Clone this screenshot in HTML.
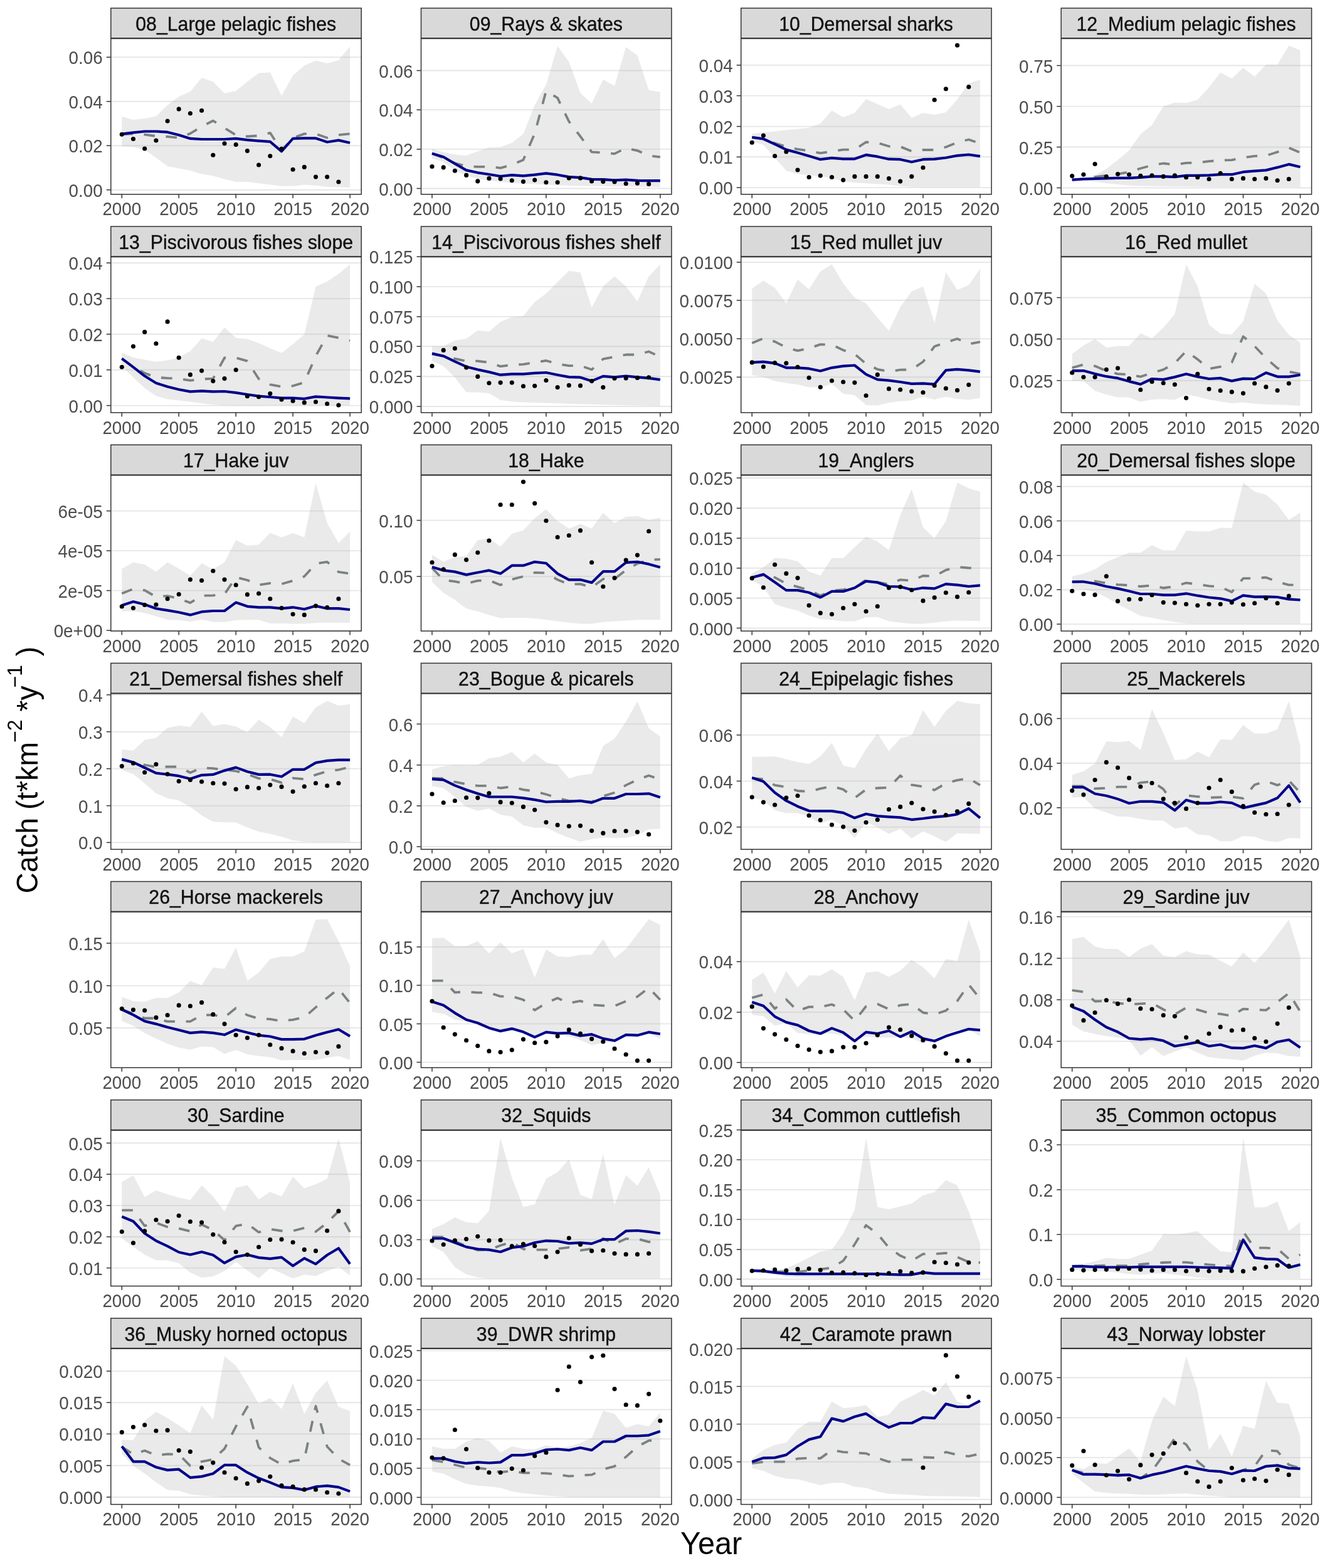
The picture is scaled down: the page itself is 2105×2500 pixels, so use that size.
<!DOCTYPE html><html><head><meta charset="utf-8"><style>html,body{margin:0;padding:0;background:#fff;overflow:hidden;}svg{display:block;font-family:"Liberation Sans",Arial,sans-serif;}</style></head><body><svg width="2105" height="2500" viewBox="0 0 2105 2500">
<rect width="100%" height="100%" fill="#ffffff"/>
<rect x="176.1" y="60.8" width="400.2" height="249.0" fill="#fff"/>
<clipPath id="c0"><rect x="176.1" y="60.8" width="400.2" height="249.0"/></clipPath>
<g clip-path="url(#c0)">
<line x1="176.1" x2="576.3" y1="91.2" y2="91.2" stroke="#e6e6e6" stroke-width="1.9"/>
<line x1="176.1" x2="576.3" y1="161.7" y2="161.7" stroke="#e6e6e6" stroke-width="1.9"/>
<line x1="176.1" x2="576.3" y1="232.2" y2="232.2" stroke="#e6e6e6" stroke-width="1.9"/>
<line x1="176.1" x2="576.3" y1="302.7" y2="302.7" stroke="#e6e6e6" stroke-width="1.9"/>
<path d="M194.3,185.7 L212.5,190.9 L230.7,189.1 L248.9,185.3 L267.1,167.6 L285.2,154.0 L303.4,146.0 L321.6,124.0 L339.8,130.2 L358.0,148.8 L376.2,144.9 L394.4,130.2 L412.6,116.6 L430.8,115.4 L449.0,152.8 L467.1,120.4 L485.3,104.5 L503.5,96.8 L521.7,101.1 L539.9,96.1 L558.1,74.2 L558.1,299.1 L539.9,298.6 L521.7,298.0 L503.5,295.7 L485.3,294.6 L467.1,296.8 L449.0,296.8 L430.8,294.6 L412.6,292.3 L394.4,290.0 L376.2,290.0 L358.0,285.5 L339.8,280.5 L321.6,277.6 L303.4,271.9 L285.2,268.5 L267.1,265.1 L248.9,251.5 L230.7,239.0 L212.5,234.5 L194.3,233.3Z" fill="#b3b3b3" fill-opacity="0.27"/>
<path d="M194.3,214.1 L212.5,213.4 L230.7,214.7 L248.9,217.0 L267.1,217.9 L285.2,219.7 L303.4,212.9 L321.6,201.6 L339.8,192.5 L358.0,203.9 L376.2,215.2 L394.4,217.5 L412.6,216.3 L430.8,211.8 L449.0,240.1 L467.1,219.7 L485.3,213.4 L503.5,213.4 L521.7,219.7 L539.9,215.2 L558.1,213.4" fill="none" stroke="#7a8281" stroke-width="3.8" stroke-dasharray="17.6 17.6" stroke-linejoin="round"/>
<path d="M194.3,213.6 L212.5,211.3 L230.7,209.5 L248.9,209.5 L267.1,210.7 L285.2,215.2 L303.4,220.9 L321.6,222.0 L339.8,222.0 L358.0,222.0 L376.2,220.9 L394.4,223.1 L412.6,224.7 L430.8,225.9 L449.0,241.3 L467.1,220.9 L485.3,220.4 L503.5,220.4 L521.7,226.5 L539.9,223.6 L558.1,227.7" fill="none" stroke="#00008b" stroke-width="4.2" stroke-linejoin="round"/>
<circle cx="194.3" cy="214.3" r="3.55" fill="#000"/>
<circle cx="212.5" cy="221.5" r="3.55" fill="#000"/>
<circle cx="230.7" cy="237.0" r="3.55" fill="#000"/>
<circle cx="248.9" cy="224.0" r="3.55" fill="#000"/>
<circle cx="267.1" cy="193.0" r="3.55" fill="#000"/>
<circle cx="285.2" cy="173.9" r="3.55" fill="#000"/>
<circle cx="303.4" cy="180.7" r="3.55" fill="#000"/>
<circle cx="321.6" cy="176.2" r="3.55" fill="#000"/>
<circle cx="339.8" cy="247.2" r="3.55" fill="#000"/>
<circle cx="358.0" cy="228.8" r="3.55" fill="#000"/>
<circle cx="376.2" cy="230.6" r="3.55" fill="#000"/>
<circle cx="394.4" cy="240.6" r="3.55" fill="#000"/>
<circle cx="412.6" cy="263.0" r="3.55" fill="#000"/>
<circle cx="430.8" cy="248.8" r="3.55" fill="#000"/>
<circle cx="449.0" cy="237.4" r="3.55" fill="#000"/>
<circle cx="467.1" cy="270.3" r="3.55" fill="#000"/>
<circle cx="485.3" cy="266.4" r="3.55" fill="#000"/>
<circle cx="503.5" cy="282.1" r="3.55" fill="#000"/>
<circle cx="521.7" cy="282.1" r="3.55" fill="#000"/>
<circle cx="539.9" cy="290.0" r="3.55" fill="#000"/>
</g>
<rect x="176.8" y="61.5" width="399.4" height="248.3" fill="none" stroke="#333333" stroke-width="1.5"/>
<rect x="176.8" y="13.0" width="399.4" height="47.8" fill="#d9d9d9" stroke="#333333" stroke-width="1.5"/>
<text transform="translate(376.2,37.6) scale(1,1.06)" y="10.55" font-size="30.3" text-anchor="middle" fill="#111" stroke="#111" stroke-width="0.4">08_Large pelagic fishes</text>
<line x1="194.3" x2="194.3" y1="309.8" y2="316.1" stroke="#333333" stroke-width="1.5"/>
<text transform="translate(194.3,333.0) scale(1,1.08)" y="9.7" font-size="27.8" text-anchor="middle" fill="#4d4d4d">2000</text>
<line x1="285.2" x2="285.2" y1="309.8" y2="316.1" stroke="#333333" stroke-width="1.5"/>
<text transform="translate(285.2,333.0) scale(1,1.08)" y="9.7" font-size="27.8" text-anchor="middle" fill="#4d4d4d">2005</text>
<line x1="376.2" x2="376.2" y1="309.8" y2="316.1" stroke="#333333" stroke-width="1.5"/>
<text transform="translate(376.2,333.0) scale(1,1.08)" y="9.7" font-size="27.8" text-anchor="middle" fill="#4d4d4d">2010</text>
<line x1="467.1" x2="467.1" y1="309.8" y2="316.1" stroke="#333333" stroke-width="1.5"/>
<text transform="translate(467.1,333.0) scale(1,1.08)" y="9.7" font-size="27.8" text-anchor="middle" fill="#4d4d4d">2015</text>
<line x1="558.1" x2="558.1" y1="309.8" y2="316.1" stroke="#333333" stroke-width="1.5"/>
<text transform="translate(558.1,333.0) scale(1,1.08)" y="9.7" font-size="27.8" text-anchor="middle" fill="#4d4d4d">2020</text>
<line x1="169.8" x2="176.1" y1="91.2" y2="91.2" stroke="#333333" stroke-width="1.5"/>
<text transform="translate(163.7,91.9) scale(1,1.08)" y="9.7" font-size="27.8" text-anchor="end" fill="#4d4d4d">0.06</text>
<line x1="169.8" x2="176.1" y1="161.7" y2="161.7" stroke="#333333" stroke-width="1.5"/>
<text transform="translate(163.7,162.4) scale(1,1.08)" y="9.7" font-size="27.8" text-anchor="end" fill="#4d4d4d">0.04</text>
<line x1="169.8" x2="176.1" y1="232.2" y2="232.2" stroke="#333333" stroke-width="1.5"/>
<text transform="translate(163.7,232.9) scale(1,1.08)" y="9.7" font-size="27.8" text-anchor="end" fill="#4d4d4d">0.02</text>
<line x1="169.8" x2="176.1" y1="302.7" y2="302.7" stroke="#333333" stroke-width="1.5"/>
<text transform="translate(163.7,303.4) scale(1,1.08)" y="9.7" font-size="27.8" text-anchor="end" fill="#4d4d4d">0.00</text>
<rect x="670.8" y="60.8" width="400.2" height="249.0" fill="#fff"/>
<clipPath id="c1"><rect x="670.8" y="60.8" width="400.2" height="249.0"/></clipPath>
<g clip-path="url(#c1)">
<line x1="670.8" x2="1071.0" y1="112.5" y2="112.5" stroke="#e6e6e6" stroke-width="1.9"/>
<line x1="670.8" x2="1071.0" y1="175.1" y2="175.1" stroke="#e6e6e6" stroke-width="1.9"/>
<line x1="670.8" x2="1071.0" y1="237.9" y2="237.9" stroke="#e6e6e6" stroke-width="1.9"/>
<line x1="670.8" x2="1071.0" y1="300.5" y2="300.5" stroke="#e6e6e6" stroke-width="1.9"/>
<path d="M689.0,237.4 L707.2,242.4 L725.4,246.5 L743.6,248.1 L761.8,241.3 L779.9,235.1 L798.1,234.5 L816.3,227.7 L834.5,213.4 L852.7,167.6 L870.9,134.7 L889.1,73.5 L907.3,98.4 L925.5,148.3 L943.6,165.3 L961.8,126.8 L980.0,137.0 L998.2,75.1 L1016.4,88.2 L1034.6,143.8 L1052.8,146.7 L1052.8,298.6 L1034.6,298.0 L1016.4,298.0 L998.2,297.3 L980.0,297.3 L961.8,296.8 L943.6,296.8 L925.5,296.4 L907.3,295.7 L889.1,295.7 L870.9,294.6 L852.7,293.4 L834.5,292.7 L816.3,291.8 L798.1,290.0 L779.9,287.8 L761.8,285.5 L743.6,279.8 L725.4,271.9 L707.2,258.3 L689.0,252.6Z" fill="#b3b3b3" fill-opacity="0.27"/>
<path d="M689.0,244.7 L707.2,251.5 L725.4,260.1 L743.6,265.1 L761.8,265.8 L779.9,265.8 L798.1,267.8 L816.3,262.8 L834.5,254.9 L852.7,212.9 L870.9,144.9 L889.1,156.2 L907.3,193.7 L925.5,217.5 L943.6,242.4 L961.8,243.5 L980.0,245.1 L998.2,236.1 L1016.4,240.1 L1034.6,248.1 L1052.8,250.3" fill="none" stroke="#7a8281" stroke-width="3.8" stroke-dasharray="17.6 17.6" stroke-linejoin="round"/>
<path d="M689.0,244.7 L707.2,250.3 L725.4,261.0 L743.6,271.4 L761.8,275.3 L779.9,278.0 L798.1,281.0 L816.3,279.1 L834.5,280.3 L852.7,278.7 L870.9,276.4 L889.1,278.7 L907.3,282.1 L925.5,283.2 L943.6,285.9 L961.8,286.2 L980.0,287.3 L998.2,286.6 L1016.4,287.8 L1034.6,288.2 L1052.8,288.2" fill="none" stroke="#00008b" stroke-width="4.2" stroke-linejoin="round"/>
<circle cx="689.0" cy="265.5" r="3.55" fill="#000"/>
<circle cx="707.2" cy="266.9" r="3.55" fill="#000"/>
<circle cx="725.4" cy="272.3" r="3.55" fill="#000"/>
<circle cx="743.6" cy="279.4" r="3.55" fill="#000"/>
<circle cx="761.8" cy="288.9" r="3.55" fill="#000"/>
<circle cx="779.9" cy="284.4" r="3.55" fill="#000"/>
<circle cx="798.1" cy="285.0" r="3.55" fill="#000"/>
<circle cx="816.3" cy="287.8" r="3.55" fill="#000"/>
<circle cx="834.5" cy="289.6" r="3.55" fill="#000"/>
<circle cx="852.7" cy="287.1" r="3.55" fill="#000"/>
<circle cx="870.9" cy="290.7" r="3.55" fill="#000"/>
<circle cx="889.1" cy="290.7" r="3.55" fill="#000"/>
<circle cx="907.3" cy="283.9" r="3.55" fill="#000"/>
<circle cx="925.5" cy="283.9" r="3.55" fill="#000"/>
<circle cx="943.6" cy="288.9" r="3.55" fill="#000"/>
<circle cx="961.8" cy="289.6" r="3.55" fill="#000"/>
<circle cx="980.0" cy="290.0" r="3.55" fill="#000"/>
<circle cx="998.2" cy="292.7" r="3.55" fill="#000"/>
<circle cx="1016.4" cy="292.3" r="3.55" fill="#000"/>
<circle cx="1034.6" cy="293.4" r="3.55" fill="#000"/>
</g>
<rect x="671.5" y="61.5" width="399.4" height="248.3" fill="none" stroke="#333333" stroke-width="1.5"/>
<rect x="671.5" y="13.0" width="399.4" height="47.8" fill="#d9d9d9" stroke="#333333" stroke-width="1.5"/>
<text transform="translate(870.9,37.6) scale(1,1.06)" y="10.55" font-size="30.3" text-anchor="middle" fill="#111" stroke="#111" stroke-width="0.4">09_Rays &amp; skates</text>
<line x1="689.0" x2="689.0" y1="309.8" y2="316.1" stroke="#333333" stroke-width="1.5"/>
<text transform="translate(689.0,333.0) scale(1,1.08)" y="9.7" font-size="27.8" text-anchor="middle" fill="#4d4d4d">2000</text>
<line x1="779.9" x2="779.9" y1="309.8" y2="316.1" stroke="#333333" stroke-width="1.5"/>
<text transform="translate(779.9,333.0) scale(1,1.08)" y="9.7" font-size="27.8" text-anchor="middle" fill="#4d4d4d">2005</text>
<line x1="870.9" x2="870.9" y1="309.8" y2="316.1" stroke="#333333" stroke-width="1.5"/>
<text transform="translate(870.9,333.0) scale(1,1.08)" y="9.7" font-size="27.8" text-anchor="middle" fill="#4d4d4d">2010</text>
<line x1="961.8" x2="961.8" y1="309.8" y2="316.1" stroke="#333333" stroke-width="1.5"/>
<text transform="translate(961.8,333.0) scale(1,1.08)" y="9.7" font-size="27.8" text-anchor="middle" fill="#4d4d4d">2015</text>
<line x1="1052.8" x2="1052.8" y1="309.8" y2="316.1" stroke="#333333" stroke-width="1.5"/>
<text transform="translate(1052.8,333.0) scale(1,1.08)" y="9.7" font-size="27.8" text-anchor="middle" fill="#4d4d4d">2020</text>
<line x1="664.5" x2="670.8" y1="112.5" y2="112.5" stroke="#333333" stroke-width="1.5"/>
<text transform="translate(658.4,113.2) scale(1,1.08)" y="9.7" font-size="27.8" text-anchor="end" fill="#4d4d4d">0.06</text>
<line x1="664.5" x2="670.8" y1="175.1" y2="175.1" stroke="#333333" stroke-width="1.5"/>
<text transform="translate(658.4,175.8) scale(1,1.08)" y="9.7" font-size="27.8" text-anchor="end" fill="#4d4d4d">0.04</text>
<line x1="664.5" x2="670.8" y1="237.9" y2="237.9" stroke="#333333" stroke-width="1.5"/>
<text transform="translate(658.4,238.6) scale(1,1.08)" y="9.7" font-size="27.8" text-anchor="end" fill="#4d4d4d">0.02</text>
<line x1="664.5" x2="670.8" y1="300.5" y2="300.5" stroke="#333333" stroke-width="1.5"/>
<text transform="translate(658.4,301.2) scale(1,1.08)" y="9.7" font-size="27.8" text-anchor="end" fill="#4d4d4d">0.00</text>
<rect x="1181.0" y="60.8" width="400.2" height="249.0" fill="#fff"/>
<clipPath id="c2"><rect x="1181.0" y="60.8" width="400.2" height="249.0"/></clipPath>
<g clip-path="url(#c2)">
<line x1="1181.0" x2="1581.2" y1="103.9" y2="103.9" stroke="#e6e6e6" stroke-width="1.9"/>
<line x1="1181.0" x2="1581.2" y1="152.6" y2="152.6" stroke="#e6e6e6" stroke-width="1.9"/>
<line x1="1181.0" x2="1581.2" y1="201.6" y2="201.6" stroke="#e6e6e6" stroke-width="1.9"/>
<line x1="1181.0" x2="1581.2" y1="250.3" y2="250.3" stroke="#e6e6e6" stroke-width="1.9"/>
<line x1="1181.0" x2="1581.2" y1="299.1" y2="299.1" stroke="#e6e6e6" stroke-width="1.9"/>
<path d="M1199.2,213.4 L1217.4,211.1 L1235.6,209.5 L1253.8,207.3 L1272.0,205.7 L1290.1,203.4 L1308.3,197.1 L1326.5,176.2 L1344.7,186.9 L1362.9,180.0 L1381.1,158.1 L1399.3,166.0 L1417.5,173.9 L1435.7,166.4 L1453.8,188.0 L1472.0,180.0 L1490.2,183.0 L1508.4,178.9 L1526.6,158.5 L1544.8,132.4 L1563.0,127.2 L1563.0,298.6 L1544.8,298.6 L1526.6,298.6 L1508.4,298.6 L1490.2,298.6 L1472.0,298.6 L1453.8,298.0 L1435.7,296.8 L1417.5,294.6 L1399.3,293.4 L1381.1,292.3 L1362.9,291.2 L1344.7,288.9 L1326.5,284.4 L1308.3,281.0 L1290.1,279.8 L1272.0,277.6 L1253.8,271.9 L1235.6,251.5 L1217.4,231.1 L1199.2,225.4Z" fill="#b3b3b3" fill-opacity="0.27"/>
<path d="M1199.2,218.6 L1217.4,220.9 L1235.6,228.3 L1253.8,233.8 L1272.0,237.9 L1290.1,240.6 L1308.3,244.2 L1326.5,241.3 L1344.7,238.6 L1362.9,238.6 L1381.1,226.5 L1399.3,227.7 L1417.5,233.3 L1435.7,233.8 L1453.8,241.3 L1472.0,239.0 L1490.2,239.0 L1508.4,234.5 L1526.6,227.0 L1544.8,222.5 L1563.0,228.8" fill="none" stroke="#7a8281" stroke-width="3.8" stroke-dasharray="17.6 17.6" stroke-linejoin="round"/>
<path d="M1199.2,219.0 L1217.4,221.5 L1235.6,229.9 L1253.8,238.6 L1272.0,243.5 L1290.1,248.8 L1308.3,254.2 L1326.5,251.9 L1344.7,253.3 L1362.9,253.3 L1381.1,246.9 L1399.3,249.7 L1417.5,253.7 L1435.7,254.2 L1453.8,258.3 L1472.0,254.2 L1490.2,253.7 L1508.4,251.5 L1526.6,248.1 L1544.8,246.5 L1563.0,249.2" fill="none" stroke="#00008b" stroke-width="4.2" stroke-linejoin="round"/>
<circle cx="1199.2" cy="227.2" r="3.55" fill="#000"/>
<circle cx="1217.4" cy="216.1" r="3.55" fill="#000"/>
<circle cx="1235.6" cy="248.8" r="3.55" fill="#000"/>
<circle cx="1253.8" cy="242.0" r="3.55" fill="#000"/>
<circle cx="1272.0" cy="271.0" r="3.55" fill="#000"/>
<circle cx="1290.1" cy="282.5" r="3.55" fill="#000"/>
<circle cx="1308.3" cy="280.0" r="3.55" fill="#000"/>
<circle cx="1326.5" cy="282.5" r="3.55" fill="#000"/>
<circle cx="1344.7" cy="287.1" r="3.55" fill="#000"/>
<circle cx="1362.9" cy="281.4" r="3.55" fill="#000"/>
<circle cx="1381.1" cy="281.4" r="3.55" fill="#000"/>
<circle cx="1399.3" cy="281.4" r="3.55" fill="#000"/>
<circle cx="1417.5" cy="284.6" r="3.55" fill="#000"/>
<circle cx="1435.7" cy="289.1" r="3.55" fill="#000"/>
<circle cx="1453.8" cy="281.4" r="3.55" fill="#000"/>
<circle cx="1472.0" cy="267.3" r="3.55" fill="#000"/>
<circle cx="1490.2" cy="159.2" r="3.55" fill="#000"/>
<circle cx="1508.4" cy="141.7" r="3.55" fill="#000"/>
<circle cx="1526.6" cy="72.3" r="3.55" fill="#000"/>
<circle cx="1544.8" cy="138.6" r="3.55" fill="#000"/>
</g>
<rect x="1181.7" y="61.5" width="399.4" height="248.3" fill="none" stroke="#333333" stroke-width="1.5"/>
<rect x="1181.7" y="13.0" width="399.4" height="47.8" fill="#d9d9d9" stroke="#333333" stroke-width="1.5"/>
<text transform="translate(1381.1,37.6) scale(1,1.06)" y="10.55" font-size="30.3" text-anchor="middle" fill="#111" stroke="#111" stroke-width="0.4">10_Demersal sharks</text>
<line x1="1199.2" x2="1199.2" y1="309.8" y2="316.1" stroke="#333333" stroke-width="1.5"/>
<text transform="translate(1199.2,333.0) scale(1,1.08)" y="9.7" font-size="27.8" text-anchor="middle" fill="#4d4d4d">2000</text>
<line x1="1290.1" x2="1290.1" y1="309.8" y2="316.1" stroke="#333333" stroke-width="1.5"/>
<text transform="translate(1290.1,333.0) scale(1,1.08)" y="9.7" font-size="27.8" text-anchor="middle" fill="#4d4d4d">2005</text>
<line x1="1381.1" x2="1381.1" y1="309.8" y2="316.1" stroke="#333333" stroke-width="1.5"/>
<text transform="translate(1381.1,333.0) scale(1,1.08)" y="9.7" font-size="27.8" text-anchor="middle" fill="#4d4d4d">2010</text>
<line x1="1472.0" x2="1472.0" y1="309.8" y2="316.1" stroke="#333333" stroke-width="1.5"/>
<text transform="translate(1472.0,333.0) scale(1,1.08)" y="9.7" font-size="27.8" text-anchor="middle" fill="#4d4d4d">2015</text>
<line x1="1563.0" x2="1563.0" y1="309.8" y2="316.1" stroke="#333333" stroke-width="1.5"/>
<text transform="translate(1563.0,333.0) scale(1,1.08)" y="9.7" font-size="27.8" text-anchor="middle" fill="#4d4d4d">2020</text>
<line x1="1174.7" x2="1181.0" y1="103.9" y2="103.9" stroke="#333333" stroke-width="1.5"/>
<text transform="translate(1168.6,104.6) scale(1,1.08)" y="9.7" font-size="27.8" text-anchor="end" fill="#4d4d4d">0.04</text>
<line x1="1174.7" x2="1181.0" y1="152.6" y2="152.6" stroke="#333333" stroke-width="1.5"/>
<text transform="translate(1168.6,153.3) scale(1,1.08)" y="9.7" font-size="27.8" text-anchor="end" fill="#4d4d4d">0.03</text>
<line x1="1174.7" x2="1181.0" y1="201.6" y2="201.6" stroke="#333333" stroke-width="1.5"/>
<text transform="translate(1168.6,202.3) scale(1,1.08)" y="9.7" font-size="27.8" text-anchor="end" fill="#4d4d4d">0.02</text>
<line x1="1174.7" x2="1181.0" y1="250.3" y2="250.3" stroke="#333333" stroke-width="1.5"/>
<text transform="translate(1168.6,251.0) scale(1,1.08)" y="9.7" font-size="27.8" text-anchor="end" fill="#4d4d4d">0.01</text>
<line x1="1174.7" x2="1181.0" y1="299.1" y2="299.1" stroke="#333333" stroke-width="1.5"/>
<text transform="translate(1168.6,299.8) scale(1,1.08)" y="9.7" font-size="27.8" text-anchor="end" fill="#4d4d4d">0.00</text>
<rect x="1691.5" y="60.8" width="400.2" height="249.0" fill="#fff"/>
<clipPath id="c3"><rect x="1691.5" y="60.8" width="400.2" height="249.0"/></clipPath>
<g clip-path="url(#c3)">
<line x1="1691.5" x2="2091.7" y1="104.5" y2="104.5" stroke="#e6e6e6" stroke-width="1.9"/>
<line x1="1691.5" x2="2091.7" y1="169.6" y2="169.6" stroke="#e6e6e6" stroke-width="1.9"/>
<line x1="1691.5" x2="2091.7" y1="234.5" y2="234.5" stroke="#e6e6e6" stroke-width="1.9"/>
<line x1="1691.5" x2="2091.7" y1="299.5" y2="299.5" stroke="#e6e6e6" stroke-width="1.9"/>
<path d="M1709.7,285.5 L1727.9,282.8 L1746.1,279.8 L1764.3,269.2 L1782.5,254.9 L1800.6,240.1 L1818.8,214.1 L1837.0,199.3 L1855.2,169.8 L1873.4,163.5 L1891.6,164.2 L1909.8,159.0 L1928.0,139.2 L1946.2,115.4 L1964.3,125.2 L1982.5,107.9 L2000.7,122.2 L2018.9,103.0 L2037.1,103.0 L2055.3,72.8 L2073.5,80.3 L2073.5,298.6 L2055.3,298.6 L2037.1,298.6 L2018.9,298.4 L2000.7,298.4 L1982.5,298.2 L1964.3,298.2 L1946.2,298.2 L1928.0,298.0 L1909.8,297.7 L1891.6,297.5 L1873.4,297.5 L1855.2,297.3 L1837.0,296.8 L1818.8,296.4 L1800.6,295.7 L1782.5,294.1 L1764.3,292.3 L1746.1,289.6 L1727.9,288.2 L1709.7,288.9Z" fill="#b3b3b3" fill-opacity="0.27"/>
<path d="M1709.7,286.6 L1727.9,285.0 L1746.1,282.1 L1764.3,279.8 L1782.5,277.6 L1800.6,274.2 L1818.8,268.5 L1837.0,263.5 L1855.2,260.5 L1873.4,262.4 L1891.6,259.9 L1909.8,259.4 L1928.0,257.1 L1946.2,255.6 L1964.3,255.1 L1982.5,251.5 L2000.7,248.8 L2018.9,248.1 L2037.1,242.4 L2055.3,235.6 L2073.5,243.5" fill="none" stroke="#7a8281" stroke-width="3.8" stroke-dasharray="17.6 17.6" stroke-linejoin="round"/>
<path d="M1709.7,286.6 L1727.9,285.5 L1746.1,284.8 L1764.3,284.4 L1782.5,283.9 L1800.6,283.9 L1818.8,282.8 L1837.0,281.4 L1855.2,281.4 L1873.4,282.1 L1891.6,279.8 L1909.8,279.8 L1928.0,279.4 L1946.2,278.2 L1964.3,278.2 L1982.5,274.2 L2000.7,272.6 L2018.9,271.4 L2037.1,266.9 L2055.3,261.9 L2073.5,266.2" fill="none" stroke="#00008b" stroke-width="4.2" stroke-linejoin="round"/>
<circle cx="1709.7" cy="280.5" r="3.55" fill="#000"/>
<circle cx="1727.9" cy="278.2" r="3.55" fill="#000"/>
<circle cx="1746.1" cy="261.5" r="3.55" fill="#000"/>
<circle cx="1764.3" cy="281.6" r="3.55" fill="#000"/>
<circle cx="1782.5" cy="277.6" r="3.55" fill="#000"/>
<circle cx="1800.6" cy="278.2" r="3.55" fill="#000"/>
<circle cx="1818.8" cy="280.3" r="3.55" fill="#000"/>
<circle cx="1837.0" cy="279.8" r="3.55" fill="#000"/>
<circle cx="1855.2" cy="281.4" r="3.55" fill="#000"/>
<circle cx="1873.4" cy="279.8" r="3.55" fill="#000"/>
<circle cx="1891.6" cy="282.8" r="3.55" fill="#000"/>
<circle cx="1909.8" cy="282.8" r="3.55" fill="#000"/>
<circle cx="1928.0" cy="285.5" r="3.55" fill="#000"/>
<circle cx="1946.2" cy="276.4" r="3.55" fill="#000"/>
<circle cx="1964.3" cy="285.5" r="3.55" fill="#000"/>
<circle cx="1982.5" cy="284.4" r="3.55" fill="#000"/>
<circle cx="2000.7" cy="285.5" r="3.55" fill="#000"/>
<circle cx="2018.9" cy="284.4" r="3.55" fill="#000"/>
<circle cx="2037.1" cy="287.8" r="3.55" fill="#000"/>
<circle cx="2055.3" cy="285.5" r="3.55" fill="#000"/>
</g>
<rect x="1692.2" y="61.5" width="399.4" height="248.3" fill="none" stroke="#333333" stroke-width="1.5"/>
<rect x="1692.2" y="13.0" width="399.4" height="47.8" fill="#d9d9d9" stroke="#333333" stroke-width="1.5"/>
<text transform="translate(1891.6,37.6) scale(1,1.06)" y="10.55" font-size="30.3" text-anchor="middle" fill="#111" stroke="#111" stroke-width="0.4">12_Medium pelagic fishes</text>
<line x1="1709.7" x2="1709.7" y1="309.8" y2="316.1" stroke="#333333" stroke-width="1.5"/>
<text transform="translate(1709.7,333.0) scale(1,1.08)" y="9.7" font-size="27.8" text-anchor="middle" fill="#4d4d4d">2000</text>
<line x1="1800.6" x2="1800.6" y1="309.8" y2="316.1" stroke="#333333" stroke-width="1.5"/>
<text transform="translate(1800.6,333.0) scale(1,1.08)" y="9.7" font-size="27.8" text-anchor="middle" fill="#4d4d4d">2005</text>
<line x1="1891.6" x2="1891.6" y1="309.8" y2="316.1" stroke="#333333" stroke-width="1.5"/>
<text transform="translate(1891.6,333.0) scale(1,1.08)" y="9.7" font-size="27.8" text-anchor="middle" fill="#4d4d4d">2010</text>
<line x1="1982.5" x2="1982.5" y1="309.8" y2="316.1" stroke="#333333" stroke-width="1.5"/>
<text transform="translate(1982.5,333.0) scale(1,1.08)" y="9.7" font-size="27.8" text-anchor="middle" fill="#4d4d4d">2015</text>
<line x1="2073.5" x2="2073.5" y1="309.8" y2="316.1" stroke="#333333" stroke-width="1.5"/>
<text transform="translate(2073.5,333.0) scale(1,1.08)" y="9.7" font-size="27.8" text-anchor="middle" fill="#4d4d4d">2020</text>
<line x1="1685.2" x2="1691.5" y1="104.5" y2="104.5" stroke="#333333" stroke-width="1.5"/>
<text transform="translate(1679.1,105.2) scale(1,1.08)" y="9.7" font-size="27.8" text-anchor="end" fill="#4d4d4d">0.75</text>
<line x1="1685.2" x2="1691.5" y1="169.6" y2="169.6" stroke="#333333" stroke-width="1.5"/>
<text transform="translate(1679.1,170.3) scale(1,1.08)" y="9.7" font-size="27.8" text-anchor="end" fill="#4d4d4d">0.50</text>
<line x1="1685.2" x2="1691.5" y1="234.5" y2="234.5" stroke="#333333" stroke-width="1.5"/>
<text transform="translate(1679.1,235.2) scale(1,1.08)" y="9.7" font-size="27.8" text-anchor="end" fill="#4d4d4d">0.25</text>
<line x1="1685.2" x2="1691.5" y1="299.5" y2="299.5" stroke="#333333" stroke-width="1.5"/>
<text transform="translate(1679.1,300.2) scale(1,1.08)" y="9.7" font-size="27.8" text-anchor="end" fill="#4d4d4d">0.00</text>
<rect x="176.1" y="408.9" width="400.2" height="249.0" fill="#fff"/>
<clipPath id="c4"><rect x="176.1" y="408.9" width="400.2" height="249.0"/></clipPath>
<g clip-path="url(#c4)">
<line x1="176.1" x2="576.3" y1="419.2" y2="419.2" stroke="#e6e6e6" stroke-width="1.9"/>
<line x1="176.1" x2="576.3" y1="476.1" y2="476.1" stroke="#e6e6e6" stroke-width="1.9"/>
<line x1="176.1" x2="576.3" y1="532.8" y2="532.8" stroke="#e6e6e6" stroke-width="1.9"/>
<line x1="176.1" x2="576.3" y1="589.7" y2="589.7" stroke="#e6e6e6" stroke-width="1.9"/>
<line x1="176.1" x2="576.3" y1="646.6" y2="646.6" stroke="#e6e6e6" stroke-width="1.9"/>
<path d="M194.3,562.1 L212.5,570.0 L230.7,573.4 L248.9,576.8 L267.1,574.5 L285.2,570.0 L303.4,559.8 L321.6,539.4 L339.8,545.1 L358.0,521.9 L376.2,538.7 L394.4,540.5 L412.6,546.9 L430.8,555.3 L449.0,562.7 L467.1,548.5 L485.3,533.3 L503.5,457.1 L521.7,448.7 L539.9,436.7 L558.1,421.5 L558.1,646.4 L539.9,646.4 L521.7,646.4 L503.5,646.4 L485.3,646.4 L467.1,646.4 L449.0,646.4 L430.8,646.4 L412.6,646.4 L394.4,646.4 L376.2,646.4 L358.0,646.2 L339.8,645.3 L321.6,643.0 L303.4,640.7 L285.2,638.5 L267.1,636.4 L248.9,631.2 L230.7,618.8 L212.5,601.7 L194.3,583.6Z" fill="#b3b3b3" fill-opacity="0.27"/>
<path d="M194.3,572.3 L212.5,584.7 L230.7,594.9 L248.9,601.7 L267.1,602.9 L285.2,603.6 L303.4,606.7 L321.6,604.5 L339.8,603.6 L358.0,570.5 L376.2,570.5 L394.4,575.7 L412.6,604.0 L430.8,613.1 L449.0,616.5 L467.1,615.3 L485.3,609.7 L503.5,567.7 L521.7,534.9 L539.9,538.7 L558.1,543.2" fill="none" stroke="#7a8281" stroke-width="3.8" stroke-dasharray="17.6 17.6" stroke-linejoin="round"/>
<path d="M194.3,571.6 L212.5,585.4 L230.7,599.5 L248.9,610.8 L267.1,616.5 L285.2,621.0 L303.4,624.4 L321.6,623.3 L339.8,624.4 L358.0,624.0 L376.2,626.2 L394.4,629.0 L412.6,631.7 L430.8,633.0 L449.0,634.6 L467.1,634.6 L485.3,635.8 L503.5,632.4 L521.7,633.5 L539.9,634.6 L558.1,635.3" fill="none" stroke="#00008b" stroke-width="4.2" stroke-linejoin="round"/>
<circle cx="194.3" cy="585.2" r="3.55" fill="#000"/>
<circle cx="212.5" cy="552.3" r="3.55" fill="#000"/>
<circle cx="230.7" cy="529.4" r="3.55" fill="#000"/>
<circle cx="248.9" cy="547.8" r="3.55" fill="#000"/>
<circle cx="267.1" cy="512.9" r="3.55" fill="#000"/>
<circle cx="285.2" cy="570.2" r="3.55" fill="#000"/>
<circle cx="303.4" cy="597.4" r="3.55" fill="#000"/>
<circle cx="321.6" cy="591.1" r="3.55" fill="#000"/>
<circle cx="339.8" cy="607.6" r="3.55" fill="#000"/>
<circle cx="358.0" cy="603.6" r="3.55" fill="#000"/>
<circle cx="376.2" cy="589.7" r="3.55" fill="#000"/>
<circle cx="394.4" cy="631.7" r="3.55" fill="#000"/>
<circle cx="412.6" cy="632.8" r="3.55" fill="#000"/>
<circle cx="430.8" cy="627.6" r="3.55" fill="#000"/>
<circle cx="449.0" cy="636.9" r="3.55" fill="#000"/>
<circle cx="467.1" cy="639.2" r="3.55" fill="#000"/>
<circle cx="485.3" cy="641.9" r="3.55" fill="#000"/>
<circle cx="503.5" cy="640.7" r="3.55" fill="#000"/>
<circle cx="521.7" cy="643.7" r="3.55" fill="#000"/>
<circle cx="539.9" cy="646.0" r="3.55" fill="#000"/>
</g>
<rect x="176.8" y="409.6" width="399.4" height="248.3" fill="none" stroke="#333333" stroke-width="1.5"/>
<rect x="176.8" y="361.1" width="399.4" height="47.8" fill="#d9d9d9" stroke="#333333" stroke-width="1.5"/>
<text transform="translate(376.2,385.7) scale(1,1.06)" y="10.55" font-size="30.3" text-anchor="middle" fill="#111" stroke="#111" stroke-width="0.4">13_Piscivorous fishes slope</text>
<line x1="194.3" x2="194.3" y1="657.9" y2="664.2" stroke="#333333" stroke-width="1.5"/>
<text transform="translate(194.3,681.1) scale(1,1.08)" y="9.7" font-size="27.8" text-anchor="middle" fill="#4d4d4d">2000</text>
<line x1="285.2" x2="285.2" y1="657.9" y2="664.2" stroke="#333333" stroke-width="1.5"/>
<text transform="translate(285.2,681.1) scale(1,1.08)" y="9.7" font-size="27.8" text-anchor="middle" fill="#4d4d4d">2005</text>
<line x1="376.2" x2="376.2" y1="657.9" y2="664.2" stroke="#333333" stroke-width="1.5"/>
<text transform="translate(376.2,681.1) scale(1,1.08)" y="9.7" font-size="27.8" text-anchor="middle" fill="#4d4d4d">2010</text>
<line x1="467.1" x2="467.1" y1="657.9" y2="664.2" stroke="#333333" stroke-width="1.5"/>
<text transform="translate(467.1,681.1) scale(1,1.08)" y="9.7" font-size="27.8" text-anchor="middle" fill="#4d4d4d">2015</text>
<line x1="558.1" x2="558.1" y1="657.9" y2="664.2" stroke="#333333" stroke-width="1.5"/>
<text transform="translate(558.1,681.1) scale(1,1.08)" y="9.7" font-size="27.8" text-anchor="middle" fill="#4d4d4d">2020</text>
<line x1="169.8" x2="176.1" y1="419.2" y2="419.2" stroke="#333333" stroke-width="1.5"/>
<text transform="translate(163.7,419.9) scale(1,1.08)" y="9.7" font-size="27.8" text-anchor="end" fill="#4d4d4d">0.04</text>
<line x1="169.8" x2="176.1" y1="476.1" y2="476.1" stroke="#333333" stroke-width="1.5"/>
<text transform="translate(163.7,476.8) scale(1,1.08)" y="9.7" font-size="27.8" text-anchor="end" fill="#4d4d4d">0.03</text>
<line x1="169.8" x2="176.1" y1="532.8" y2="532.8" stroke="#333333" stroke-width="1.5"/>
<text transform="translate(163.7,533.5) scale(1,1.08)" y="9.7" font-size="27.8" text-anchor="end" fill="#4d4d4d">0.02</text>
<line x1="169.8" x2="176.1" y1="589.7" y2="589.7" stroke="#333333" stroke-width="1.5"/>
<text transform="translate(163.7,590.4) scale(1,1.08)" y="9.7" font-size="27.8" text-anchor="end" fill="#4d4d4d">0.01</text>
<line x1="169.8" x2="176.1" y1="646.6" y2="646.6" stroke="#333333" stroke-width="1.5"/>
<text transform="translate(163.7,647.3) scale(1,1.08)" y="9.7" font-size="27.8" text-anchor="end" fill="#4d4d4d">0.00</text>
<rect x="670.8" y="408.9" width="400.2" height="249.0" fill="#fff"/>
<clipPath id="c5"><rect x="670.8" y="408.9" width="400.2" height="249.0"/></clipPath>
<g clip-path="url(#c5)">
<line x1="670.8" x2="1071.0" y1="409.3" y2="409.3" stroke="#e6e6e6" stroke-width="1.9"/>
<line x1="670.8" x2="1071.0" y1="457.1" y2="457.1" stroke="#e6e6e6" stroke-width="1.9"/>
<line x1="670.8" x2="1071.0" y1="504.9" y2="504.9" stroke="#e6e6e6" stroke-width="1.9"/>
<line x1="670.8" x2="1071.0" y1="552.3" y2="552.3" stroke="#e6e6e6" stroke-width="1.9"/>
<line x1="670.8" x2="1071.0" y1="600.2" y2="600.2" stroke="#e6e6e6" stroke-width="1.9"/>
<line x1="670.8" x2="1071.0" y1="648.0" y2="648.0" stroke="#e6e6e6" stroke-width="1.9"/>
<path d="M689.0,552.3 L707.2,552.3 L725.4,542.8 L743.6,540.1 L761.8,526.9 L779.9,528.7 L798.1,513.3 L816.3,505.4 L834.5,503.8 L852.7,481.6 L870.9,468.0 L889.1,449.8 L907.3,431.7 L925.5,434.4 L943.6,490.2 L961.8,456.6 L980.0,440.7 L998.2,456.6 L1016.4,480.4 L1034.6,440.7 L1052.8,421.5 L1052.8,647.1 L1034.6,647.1 L1016.4,646.6 L998.2,646.2 L980.0,645.7 L961.8,645.3 L943.6,644.8 L925.5,644.4 L907.3,643.7 L889.1,643.0 L870.9,642.6 L852.7,642.1 L834.5,641.4 L816.3,640.3 L798.1,638.0 L779.9,627.1 L761.8,625.6 L743.6,625.6 L725.4,601.7 L707.2,584.1 L689.0,575.7Z" fill="#b3b3b3" fill-opacity="0.27"/>
<path d="M689.0,564.3 L707.2,567.7 L725.4,571.8 L743.6,575.7 L761.8,575.7 L779.9,577.9 L798.1,584.1 L816.3,581.8 L834.5,580.9 L852.7,577.9 L870.9,575.0 L889.1,580.2 L907.3,583.1 L925.5,583.1 L943.6,589.3 L961.8,572.3 L980.0,568.9 L998.2,565.5 L1016.4,565.5 L1034.6,560.5 L1052.8,568.9" fill="none" stroke="#7a8281" stroke-width="3.8" stroke-dasharray="17.6 17.6" stroke-linejoin="round"/>
<path d="M689.0,563.6 L707.2,567.7 L725.4,576.3 L743.6,584.7 L761.8,589.3 L779.9,593.1 L798.1,597.7 L816.3,596.3 L834.5,596.3 L852.7,594.9 L870.9,594.0 L889.1,597.7 L907.3,601.1 L925.5,601.7 L943.6,607.4 L961.8,599.9 L980.0,601.3 L998.2,599.5 L1016.4,601.3 L1034.6,602.9 L1052.8,605.4" fill="none" stroke="#00008b" stroke-width="4.2" stroke-linejoin="round"/>
<circle cx="689.0" cy="583.6" r="3.55" fill="#000"/>
<circle cx="707.2" cy="558.4" r="3.55" fill="#000"/>
<circle cx="725.4" cy="555.5" r="3.55" fill="#000"/>
<circle cx="743.6" cy="585.9" r="3.55" fill="#000"/>
<circle cx="761.8" cy="600.4" r="3.55" fill="#000"/>
<circle cx="779.9" cy="610.8" r="3.55" fill="#000"/>
<circle cx="798.1" cy="610.1" r="3.55" fill="#000"/>
<circle cx="816.3" cy="610.1" r="3.55" fill="#000"/>
<circle cx="834.5" cy="615.8" r="3.55" fill="#000"/>
<circle cx="852.7" cy="615.3" r="3.55" fill="#000"/>
<circle cx="870.9" cy="606.5" r="3.55" fill="#000"/>
<circle cx="889.1" cy="617.6" r="3.55" fill="#000"/>
<circle cx="907.3" cy="614.4" r="3.55" fill="#000"/>
<circle cx="925.5" cy="614.9" r="3.55" fill="#000"/>
<circle cx="943.6" cy="607.6" r="3.55" fill="#000"/>
<circle cx="961.8" cy="617.6" r="3.55" fill="#000"/>
<circle cx="980.0" cy="603.3" r="3.55" fill="#000"/>
<circle cx="998.2" cy="603.1" r="3.55" fill="#000"/>
<circle cx="1016.4" cy="602.4" r="3.55" fill="#000"/>
<circle cx="1034.6" cy="601.7" r="3.55" fill="#000"/>
</g>
<rect x="671.5" y="409.6" width="399.4" height="248.3" fill="none" stroke="#333333" stroke-width="1.5"/>
<rect x="671.5" y="361.1" width="399.4" height="47.8" fill="#d9d9d9" stroke="#333333" stroke-width="1.5"/>
<text transform="translate(870.9,385.7) scale(1,1.06)" y="10.55" font-size="30.3" text-anchor="middle" fill="#111" stroke="#111" stroke-width="0.4">14_Piscivorous fishes shelf</text>
<line x1="689.0" x2="689.0" y1="657.9" y2="664.2" stroke="#333333" stroke-width="1.5"/>
<text transform="translate(689.0,681.1) scale(1,1.08)" y="9.7" font-size="27.8" text-anchor="middle" fill="#4d4d4d">2000</text>
<line x1="779.9" x2="779.9" y1="657.9" y2="664.2" stroke="#333333" stroke-width="1.5"/>
<text transform="translate(779.9,681.1) scale(1,1.08)" y="9.7" font-size="27.8" text-anchor="middle" fill="#4d4d4d">2005</text>
<line x1="870.9" x2="870.9" y1="657.9" y2="664.2" stroke="#333333" stroke-width="1.5"/>
<text transform="translate(870.9,681.1) scale(1,1.08)" y="9.7" font-size="27.8" text-anchor="middle" fill="#4d4d4d">2010</text>
<line x1="961.8" x2="961.8" y1="657.9" y2="664.2" stroke="#333333" stroke-width="1.5"/>
<text transform="translate(961.8,681.1) scale(1,1.08)" y="9.7" font-size="27.8" text-anchor="middle" fill="#4d4d4d">2015</text>
<line x1="1052.8" x2="1052.8" y1="657.9" y2="664.2" stroke="#333333" stroke-width="1.5"/>
<text transform="translate(1052.8,681.1) scale(1,1.08)" y="9.7" font-size="27.8" text-anchor="middle" fill="#4d4d4d">2020</text>
<line x1="664.5" x2="670.8" y1="409.3" y2="409.3" stroke="#333333" stroke-width="1.5"/>
<text transform="translate(658.4,410.0) scale(1,1.08)" y="9.7" font-size="27.8" text-anchor="end" fill="#4d4d4d">0.125</text>
<line x1="664.5" x2="670.8" y1="457.1" y2="457.1" stroke="#333333" stroke-width="1.5"/>
<text transform="translate(658.4,457.8) scale(1,1.08)" y="9.7" font-size="27.8" text-anchor="end" fill="#4d4d4d">0.100</text>
<line x1="664.5" x2="670.8" y1="504.9" y2="504.9" stroke="#333333" stroke-width="1.5"/>
<text transform="translate(658.4,505.6) scale(1,1.08)" y="9.7" font-size="27.8" text-anchor="end" fill="#4d4d4d">0.075</text>
<line x1="664.5" x2="670.8" y1="552.3" y2="552.3" stroke="#333333" stroke-width="1.5"/>
<text transform="translate(658.4,553.0) scale(1,1.08)" y="9.7" font-size="27.8" text-anchor="end" fill="#4d4d4d">0.050</text>
<line x1="664.5" x2="670.8" y1="600.2" y2="600.2" stroke="#333333" stroke-width="1.5"/>
<text transform="translate(658.4,600.9) scale(1,1.08)" y="9.7" font-size="27.8" text-anchor="end" fill="#4d4d4d">0.025</text>
<line x1="664.5" x2="670.8" y1="648.0" y2="648.0" stroke="#333333" stroke-width="1.5"/>
<text transform="translate(658.4,648.7) scale(1,1.08)" y="9.7" font-size="27.8" text-anchor="end" fill="#4d4d4d">0.000</text>
<rect x="1181.0" y="408.9" width="400.2" height="249.0" fill="#fff"/>
<clipPath id="c6"><rect x="1181.0" y="408.9" width="400.2" height="249.0"/></clipPath>
<g clip-path="url(#c6)">
<line x1="1181.0" x2="1581.2" y1="418.1" y2="418.1" stroke="#e6e6e6" stroke-width="1.9"/>
<line x1="1181.0" x2="1581.2" y1="478.8" y2="478.8" stroke="#e6e6e6" stroke-width="1.9"/>
<line x1="1181.0" x2="1581.2" y1="540.1" y2="540.1" stroke="#e6e6e6" stroke-width="1.9"/>
<line x1="1181.0" x2="1581.2" y1="601.3" y2="601.3" stroke="#e6e6e6" stroke-width="1.9"/>
<path d="M1199.2,460.0 L1217.4,447.5 L1235.6,458.9 L1253.8,483.4 L1272.0,445.7 L1290.1,461.2 L1308.3,432.8 L1326.5,421.5 L1344.7,452.1 L1362.9,474.8 L1381.1,483.8 L1399.3,506.5 L1417.5,527.4 L1435.7,489.5 L1453.8,464.6 L1472.0,457.1 L1490.2,515.1 L1508.4,433.9 L1526.6,462.3 L1544.8,454.4 L1563.0,428.3 L1563.0,634.6 L1544.8,637.6 L1526.6,636.2 L1508.4,632.4 L1490.2,636.9 L1472.0,632.4 L1453.8,638.5 L1435.7,639.8 L1417.5,642.1 L1399.3,646.6 L1381.1,646.0 L1362.9,630.1 L1344.7,627.8 L1326.5,611.9 L1308.3,617.6 L1290.1,617.6 L1272.0,613.1 L1253.8,610.8 L1235.6,607.4 L1217.4,601.3 L1199.2,598.3Z" fill="#b3b3b3" fill-opacity="0.27"/>
<path d="M1199.2,546.9 L1217.4,539.4 L1235.6,544.6 L1253.8,554.1 L1272.0,559.1 L1290.1,555.3 L1308.3,549.1 L1326.5,549.6 L1344.7,558.2 L1362.9,564.3 L1381.1,580.2 L1399.3,588.8 L1417.5,592.2 L1435.7,589.7 L1453.8,589.3 L1472.0,576.8 L1490.2,552.3 L1508.4,546.2 L1526.6,540.1 L1544.8,548.5 L1563.0,545.1" fill="none" stroke="#7a8281" stroke-width="3.8" stroke-dasharray="17.6 17.6" stroke-linejoin="round"/>
<path d="M1199.2,577.9 L1217.4,576.8 L1235.6,579.1 L1253.8,586.3 L1272.0,586.3 L1290.1,587.7 L1308.3,591.5 L1326.5,586.3 L1344.7,583.6 L1362.9,582.5 L1381.1,596.8 L1399.3,605.1 L1417.5,606.7 L1435.7,609.0 L1453.8,611.9 L1472.0,611.3 L1490.2,612.6 L1508.4,590.4 L1526.6,588.8 L1544.8,590.4 L1563.0,592.7" fill="none" stroke="#00008b" stroke-width="4.2" stroke-linejoin="round"/>
<circle cx="1199.2" cy="577.9" r="3.55" fill="#000"/>
<circle cx="1217.4" cy="584.7" r="3.55" fill="#000"/>
<circle cx="1235.6" cy="578.6" r="3.55" fill="#000"/>
<circle cx="1253.8" cy="579.1" r="3.55" fill="#000"/>
<circle cx="1272.0" cy="585.2" r="3.55" fill="#000"/>
<circle cx="1290.1" cy="602.2" r="3.55" fill="#000"/>
<circle cx="1308.3" cy="617.2" r="3.55" fill="#000"/>
<circle cx="1326.5" cy="607.0" r="3.55" fill="#000"/>
<circle cx="1344.7" cy="609.0" r="3.55" fill="#000"/>
<circle cx="1362.9" cy="610.1" r="3.55" fill="#000"/>
<circle cx="1381.1" cy="630.8" r="3.55" fill="#000"/>
<circle cx="1399.3" cy="597.4" r="3.55" fill="#000"/>
<circle cx="1417.5" cy="619.9" r="3.55" fill="#000"/>
<circle cx="1435.7" cy="621.2" r="3.55" fill="#000"/>
<circle cx="1453.8" cy="624.0" r="3.55" fill="#000"/>
<circle cx="1472.0" cy="625.8" r="3.55" fill="#000"/>
<circle cx="1490.2" cy="614.7" r="3.55" fill="#000"/>
<circle cx="1508.4" cy="619.2" r="3.55" fill="#000"/>
<circle cx="1526.6" cy="622.2" r="3.55" fill="#000"/>
<circle cx="1544.8" cy="613.5" r="3.55" fill="#000"/>
</g>
<rect x="1181.7" y="409.6" width="399.4" height="248.3" fill="none" stroke="#333333" stroke-width="1.5"/>
<rect x="1181.7" y="361.1" width="399.4" height="47.8" fill="#d9d9d9" stroke="#333333" stroke-width="1.5"/>
<text transform="translate(1381.1,385.7) scale(1,1.06)" y="10.55" font-size="30.3" text-anchor="middle" fill="#111" stroke="#111" stroke-width="0.4">15_Red mullet juv</text>
<line x1="1199.2" x2="1199.2" y1="657.9" y2="664.2" stroke="#333333" stroke-width="1.5"/>
<text transform="translate(1199.2,681.1) scale(1,1.08)" y="9.7" font-size="27.8" text-anchor="middle" fill="#4d4d4d">2000</text>
<line x1="1290.1" x2="1290.1" y1="657.9" y2="664.2" stroke="#333333" stroke-width="1.5"/>
<text transform="translate(1290.1,681.1) scale(1,1.08)" y="9.7" font-size="27.8" text-anchor="middle" fill="#4d4d4d">2005</text>
<line x1="1381.1" x2="1381.1" y1="657.9" y2="664.2" stroke="#333333" stroke-width="1.5"/>
<text transform="translate(1381.1,681.1) scale(1,1.08)" y="9.7" font-size="27.8" text-anchor="middle" fill="#4d4d4d">2010</text>
<line x1="1472.0" x2="1472.0" y1="657.9" y2="664.2" stroke="#333333" stroke-width="1.5"/>
<text transform="translate(1472.0,681.1) scale(1,1.08)" y="9.7" font-size="27.8" text-anchor="middle" fill="#4d4d4d">2015</text>
<line x1="1563.0" x2="1563.0" y1="657.9" y2="664.2" stroke="#333333" stroke-width="1.5"/>
<text transform="translate(1563.0,681.1) scale(1,1.08)" y="9.7" font-size="27.8" text-anchor="middle" fill="#4d4d4d">2020</text>
<line x1="1174.7" x2="1181.0" y1="418.1" y2="418.1" stroke="#333333" stroke-width="1.5"/>
<text transform="translate(1168.6,418.8) scale(1,1.08)" y="9.7" font-size="27.8" text-anchor="end" fill="#4d4d4d">0.0100</text>
<line x1="1174.7" x2="1181.0" y1="478.8" y2="478.8" stroke="#333333" stroke-width="1.5"/>
<text transform="translate(1168.6,479.5) scale(1,1.08)" y="9.7" font-size="27.8" text-anchor="end" fill="#4d4d4d">0.0075</text>
<line x1="1174.7" x2="1181.0" y1="540.1" y2="540.1" stroke="#333333" stroke-width="1.5"/>
<text transform="translate(1168.6,540.8) scale(1,1.08)" y="9.7" font-size="27.8" text-anchor="end" fill="#4d4d4d">0.0050</text>
<line x1="1174.7" x2="1181.0" y1="601.3" y2="601.3" stroke="#333333" stroke-width="1.5"/>
<text transform="translate(1168.6,602.0) scale(1,1.08)" y="9.7" font-size="27.8" text-anchor="end" fill="#4d4d4d">0.0025</text>
<rect x="1691.5" y="408.9" width="400.2" height="249.0" fill="#fff"/>
<clipPath id="c7"><rect x="1691.5" y="408.9" width="400.2" height="249.0"/></clipPath>
<g clip-path="url(#c7)">
<line x1="1691.5" x2="2091.7" y1="474.5" y2="474.5" stroke="#e6e6e6" stroke-width="1.9"/>
<line x1="1691.5" x2="2091.7" y1="540.5" y2="540.5" stroke="#e6e6e6" stroke-width="1.9"/>
<line x1="1691.5" x2="2091.7" y1="606.7" y2="606.7" stroke="#e6e6e6" stroke-width="1.9"/>
<path d="M1709.7,564.3 L1727.9,550.7 L1746.1,540.5 L1764.3,554.1 L1782.5,551.9 L1800.6,551.4 L1818.8,531.4 L1837.0,539.4 L1855.2,522.4 L1873.4,500.8 L1891.6,421.5 L1909.8,456.6 L1928.0,517.8 L1946.2,531.9 L1964.3,533.3 L1982.5,512.2 L2000.7,452.5 L2018.9,468.0 L2037.1,511.0 L2055.3,533.7 L2073.5,546.2 L2073.5,647.1 L2055.3,646.0 L2037.1,645.3 L2018.9,644.8 L2000.7,643.7 L1982.5,641.4 L1964.3,643.0 L1946.2,640.3 L1928.0,636.9 L1909.8,632.4 L1891.6,629.0 L1873.4,637.6 L1855.2,636.2 L1837.0,636.9 L1818.8,640.7 L1800.6,633.5 L1782.5,633.5 L1764.3,629.0 L1746.1,623.3 L1727.9,607.4 L1709.7,607.4Z" fill="#b3b3b3" fill-opacity="0.27"/>
<path d="M1709.7,586.3 L1727.9,581.3 L1746.1,583.6 L1764.3,591.5 L1782.5,596.1 L1800.6,597.2 L1818.8,600.6 L1837.0,594.5 L1855.2,589.3 L1873.4,579.1 L1891.6,559.8 L1909.8,572.9 L1928.0,588.1 L1946.2,584.7 L1964.3,577.9 L1982.5,536.4 L2000.7,551.9 L2018.9,571.1 L2037.1,587.0 L2055.3,592.7 L2073.5,596.1" fill="none" stroke="#7a8281" stroke-width="3.8" stroke-dasharray="17.6 17.6" stroke-linejoin="round"/>
<path d="M1709.7,591.1 L1727.9,591.1 L1746.1,596.1 L1764.3,600.2 L1782.5,602.9 L1800.6,608.1 L1818.8,612.6 L1837.0,604.0 L1855.2,605.1 L1873.4,601.1 L1891.6,596.3 L1909.8,600.6 L1928.0,604.0 L1946.2,602.9 L1964.3,607.4 L1982.5,603.6 L2000.7,604.0 L2018.9,594.3 L2037.1,600.6 L2055.3,600.6 L2073.5,597.7" fill="none" stroke="#00008b" stroke-width="4.2" stroke-linejoin="round"/>
<circle cx="1709.7" cy="594.3" r="3.55" fill="#000"/>
<circle cx="1727.9" cy="601.3" r="3.55" fill="#000"/>
<circle cx="1746.1" cy="601.3" r="3.55" fill="#000"/>
<circle cx="1764.3" cy="589.3" r="3.55" fill="#000"/>
<circle cx="1782.5" cy="587.0" r="3.55" fill="#000"/>
<circle cx="1800.6" cy="603.6" r="3.55" fill="#000"/>
<circle cx="1818.8" cy="621.5" r="3.55" fill="#000"/>
<circle cx="1837.0" cy="608.5" r="3.55" fill="#000"/>
<circle cx="1855.2" cy="610.8" r="3.55" fill="#000"/>
<circle cx="1873.4" cy="613.1" r="3.55" fill="#000"/>
<circle cx="1891.6" cy="634.6" r="3.55" fill="#000"/>
<circle cx="1909.8" cy="596.3" r="3.55" fill="#000"/>
<circle cx="1928.0" cy="620.3" r="3.55" fill="#000"/>
<circle cx="1946.2" cy="622.8" r="3.55" fill="#000"/>
<circle cx="1964.3" cy="624.9" r="3.55" fill="#000"/>
<circle cx="1982.5" cy="627.1" r="3.55" fill="#000"/>
<circle cx="2000.7" cy="611.3" r="3.55" fill="#000"/>
<circle cx="2018.9" cy="616.9" r="3.55" fill="#000"/>
<circle cx="2037.1" cy="622.6" r="3.55" fill="#000"/>
<circle cx="2055.3" cy="611.3" r="3.55" fill="#000"/>
</g>
<rect x="1692.2" y="409.6" width="399.4" height="248.3" fill="none" stroke="#333333" stroke-width="1.5"/>
<rect x="1692.2" y="361.1" width="399.4" height="47.8" fill="#d9d9d9" stroke="#333333" stroke-width="1.5"/>
<text transform="translate(1891.6,385.7) scale(1,1.06)" y="10.55" font-size="30.3" text-anchor="middle" fill="#111" stroke="#111" stroke-width="0.4">16_Red mullet</text>
<line x1="1709.7" x2="1709.7" y1="657.9" y2="664.2" stroke="#333333" stroke-width="1.5"/>
<text transform="translate(1709.7,681.1) scale(1,1.08)" y="9.7" font-size="27.8" text-anchor="middle" fill="#4d4d4d">2000</text>
<line x1="1800.6" x2="1800.6" y1="657.9" y2="664.2" stroke="#333333" stroke-width="1.5"/>
<text transform="translate(1800.6,681.1) scale(1,1.08)" y="9.7" font-size="27.8" text-anchor="middle" fill="#4d4d4d">2005</text>
<line x1="1891.6" x2="1891.6" y1="657.9" y2="664.2" stroke="#333333" stroke-width="1.5"/>
<text transform="translate(1891.6,681.1) scale(1,1.08)" y="9.7" font-size="27.8" text-anchor="middle" fill="#4d4d4d">2010</text>
<line x1="1982.5" x2="1982.5" y1="657.9" y2="664.2" stroke="#333333" stroke-width="1.5"/>
<text transform="translate(1982.5,681.1) scale(1,1.08)" y="9.7" font-size="27.8" text-anchor="middle" fill="#4d4d4d">2015</text>
<line x1="2073.5" x2="2073.5" y1="657.9" y2="664.2" stroke="#333333" stroke-width="1.5"/>
<text transform="translate(2073.5,681.1) scale(1,1.08)" y="9.7" font-size="27.8" text-anchor="middle" fill="#4d4d4d">2020</text>
<line x1="1685.2" x2="1691.5" y1="474.5" y2="474.5" stroke="#333333" stroke-width="1.5"/>
<text transform="translate(1679.1,475.2) scale(1,1.08)" y="9.7" font-size="27.8" text-anchor="end" fill="#4d4d4d">0.075</text>
<line x1="1685.2" x2="1691.5" y1="540.5" y2="540.5" stroke="#333333" stroke-width="1.5"/>
<text transform="translate(1679.1,541.2) scale(1,1.08)" y="9.7" font-size="27.8" text-anchor="end" fill="#4d4d4d">0.050</text>
<line x1="1685.2" x2="1691.5" y1="606.7" y2="606.7" stroke="#333333" stroke-width="1.5"/>
<text transform="translate(1679.1,607.4) scale(1,1.08)" y="9.7" font-size="27.8" text-anchor="end" fill="#4d4d4d">0.025</text>
<rect x="176.1" y="757.1" width="400.2" height="249.0" fill="#fff"/>
<clipPath id="c8"><rect x="176.1" y="757.1" width="400.2" height="249.0"/></clipPath>
<g clip-path="url(#c8)">
<line x1="176.1" x2="576.3" y1="814.6" y2="814.6" stroke="#e6e6e6" stroke-width="1.9"/>
<line x1="176.1" x2="576.3" y1="878.1" y2="878.1" stroke="#e6e6e6" stroke-width="1.9"/>
<line x1="176.1" x2="576.3" y1="941.6" y2="941.6" stroke="#e6e6e6" stroke-width="1.9"/>
<line x1="176.1" x2="576.3" y1="1005.1" y2="1005.1" stroke="#e6e6e6" stroke-width="1.9"/>
<path d="M194.3,907.1 L212.5,896.5 L230.7,899.9 L248.9,911.6 L267.1,896.5 L285.2,906.7 L303.4,918.0 L321.6,898.0 L339.8,907.8 L358.0,896.5 L376.2,860.9 L394.4,869.9 L412.6,868.6 L430.8,849.5 L449.0,856.8 L467.1,850.0 L485.3,856.8 L503.5,770.2 L521.7,834.1 L539.9,865.8 L558.1,847.7 L558.1,992.8 L539.9,992.8 L521.7,992.8 L503.5,993.3 L485.3,994.6 L467.1,994.6 L449.0,994.0 L430.8,994.0 L412.6,988.3 L394.4,988.3 L376.2,988.7 L358.0,991.7 L339.8,991.7 L321.6,987.8 L303.4,991.0 L285.2,988.7 L267.1,988.3 L248.9,982.6 L230.7,977.4 L212.5,974.2 L194.3,974.7Z" fill="#b3b3b3" fill-opacity="0.27"/>
<path d="M194.3,946.3 L212.5,938.9 L230.7,941.1 L248.9,951.6 L267.1,950.2 L285.2,954.3 L303.4,961.1 L321.6,949.7 L339.8,949.3 L358.0,947.5 L376.2,920.3 L394.4,925.0 L412.6,932.7 L430.8,929.8 L449.0,931.1 L467.1,925.9 L485.3,919.1 L503.5,898.7 L521.7,895.8 L539.9,911.9 L558.1,914.6" fill="none" stroke="#7a8281" stroke-width="3.8" stroke-dasharray="17.6 17.6" stroke-linejoin="round"/>
<path d="M194.3,965.2 L212.5,959.3 L230.7,963.8 L248.9,970.2 L267.1,973.1 L285.2,976.3 L303.4,980.4 L321.6,975.4 L339.8,974.0 L358.0,974.0 L376.2,960.6 L394.4,966.8 L412.6,968.3 L430.8,968.3 L449.0,970.2 L467.1,968.3 L485.3,971.3 L503.5,966.1 L521.7,970.2 L539.9,970.2 L558.1,972.0" fill="none" stroke="#00008b" stroke-width="4.2" stroke-linejoin="round"/>
<circle cx="194.3" cy="967.0" r="3.55" fill="#000"/>
<circle cx="212.5" cy="969.5" r="3.55" fill="#000"/>
<circle cx="230.7" cy="964.5" r="3.55" fill="#000"/>
<circle cx="248.9" cy="964.0" r="3.55" fill="#000"/>
<circle cx="267.1" cy="954.7" r="3.55" fill="#000"/>
<circle cx="285.2" cy="947.5" r="3.55" fill="#000"/>
<circle cx="303.4" cy="924.1" r="3.55" fill="#000"/>
<circle cx="321.6" cy="925.5" r="3.55" fill="#000"/>
<circle cx="339.8" cy="910.3" r="3.55" fill="#000"/>
<circle cx="358.0" cy="924.1" r="3.55" fill="#000"/>
<circle cx="376.2" cy="932.7" r="3.55" fill="#000"/>
<circle cx="394.4" cy="947.9" r="3.55" fill="#000"/>
<circle cx="412.6" cy="946.3" r="3.55" fill="#000"/>
<circle cx="430.8" cy="954.7" r="3.55" fill="#000"/>
<circle cx="449.0" cy="969.5" r="3.55" fill="#000"/>
<circle cx="467.1" cy="979.2" r="3.55" fill="#000"/>
<circle cx="485.3" cy="980.4" r="3.55" fill="#000"/>
<circle cx="503.5" cy="966.1" r="3.55" fill="#000"/>
<circle cx="521.7" cy="968.6" r="3.55" fill="#000"/>
<circle cx="539.9" cy="954.7" r="3.55" fill="#000"/>
</g>
<rect x="176.8" y="757.8" width="399.4" height="248.3" fill="none" stroke="#333333" stroke-width="1.5"/>
<rect x="176.8" y="709.3" width="399.4" height="47.8" fill="#d9d9d9" stroke="#333333" stroke-width="1.5"/>
<text transform="translate(376.2,733.9) scale(1,1.06)" y="10.55" font-size="30.3" text-anchor="middle" fill="#111" stroke="#111" stroke-width="0.4">17_Hake juv</text>
<line x1="194.3" x2="194.3" y1="1006.1" y2="1012.4" stroke="#333333" stroke-width="1.5"/>
<text transform="translate(194.3,1029.3) scale(1,1.08)" y="9.7" font-size="27.8" text-anchor="middle" fill="#4d4d4d">2000</text>
<line x1="285.2" x2="285.2" y1="1006.1" y2="1012.4" stroke="#333333" stroke-width="1.5"/>
<text transform="translate(285.2,1029.3) scale(1,1.08)" y="9.7" font-size="27.8" text-anchor="middle" fill="#4d4d4d">2005</text>
<line x1="376.2" x2="376.2" y1="1006.1" y2="1012.4" stroke="#333333" stroke-width="1.5"/>
<text transform="translate(376.2,1029.3) scale(1,1.08)" y="9.7" font-size="27.8" text-anchor="middle" fill="#4d4d4d">2010</text>
<line x1="467.1" x2="467.1" y1="1006.1" y2="1012.4" stroke="#333333" stroke-width="1.5"/>
<text transform="translate(467.1,1029.3) scale(1,1.08)" y="9.7" font-size="27.8" text-anchor="middle" fill="#4d4d4d">2015</text>
<line x1="558.1" x2="558.1" y1="1006.1" y2="1012.4" stroke="#333333" stroke-width="1.5"/>
<text transform="translate(558.1,1029.3) scale(1,1.08)" y="9.7" font-size="27.8" text-anchor="middle" fill="#4d4d4d">2020</text>
<line x1="169.8" x2="176.1" y1="814.6" y2="814.6" stroke="#333333" stroke-width="1.5"/>
<text transform="translate(163.7,815.3) scale(1,1.08)" y="9.7" font-size="27.8" text-anchor="end" fill="#4d4d4d">6e-05</text>
<line x1="169.8" x2="176.1" y1="878.1" y2="878.1" stroke="#333333" stroke-width="1.5"/>
<text transform="translate(163.7,878.8) scale(1,1.08)" y="9.7" font-size="27.8" text-anchor="end" fill="#4d4d4d">4e-05</text>
<line x1="169.8" x2="176.1" y1="941.6" y2="941.6" stroke="#333333" stroke-width="1.5"/>
<text transform="translate(163.7,942.3) scale(1,1.08)" y="9.7" font-size="27.8" text-anchor="end" fill="#4d4d4d">2e-05</text>
<line x1="169.8" x2="176.1" y1="1005.1" y2="1005.1" stroke="#333333" stroke-width="1.5"/>
<text transform="translate(163.7,1005.8) scale(1,1.08)" y="9.7" font-size="27.8" text-anchor="end" fill="#4d4d4d">0e+00</text>
<rect x="670.8" y="757.1" width="400.2" height="249.0" fill="#fff"/>
<clipPath id="c9"><rect x="670.8" y="757.1" width="400.2" height="249.0"/></clipPath>
<g clip-path="url(#c9)">
<line x1="670.8" x2="1071.0" y1="829.6" y2="829.6" stroke="#e6e6e6" stroke-width="1.9"/>
<line x1="670.8" x2="1071.0" y1="919.1" y2="919.1" stroke="#e6e6e6" stroke-width="1.9"/>
<path d="M689.0,884.4 L707.2,895.8 L725.4,888.1 L743.6,886.7 L761.8,861.3 L779.9,858.6 L798.1,871.5 L816.3,851.1 L834.5,845.4 L852.7,826.2 L870.9,811.9 L889.1,830.7 L907.3,842.7 L925.5,835.2 L943.6,842.7 L961.8,817.8 L980.0,834.1 L998.2,823.9 L1016.4,822.8 L1034.6,829.1 L1052.8,825.5 L1052.8,988.3 L1034.6,988.3 L1016.4,988.3 L998.2,989.4 L980.0,990.6 L961.8,991.7 L943.6,994.6 L925.5,994.6 L907.3,992.8 L889.1,990.6 L870.9,988.3 L852.7,986.0 L834.5,984.9 L816.3,984.9 L798.1,985.6 L779.9,980.4 L761.8,974.7 L743.6,970.2 L725.4,956.5 L707.2,945.2 L689.0,928.2Z" fill="#b3b3b3" fill-opacity="0.27"/>
<path d="M689.0,905.5 L707.2,924.8 L725.4,927.1 L743.6,930.5 L761.8,925.9 L779.9,925.3 L798.1,932.7 L816.3,923.7 L834.5,919.1 L852.7,913.0 L870.9,913.5 L889.1,924.3 L907.3,931.6 L925.5,931.1 L943.6,936.6 L961.8,923.2 L980.0,923.0 L998.2,908.9 L1016.4,898.7 L1034.6,892.4 L1052.8,891.9" fill="none" stroke="#7a8281" stroke-width="3.8" stroke-dasharray="17.6 17.6" stroke-linejoin="round"/>
<path d="M689.0,903.9 L707.2,909.4 L725.4,911.6 L743.6,916.4 L761.8,912.8 L779.9,909.4 L798.1,914.6 L816.3,901.7 L834.5,901.7 L852.7,895.8 L870.9,898.0 L889.1,914.6 L907.3,924.3 L925.5,924.3 L943.6,928.9 L961.8,911.2 L980.0,911.2 L998.2,896.9 L1016.4,895.8 L1034.6,899.4 L1052.8,904.4" fill="none" stroke="#00008b" stroke-width="4.2" stroke-linejoin="round"/>
<circle cx="689.0" cy="896.7" r="3.55" fill="#000"/>
<circle cx="707.2" cy="907.8" r="3.55" fill="#000"/>
<circle cx="725.4" cy="884.4" r="3.55" fill="#000"/>
<circle cx="743.6" cy="892.6" r="3.55" fill="#000"/>
<circle cx="761.8" cy="881.0" r="3.55" fill="#000"/>
<circle cx="779.9" cy="862.0" r="3.55" fill="#000"/>
<circle cx="798.1" cy="804.8" r="3.55" fill="#000"/>
<circle cx="816.3" cy="804.8" r="3.55" fill="#000"/>
<circle cx="834.5" cy="768.3" r="3.55" fill="#000"/>
<circle cx="852.7" cy="802.6" r="3.55" fill="#000"/>
<circle cx="870.9" cy="830.2" r="3.55" fill="#000"/>
<circle cx="889.1" cy="856.5" r="3.55" fill="#000"/>
<circle cx="907.3" cy="853.8" r="3.55" fill="#000"/>
<circle cx="925.5" cy="845.9" r="3.55" fill="#000"/>
<circle cx="943.6" cy="896.7" r="3.55" fill="#000"/>
<circle cx="961.8" cy="935.2" r="3.55" fill="#000"/>
<circle cx="980.0" cy="921.6" r="3.55" fill="#000"/>
<circle cx="998.2" cy="893.1" r="3.55" fill="#000"/>
<circle cx="1016.4" cy="885.1" r="3.55" fill="#000"/>
<circle cx="1034.6" cy="847.0" r="3.55" fill="#000"/>
</g>
<rect x="671.5" y="757.8" width="399.4" height="248.3" fill="none" stroke="#333333" stroke-width="1.5"/>
<rect x="671.5" y="709.3" width="399.4" height="47.8" fill="#d9d9d9" stroke="#333333" stroke-width="1.5"/>
<text transform="translate(870.9,733.9) scale(1,1.06)" y="10.55" font-size="30.3" text-anchor="middle" fill="#111" stroke="#111" stroke-width="0.4">18_Hake</text>
<line x1="689.0" x2="689.0" y1="1006.1" y2="1012.4" stroke="#333333" stroke-width="1.5"/>
<text transform="translate(689.0,1029.3) scale(1,1.08)" y="9.7" font-size="27.8" text-anchor="middle" fill="#4d4d4d">2000</text>
<line x1="779.9" x2="779.9" y1="1006.1" y2="1012.4" stroke="#333333" stroke-width="1.5"/>
<text transform="translate(779.9,1029.3) scale(1,1.08)" y="9.7" font-size="27.8" text-anchor="middle" fill="#4d4d4d">2005</text>
<line x1="870.9" x2="870.9" y1="1006.1" y2="1012.4" stroke="#333333" stroke-width="1.5"/>
<text transform="translate(870.9,1029.3) scale(1,1.08)" y="9.7" font-size="27.8" text-anchor="middle" fill="#4d4d4d">2010</text>
<line x1="961.8" x2="961.8" y1="1006.1" y2="1012.4" stroke="#333333" stroke-width="1.5"/>
<text transform="translate(961.8,1029.3) scale(1,1.08)" y="9.7" font-size="27.8" text-anchor="middle" fill="#4d4d4d">2015</text>
<line x1="1052.8" x2="1052.8" y1="1006.1" y2="1012.4" stroke="#333333" stroke-width="1.5"/>
<text transform="translate(1052.8,1029.3) scale(1,1.08)" y="9.7" font-size="27.8" text-anchor="middle" fill="#4d4d4d">2020</text>
<line x1="664.5" x2="670.8" y1="829.6" y2="829.6" stroke="#333333" stroke-width="1.5"/>
<text transform="translate(658.4,830.3) scale(1,1.08)" y="9.7" font-size="27.8" text-anchor="end" fill="#4d4d4d">0.10</text>
<line x1="664.5" x2="670.8" y1="919.1" y2="919.1" stroke="#333333" stroke-width="1.5"/>
<text transform="translate(658.4,919.8) scale(1,1.08)" y="9.7" font-size="27.8" text-anchor="end" fill="#4d4d4d">0.05</text>
<rect x="1181.0" y="757.1" width="400.2" height="249.0" fill="#fff"/>
<clipPath id="c10"><rect x="1181.0" y="757.1" width="400.2" height="249.0"/></clipPath>
<g clip-path="url(#c10)">
<line x1="1181.0" x2="1581.2" y1="762.0" y2="762.0" stroke="#e6e6e6" stroke-width="1.9"/>
<line x1="1181.0" x2="1581.2" y1="810.3" y2="810.3" stroke="#e6e6e6" stroke-width="1.9"/>
<line x1="1181.0" x2="1581.2" y1="858.1" y2="858.1" stroke="#e6e6e6" stroke-width="1.9"/>
<line x1="1181.0" x2="1581.2" y1="905.8" y2="905.8" stroke="#e6e6e6" stroke-width="1.9"/>
<line x1="1181.0" x2="1581.2" y1="953.6" y2="953.6" stroke="#e6e6e6" stroke-width="1.9"/>
<line x1="1181.0" x2="1581.2" y1="1001.4" y2="1001.4" stroke="#e6e6e6" stroke-width="1.9"/>
<path d="M1199.2,914.6 L1217.4,904.4 L1235.6,889.7 L1253.8,890.8 L1272.0,894.9 L1290.1,911.6 L1308.3,917.5 L1326.5,889.7 L1344.7,889.7 L1362.9,872.6 L1381.1,855.6 L1399.3,863.6 L1417.5,877.2 L1435.7,821.6 L1453.8,780.1 L1472.0,840.9 L1490.2,857.9 L1508.4,830.7 L1526.6,769.5 L1544.8,778.5 L1563.0,783.8 L1563.0,990.1 L1544.8,990.1 L1526.6,989.4 L1508.4,990.6 L1490.2,992.8 L1472.0,994.6 L1453.8,994.6 L1435.7,992.8 L1417.5,990.6 L1399.3,983.8 L1381.1,984.2 L1362.9,990.6 L1344.7,990.6 L1326.5,988.3 L1308.3,987.2 L1290.1,981.5 L1272.0,973.6 L1253.8,969.0 L1235.6,963.3 L1217.4,936.1 L1199.2,924.8Z" fill="#b3b3b3" fill-opacity="0.27"/>
<path d="M1199.2,920.7 L1217.4,916.9 L1235.6,920.7 L1253.8,930.5 L1272.0,935.7 L1290.1,941.1 L1308.3,949.7 L1326.5,941.8 L1344.7,940.2 L1362.9,937.3 L1381.1,924.3 L1399.3,928.2 L1417.5,931.6 L1435.7,924.3 L1453.8,925.9 L1472.0,918.0 L1490.2,918.7 L1508.4,908.9 L1526.6,903.9 L1544.8,905.5 L1563.0,906.2" fill="none" stroke="#7a8281" stroke-width="3.8" stroke-dasharray="17.6 17.6" stroke-linejoin="round"/>
<path d="M1199.2,920.7 L1217.4,915.7 L1235.6,928.2 L1253.8,941.1 L1272.0,941.1 L1290.1,944.8 L1308.3,952.5 L1326.5,942.9 L1344.7,942.9 L1362.9,937.3 L1381.1,926.6 L1399.3,928.7 L1417.5,935.0 L1435.7,935.5 L1453.8,940.2 L1472.0,937.3 L1490.2,938.4 L1508.4,931.1 L1526.6,932.7 L1544.8,935.0 L1563.0,933.4" fill="none" stroke="#00008b" stroke-width="4.2" stroke-linejoin="round"/>
<circle cx="1199.2" cy="921.9" r="3.55" fill="#000"/>
<circle cx="1217.4" cy="936.8" r="3.55" fill="#000"/>
<circle cx="1235.6" cy="900.3" r="3.55" fill="#000"/>
<circle cx="1253.8" cy="914.4" r="3.55" fill="#000"/>
<circle cx="1272.0" cy="921.6" r="3.55" fill="#000"/>
<circle cx="1290.1" cy="965.2" r="3.55" fill="#000"/>
<circle cx="1308.3" cy="977.4" r="3.55" fill="#000"/>
<circle cx="1326.5" cy="979.2" r="3.55" fill="#000"/>
<circle cx="1344.7" cy="969.5" r="3.55" fill="#000"/>
<circle cx="1362.9" cy="963.3" r="3.55" fill="#000"/>
<circle cx="1381.1" cy="974.7" r="3.55" fill="#000"/>
<circle cx="1399.3" cy="966.8" r="3.55" fill="#000"/>
<circle cx="1417.5" cy="937.3" r="3.55" fill="#000"/>
<circle cx="1435.7" cy="935.7" r="3.55" fill="#000"/>
<circle cx="1453.8" cy="940.7" r="3.55" fill="#000"/>
<circle cx="1472.0" cy="957.9" r="3.55" fill="#000"/>
<circle cx="1490.2" cy="952.7" r="3.55" fill="#000"/>
<circle cx="1508.4" cy="945.0" r="3.55" fill="#000"/>
<circle cx="1526.6" cy="951.6" r="3.55" fill="#000"/>
<circle cx="1544.8" cy="944.5" r="3.55" fill="#000"/>
</g>
<rect x="1181.7" y="757.8" width="399.4" height="248.3" fill="none" stroke="#333333" stroke-width="1.5"/>
<rect x="1181.7" y="709.3" width="399.4" height="47.8" fill="#d9d9d9" stroke="#333333" stroke-width="1.5"/>
<text transform="translate(1381.1,733.9) scale(1,1.06)" y="10.55" font-size="30.3" text-anchor="middle" fill="#111" stroke="#111" stroke-width="0.4">19_Anglers</text>
<line x1="1199.2" x2="1199.2" y1="1006.1" y2="1012.4" stroke="#333333" stroke-width="1.5"/>
<text transform="translate(1199.2,1029.3) scale(1,1.08)" y="9.7" font-size="27.8" text-anchor="middle" fill="#4d4d4d">2000</text>
<line x1="1290.1" x2="1290.1" y1="1006.1" y2="1012.4" stroke="#333333" stroke-width="1.5"/>
<text transform="translate(1290.1,1029.3) scale(1,1.08)" y="9.7" font-size="27.8" text-anchor="middle" fill="#4d4d4d">2005</text>
<line x1="1381.1" x2="1381.1" y1="1006.1" y2="1012.4" stroke="#333333" stroke-width="1.5"/>
<text transform="translate(1381.1,1029.3) scale(1,1.08)" y="9.7" font-size="27.8" text-anchor="middle" fill="#4d4d4d">2010</text>
<line x1="1472.0" x2="1472.0" y1="1006.1" y2="1012.4" stroke="#333333" stroke-width="1.5"/>
<text transform="translate(1472.0,1029.3) scale(1,1.08)" y="9.7" font-size="27.8" text-anchor="middle" fill="#4d4d4d">2015</text>
<line x1="1563.0" x2="1563.0" y1="1006.1" y2="1012.4" stroke="#333333" stroke-width="1.5"/>
<text transform="translate(1563.0,1029.3) scale(1,1.08)" y="9.7" font-size="27.8" text-anchor="middle" fill="#4d4d4d">2020</text>
<line x1="1174.7" x2="1181.0" y1="762.0" y2="762.0" stroke="#333333" stroke-width="1.5"/>
<text transform="translate(1168.6,762.7) scale(1,1.08)" y="9.7" font-size="27.8" text-anchor="end" fill="#4d4d4d">0.025</text>
<line x1="1174.7" x2="1181.0" y1="810.3" y2="810.3" stroke="#333333" stroke-width="1.5"/>
<text transform="translate(1168.6,811.0) scale(1,1.08)" y="9.7" font-size="27.8" text-anchor="end" fill="#4d4d4d">0.020</text>
<line x1="1174.7" x2="1181.0" y1="858.1" y2="858.1" stroke="#333333" stroke-width="1.5"/>
<text transform="translate(1168.6,858.8) scale(1,1.08)" y="9.7" font-size="27.8" text-anchor="end" fill="#4d4d4d">0.015</text>
<line x1="1174.7" x2="1181.0" y1="905.8" y2="905.8" stroke="#333333" stroke-width="1.5"/>
<text transform="translate(1168.6,906.5) scale(1,1.08)" y="9.7" font-size="27.8" text-anchor="end" fill="#4d4d4d">0.010</text>
<line x1="1174.7" x2="1181.0" y1="953.6" y2="953.6" stroke="#333333" stroke-width="1.5"/>
<text transform="translate(1168.6,954.3) scale(1,1.08)" y="9.7" font-size="27.8" text-anchor="end" fill="#4d4d4d">0.005</text>
<line x1="1174.7" x2="1181.0" y1="1001.4" y2="1001.4" stroke="#333333" stroke-width="1.5"/>
<text transform="translate(1168.6,1002.1) scale(1,1.08)" y="9.7" font-size="27.8" text-anchor="end" fill="#4d4d4d">0.000</text>
<rect x="1691.5" y="757.1" width="400.2" height="249.0" fill="#fff"/>
<clipPath id="c11"><rect x="1691.5" y="757.1" width="400.2" height="249.0"/></clipPath>
<g clip-path="url(#c11)">
<line x1="1691.5" x2="2091.7" y1="775.6" y2="775.6" stroke="#e6e6e6" stroke-width="1.9"/>
<line x1="1691.5" x2="2091.7" y1="830.5" y2="830.5" stroke="#e6e6e6" stroke-width="1.9"/>
<line x1="1691.5" x2="2091.7" y1="885.6" y2="885.6" stroke="#e6e6e6" stroke-width="1.9"/>
<line x1="1691.5" x2="2091.7" y1="940.2" y2="940.2" stroke="#e6e6e6" stroke-width="1.9"/>
<line x1="1691.5" x2="2091.7" y1="995.1" y2="995.1" stroke="#e6e6e6" stroke-width="1.9"/>
<path d="M1709.7,919.1 L1727.9,914.6 L1746.1,907.8 L1764.3,895.8 L1782.5,888.5 L1800.6,881.3 L1818.8,881.3 L1837.0,869.2 L1855.2,877.6 L1873.4,877.6 L1891.6,845.9 L1909.8,847.2 L1928.0,847.2 L1946.2,841.4 L1964.3,842.0 L1982.5,769.5 L2000.7,783.8 L2018.9,788.7 L2037.1,804.6 L2055.3,829.1 L2073.5,817.1 L2073.5,994.6 L2055.3,994.6 L2037.1,994.6 L2018.9,994.6 L2000.7,994.6 L1982.5,994.6 L1964.3,994.6 L1946.2,994.6 L1928.0,994.6 L1909.8,994.6 L1891.6,994.0 L1873.4,991.7 L1855.2,988.7 L1837.0,984.9 L1818.8,981.9 L1800.6,972.4 L1782.5,963.3 L1764.3,952.5 L1746.1,944.1 L1727.9,939.5 L1709.7,938.4Z" fill="#b3b3b3" fill-opacity="0.27"/>
<path d="M1709.7,928.2 L1727.9,927.1 L1746.1,926.6 L1764.3,929.8 L1782.5,932.1 L1800.6,933.2 L1818.8,935.0 L1837.0,933.4 L1855.2,937.5 L1873.4,935.0 L1891.6,929.3 L1909.8,931.6 L1928.0,934.3 L1946.2,935.5 L1964.3,944.1 L1982.5,922.1 L2000.7,922.1 L2018.9,920.7 L2037.1,927.5 L2055.3,932.7 L2073.5,932.7" fill="none" stroke="#7a8281" stroke-width="3.8" stroke-dasharray="17.6 17.6" stroke-linejoin="round"/>
<path d="M1709.7,927.5 L1727.9,927.5 L1746.1,930.5 L1764.3,935.0 L1782.5,938.4 L1800.6,942.5 L1818.8,947.0 L1837.0,947.0 L1855.2,948.6 L1873.4,948.6 L1891.6,946.3 L1909.8,949.7 L1928.0,952.5 L1946.2,954.3 L1964.3,958.4 L1982.5,949.3 L2000.7,951.6 L2018.9,951.3 L2037.1,952.0 L2055.3,955.4 L2073.5,956.5" fill="none" stroke="#00008b" stroke-width="4.2" stroke-linejoin="round"/>
<circle cx="1709.7" cy="942.3" r="3.55" fill="#000"/>
<circle cx="1727.9" cy="947.0" r="3.55" fill="#000"/>
<circle cx="1746.1" cy="948.4" r="3.55" fill="#000"/>
<circle cx="1764.3" cy="918.7" r="3.55" fill="#000"/>
<circle cx="1782.5" cy="958.4" r="3.55" fill="#000"/>
<circle cx="1800.6" cy="955.6" r="3.55" fill="#000"/>
<circle cx="1818.8" cy="955.2" r="3.55" fill="#000"/>
<circle cx="1837.0" cy="948.8" r="3.55" fill="#000"/>
<circle cx="1855.2" cy="960.6" r="3.55" fill="#000"/>
<circle cx="1873.4" cy="961.3" r="3.55" fill="#000"/>
<circle cx="1891.6" cy="963.3" r="3.55" fill="#000"/>
<circle cx="1909.8" cy="965.2" r="3.55" fill="#000"/>
<circle cx="1928.0" cy="963.3" r="3.55" fill="#000"/>
<circle cx="1946.2" cy="963.3" r="3.55" fill="#000"/>
<circle cx="1964.3" cy="960.6" r="3.55" fill="#000"/>
<circle cx="1982.5" cy="963.8" r="3.55" fill="#000"/>
<circle cx="2000.7" cy="961.8" r="3.55" fill="#000"/>
<circle cx="2018.9" cy="953.8" r="3.55" fill="#000"/>
<circle cx="2037.1" cy="961.8" r="3.55" fill="#000"/>
<circle cx="2055.3" cy="950.4" r="3.55" fill="#000"/>
</g>
<rect x="1692.2" y="757.8" width="399.4" height="248.3" fill="none" stroke="#333333" stroke-width="1.5"/>
<rect x="1692.2" y="709.3" width="399.4" height="47.8" fill="#d9d9d9" stroke="#333333" stroke-width="1.5"/>
<text transform="translate(1891.6,733.9) scale(1,1.06)" y="10.55" font-size="30.3" text-anchor="middle" fill="#111" stroke="#111" stroke-width="0.4">20_Demersal fishes slope</text>
<line x1="1709.7" x2="1709.7" y1="1006.1" y2="1012.4" stroke="#333333" stroke-width="1.5"/>
<text transform="translate(1709.7,1029.3) scale(1,1.08)" y="9.7" font-size="27.8" text-anchor="middle" fill="#4d4d4d">2000</text>
<line x1="1800.6" x2="1800.6" y1="1006.1" y2="1012.4" stroke="#333333" stroke-width="1.5"/>
<text transform="translate(1800.6,1029.3) scale(1,1.08)" y="9.7" font-size="27.8" text-anchor="middle" fill="#4d4d4d">2005</text>
<line x1="1891.6" x2="1891.6" y1="1006.1" y2="1012.4" stroke="#333333" stroke-width="1.5"/>
<text transform="translate(1891.6,1029.3) scale(1,1.08)" y="9.7" font-size="27.8" text-anchor="middle" fill="#4d4d4d">2010</text>
<line x1="1982.5" x2="1982.5" y1="1006.1" y2="1012.4" stroke="#333333" stroke-width="1.5"/>
<text transform="translate(1982.5,1029.3) scale(1,1.08)" y="9.7" font-size="27.8" text-anchor="middle" fill="#4d4d4d">2015</text>
<line x1="2073.5" x2="2073.5" y1="1006.1" y2="1012.4" stroke="#333333" stroke-width="1.5"/>
<text transform="translate(2073.5,1029.3) scale(1,1.08)" y="9.7" font-size="27.8" text-anchor="middle" fill="#4d4d4d">2020</text>
<line x1="1685.2" x2="1691.5" y1="775.6" y2="775.6" stroke="#333333" stroke-width="1.5"/>
<text transform="translate(1679.1,776.3) scale(1,1.08)" y="9.7" font-size="27.8" text-anchor="end" fill="#4d4d4d">0.08</text>
<line x1="1685.2" x2="1691.5" y1="830.5" y2="830.5" stroke="#333333" stroke-width="1.5"/>
<text transform="translate(1679.1,831.2) scale(1,1.08)" y="9.7" font-size="27.8" text-anchor="end" fill="#4d4d4d">0.06</text>
<line x1="1685.2" x2="1691.5" y1="885.6" y2="885.6" stroke="#333333" stroke-width="1.5"/>
<text transform="translate(1679.1,886.3) scale(1,1.08)" y="9.7" font-size="27.8" text-anchor="end" fill="#4d4d4d">0.04</text>
<line x1="1685.2" x2="1691.5" y1="940.2" y2="940.2" stroke="#333333" stroke-width="1.5"/>
<text transform="translate(1679.1,940.9) scale(1,1.08)" y="9.7" font-size="27.8" text-anchor="end" fill="#4d4d4d">0.02</text>
<line x1="1685.2" x2="1691.5" y1="995.1" y2="995.1" stroke="#333333" stroke-width="1.5"/>
<text transform="translate(1679.1,995.8) scale(1,1.08)" y="9.7" font-size="27.8" text-anchor="end" fill="#4d4d4d">0.00</text>
<rect x="176.1" y="1105.2" width="400.2" height="249.0" fill="#fff"/>
<clipPath id="c12"><rect x="176.1" y="1105.2" width="400.2" height="249.0"/></clipPath>
<g clip-path="url(#c12)">
<line x1="176.1" x2="576.3" y1="1107.8" y2="1107.8" stroke="#e6e6e6" stroke-width="1.9"/>
<line x1="176.1" x2="576.3" y1="1166.7" y2="1166.7" stroke="#e6e6e6" stroke-width="1.9"/>
<line x1="176.1" x2="576.3" y1="1225.6" y2="1225.6" stroke="#e6e6e6" stroke-width="1.9"/>
<line x1="176.1" x2="576.3" y1="1284.6" y2="1284.6" stroke="#e6e6e6" stroke-width="1.9"/>
<line x1="176.1" x2="576.3" y1="1343.3" y2="1343.3" stroke="#e6e6e6" stroke-width="1.9"/>
<path d="M194.3,1195.0 L212.5,1196.8 L230.7,1179.8 L248.9,1176.4 L267.1,1160.6 L285.2,1156.7 L303.4,1159.0 L321.6,1134.5 L339.8,1157.6 L358.0,1154.4 L376.2,1158.3 L394.4,1167.4 L412.6,1147.6 L430.8,1159.4 L449.0,1175.3 L467.1,1142.4 L485.3,1153.1 L503.5,1127.7 L521.7,1117.5 L539.9,1125.0 L558.1,1122.7 L558.1,1342.6 L539.9,1342.6 L521.7,1342.6 L503.5,1342.6 L485.3,1342.0 L467.1,1339.7 L449.0,1334.0 L430.8,1329.5 L412.6,1326.1 L394.4,1319.3 L376.2,1311.3 L358.0,1310.9 L339.8,1310.2 L321.6,1300.0 L303.4,1286.4 L285.2,1276.2 L267.1,1272.8 L248.9,1264.9 L230.7,1249.0 L212.5,1234.3 L194.3,1227.4Z" fill="#b3b3b3" fill-opacity="0.27"/>
<path d="M194.3,1211.6 L212.5,1215.7 L230.7,1219.5 L248.9,1222.9 L267.1,1222.5 L285.2,1222.5 L303.4,1232.0 L321.6,1224.0 L339.8,1225.2 L358.0,1227.4 L376.2,1229.3 L394.4,1234.3 L412.6,1241.1 L430.8,1242.2 L449.0,1247.9 L467.1,1240.6 L485.3,1242.2 L503.5,1235.4 L521.7,1229.7 L539.9,1227.4 L558.1,1222.9" fill="none" stroke="#7a8281" stroke-width="3.8" stroke-dasharray="17.6 17.6" stroke-linejoin="round"/>
<path d="M194.3,1210.4 L212.5,1215.4 L230.7,1224.0 L248.9,1232.7 L267.1,1234.7 L285.2,1237.2 L303.4,1241.7 L321.6,1235.8 L339.8,1234.9 L358.0,1228.6 L376.2,1223.6 L394.4,1230.2 L412.6,1234.9 L430.8,1234.7 L449.0,1238.3 L467.1,1226.8 L485.3,1226.8 L503.5,1216.1 L521.7,1212.9 L539.9,1211.6 L558.1,1211.6" fill="none" stroke="#00008b" stroke-width="4.2" stroke-linejoin="round"/>
<circle cx="194.3" cy="1221.6" r="3.55" fill="#000"/>
<circle cx="212.5" cy="1217.0" r="3.55" fill="#000"/>
<circle cx="230.7" cy="1231.5" r="3.55" fill="#000"/>
<circle cx="248.9" cy="1218.6" r="3.55" fill="#000"/>
<circle cx="267.1" cy="1234.3" r="3.55" fill="#000"/>
<circle cx="285.2" cy="1245.6" r="3.55" fill="#000"/>
<circle cx="303.4" cy="1243.5" r="3.55" fill="#000"/>
<circle cx="321.6" cy="1246.3" r="3.55" fill="#000"/>
<circle cx="339.8" cy="1248.8" r="3.55" fill="#000"/>
<circle cx="358.0" cy="1249.2" r="3.55" fill="#000"/>
<circle cx="376.2" cy="1258.3" r="3.55" fill="#000"/>
<circle cx="394.4" cy="1254.9" r="3.55" fill="#000"/>
<circle cx="412.6" cy="1256.5" r="3.55" fill="#000"/>
<circle cx="430.8" cy="1251.5" r="3.55" fill="#000"/>
<circle cx="449.0" cy="1254.4" r="3.55" fill="#000"/>
<circle cx="467.1" cy="1262.1" r="3.55" fill="#000"/>
<circle cx="485.3" cy="1254.0" r="3.55" fill="#000"/>
<circle cx="503.5" cy="1248.8" r="3.55" fill="#000"/>
<circle cx="521.7" cy="1252.8" r="3.55" fill="#000"/>
<circle cx="539.9" cy="1248.8" r="3.55" fill="#000"/>
</g>
<rect x="176.8" y="1105.9" width="399.4" height="248.3" fill="none" stroke="#333333" stroke-width="1.5"/>
<rect x="176.8" y="1057.4" width="399.4" height="47.8" fill="#d9d9d9" stroke="#333333" stroke-width="1.5"/>
<text transform="translate(376.2,1082.0) scale(1,1.06)" y="10.55" font-size="30.3" text-anchor="middle" fill="#111" stroke="#111" stroke-width="0.4">21_Demersal fishes shelf</text>
<line x1="194.3" x2="194.3" y1="1354.2" y2="1360.5" stroke="#333333" stroke-width="1.5"/>
<text transform="translate(194.3,1377.4) scale(1,1.08)" y="9.7" font-size="27.8" text-anchor="middle" fill="#4d4d4d">2000</text>
<line x1="285.2" x2="285.2" y1="1354.2" y2="1360.5" stroke="#333333" stroke-width="1.5"/>
<text transform="translate(285.2,1377.4) scale(1,1.08)" y="9.7" font-size="27.8" text-anchor="middle" fill="#4d4d4d">2005</text>
<line x1="376.2" x2="376.2" y1="1354.2" y2="1360.5" stroke="#333333" stroke-width="1.5"/>
<text transform="translate(376.2,1377.4) scale(1,1.08)" y="9.7" font-size="27.8" text-anchor="middle" fill="#4d4d4d">2010</text>
<line x1="467.1" x2="467.1" y1="1354.2" y2="1360.5" stroke="#333333" stroke-width="1.5"/>
<text transform="translate(467.1,1377.4) scale(1,1.08)" y="9.7" font-size="27.8" text-anchor="middle" fill="#4d4d4d">2015</text>
<line x1="558.1" x2="558.1" y1="1354.2" y2="1360.5" stroke="#333333" stroke-width="1.5"/>
<text transform="translate(558.1,1377.4) scale(1,1.08)" y="9.7" font-size="27.8" text-anchor="middle" fill="#4d4d4d">2020</text>
<line x1="169.8" x2="176.1" y1="1107.8" y2="1107.8" stroke="#333333" stroke-width="1.5"/>
<text transform="translate(163.7,1108.5) scale(1,1.08)" y="9.7" font-size="27.8" text-anchor="end" fill="#4d4d4d">0.4</text>
<line x1="169.8" x2="176.1" y1="1166.7" y2="1166.7" stroke="#333333" stroke-width="1.5"/>
<text transform="translate(163.7,1167.4) scale(1,1.08)" y="9.7" font-size="27.8" text-anchor="end" fill="#4d4d4d">0.3</text>
<line x1="169.8" x2="176.1" y1="1225.6" y2="1225.6" stroke="#333333" stroke-width="1.5"/>
<text transform="translate(163.7,1226.3) scale(1,1.08)" y="9.7" font-size="27.8" text-anchor="end" fill="#4d4d4d">0.2</text>
<line x1="169.8" x2="176.1" y1="1284.6" y2="1284.6" stroke="#333333" stroke-width="1.5"/>
<text transform="translate(163.7,1285.3) scale(1,1.08)" y="9.7" font-size="27.8" text-anchor="end" fill="#4d4d4d">0.1</text>
<line x1="169.8" x2="176.1" y1="1343.3" y2="1343.3" stroke="#333333" stroke-width="1.5"/>
<text transform="translate(163.7,1344.0) scale(1,1.08)" y="9.7" font-size="27.8" text-anchor="end" fill="#4d4d4d">0.0</text>
<rect x="670.8" y="1105.2" width="400.2" height="249.0" fill="#fff"/>
<clipPath id="c13"><rect x="670.8" y="1105.2" width="400.2" height="249.0"/></clipPath>
<g clip-path="url(#c13)">
<line x1="670.8" x2="1071.0" y1="1154.4" y2="1154.4" stroke="#e6e6e6" stroke-width="1.9"/>
<line x1="670.8" x2="1071.0" y1="1219.7" y2="1219.7" stroke="#e6e6e6" stroke-width="1.9"/>
<line x1="670.8" x2="1071.0" y1="1284.8" y2="1284.8" stroke="#e6e6e6" stroke-width="1.9"/>
<line x1="670.8" x2="1071.0" y1="1349.9" y2="1349.9" stroke="#e6e6e6" stroke-width="1.9"/>
<path d="M689.0,1226.3 L707.2,1221.8 L725.4,1219.5 L743.6,1220.2 L761.8,1219.5 L779.9,1208.9 L798.1,1206.6 L816.3,1199.1 L834.5,1215.7 L852.7,1201.4 L870.9,1215.7 L889.1,1219.5 L907.3,1241.1 L925.5,1236.1 L943.6,1233.8 L961.8,1189.4 L980.0,1177.6 L998.2,1150.4 L1016.4,1118.2 L1034.6,1161.2 L1052.8,1174.2 L1052.8,1321.6 L1034.6,1322.2 L1016.4,1331.8 L998.2,1335.8 L980.0,1336.3 L961.8,1335.2 L943.6,1338.1 L925.5,1342.0 L907.3,1335.8 L889.1,1328.4 L870.9,1319.3 L852.7,1320.0 L834.5,1315.9 L816.3,1301.8 L798.1,1298.9 L779.9,1289.1 L761.8,1292.8 L743.6,1286.4 L725.4,1270.5 L707.2,1256.5 L689.0,1253.5Z" fill="#b3b3b3" fill-opacity="0.27"/>
<path d="M689.0,1240.6 L707.2,1241.1 L725.4,1246.7 L743.6,1250.1 L761.8,1252.8 L779.9,1252.8 L798.1,1256.5 L816.3,1254.2 L834.5,1259.2 L852.7,1261.5 L870.9,1266.5 L889.1,1272.3 L907.3,1276.9 L925.5,1277.8 L943.6,1278.5 L961.8,1269.4 L980.0,1263.7 L998.2,1251.9 L1016.4,1243.3 L1034.6,1236.5 L1052.8,1242.9" fill="none" stroke="#7a8281" stroke-width="3.8" stroke-dasharray="17.6 17.6" stroke-linejoin="round"/>
<path d="M689.0,1242.2 L707.2,1243.3 L725.4,1252.4 L743.6,1259.2 L761.8,1265.3 L779.9,1270.5 L798.1,1270.5 L816.3,1270.5 L834.5,1272.3 L852.7,1275.1 L870.9,1278.5 L889.1,1277.8 L907.3,1277.8 L925.5,1276.9 L943.6,1279.6 L961.8,1272.8 L980.0,1272.8 L998.2,1266.0 L1016.4,1266.0 L1034.6,1265.3 L1052.8,1271.2" fill="none" stroke="#00008b" stroke-width="4.2" stroke-linejoin="round"/>
<circle cx="689.0" cy="1266.0" r="3.55" fill="#000"/>
<circle cx="707.2" cy="1279.8" r="3.55" fill="#000"/>
<circle cx="725.4" cy="1276.7" r="3.55" fill="#000"/>
<circle cx="743.6" cy="1271.7" r="3.55" fill="#000"/>
<circle cx="761.8" cy="1272.1" r="3.55" fill="#000"/>
<circle cx="779.9" cy="1264.9" r="3.55" fill="#000"/>
<circle cx="798.1" cy="1278.9" r="3.55" fill="#000"/>
<circle cx="816.3" cy="1280.3" r="3.55" fill="#000"/>
<circle cx="834.5" cy="1286.4" r="3.55" fill="#000"/>
<circle cx="852.7" cy="1291.2" r="3.55" fill="#000"/>
<circle cx="870.9" cy="1311.1" r="3.55" fill="#000"/>
<circle cx="889.1" cy="1315.4" r="3.55" fill="#000"/>
<circle cx="907.3" cy="1317.2" r="3.55" fill="#000"/>
<circle cx="925.5" cy="1316.6" r="3.55" fill="#000"/>
<circle cx="943.6" cy="1324.5" r="3.55" fill="#000"/>
<circle cx="961.8" cy="1328.4" r="3.55" fill="#000"/>
<circle cx="980.0" cy="1325.0" r="3.55" fill="#000"/>
<circle cx="998.2" cy="1325.0" r="3.55" fill="#000"/>
<circle cx="1016.4" cy="1326.5" r="3.55" fill="#000"/>
<circle cx="1034.6" cy="1330.2" r="3.55" fill="#000"/>
</g>
<rect x="671.5" y="1105.9" width="399.4" height="248.3" fill="none" stroke="#333333" stroke-width="1.5"/>
<rect x="671.5" y="1057.4" width="399.4" height="47.8" fill="#d9d9d9" stroke="#333333" stroke-width="1.5"/>
<text transform="translate(870.9,1082.0) scale(1,1.06)" y="10.55" font-size="30.3" text-anchor="middle" fill="#111" stroke="#111" stroke-width="0.4">23_Bogue &amp; picarels</text>
<line x1="689.0" x2="689.0" y1="1354.2" y2="1360.5" stroke="#333333" stroke-width="1.5"/>
<text transform="translate(689.0,1377.4) scale(1,1.08)" y="9.7" font-size="27.8" text-anchor="middle" fill="#4d4d4d">2000</text>
<line x1="779.9" x2="779.9" y1="1354.2" y2="1360.5" stroke="#333333" stroke-width="1.5"/>
<text transform="translate(779.9,1377.4) scale(1,1.08)" y="9.7" font-size="27.8" text-anchor="middle" fill="#4d4d4d">2005</text>
<line x1="870.9" x2="870.9" y1="1354.2" y2="1360.5" stroke="#333333" stroke-width="1.5"/>
<text transform="translate(870.9,1377.4) scale(1,1.08)" y="9.7" font-size="27.8" text-anchor="middle" fill="#4d4d4d">2010</text>
<line x1="961.8" x2="961.8" y1="1354.2" y2="1360.5" stroke="#333333" stroke-width="1.5"/>
<text transform="translate(961.8,1377.4) scale(1,1.08)" y="9.7" font-size="27.8" text-anchor="middle" fill="#4d4d4d">2015</text>
<line x1="1052.8" x2="1052.8" y1="1354.2" y2="1360.5" stroke="#333333" stroke-width="1.5"/>
<text transform="translate(1052.8,1377.4) scale(1,1.08)" y="9.7" font-size="27.8" text-anchor="middle" fill="#4d4d4d">2020</text>
<line x1="664.5" x2="670.8" y1="1154.4" y2="1154.4" stroke="#333333" stroke-width="1.5"/>
<text transform="translate(658.4,1155.1) scale(1,1.08)" y="9.7" font-size="27.8" text-anchor="end" fill="#4d4d4d">0.6</text>
<line x1="664.5" x2="670.8" y1="1219.7" y2="1219.7" stroke="#333333" stroke-width="1.5"/>
<text transform="translate(658.4,1220.4) scale(1,1.08)" y="9.7" font-size="27.8" text-anchor="end" fill="#4d4d4d">0.4</text>
<line x1="664.5" x2="670.8" y1="1284.8" y2="1284.8" stroke="#333333" stroke-width="1.5"/>
<text transform="translate(658.4,1285.5) scale(1,1.08)" y="9.7" font-size="27.8" text-anchor="end" fill="#4d4d4d">0.2</text>
<line x1="664.5" x2="670.8" y1="1349.9" y2="1349.9" stroke="#333333" stroke-width="1.5"/>
<text transform="translate(658.4,1350.6) scale(1,1.08)" y="9.7" font-size="27.8" text-anchor="end" fill="#4d4d4d">0.0</text>
<rect x="1181.0" y="1105.2" width="400.2" height="249.0" fill="#fff"/>
<clipPath id="c14"><rect x="1181.0" y="1105.2" width="400.2" height="249.0"/></clipPath>
<g clip-path="url(#c14)">
<line x1="1181.0" x2="1581.2" y1="1171.9" y2="1171.9" stroke="#e6e6e6" stroke-width="1.9"/>
<line x1="1181.0" x2="1581.2" y1="1245.4" y2="1245.4" stroke="#e6e6e6" stroke-width="1.9"/>
<line x1="1181.0" x2="1581.2" y1="1318.6" y2="1318.6" stroke="#e6e6e6" stroke-width="1.9"/>
<path d="M1199.2,1206.6 L1217.4,1206.6 L1235.6,1205.9 L1253.8,1210.4 L1272.0,1215.0 L1290.1,1217.9 L1308.3,1205.9 L1326.5,1184.4 L1344.7,1220.6 L1362.9,1224.7 L1381.1,1193.9 L1399.3,1169.6 L1417.5,1197.5 L1435.7,1177.1 L1453.8,1172.6 L1472.0,1132.2 L1490.2,1159.0 L1508.4,1133.3 L1526.6,1117.5 L1544.8,1121.3 L1563.0,1122.7 L1563.0,1329.5 L1544.8,1329.0 L1526.6,1328.4 L1508.4,1342.6 L1490.2,1333.6 L1472.0,1325.4 L1453.8,1336.7 L1435.7,1321.6 L1417.5,1329.5 L1399.3,1319.3 L1381.1,1310.2 L1362.9,1336.3 L1344.7,1317.0 L1326.5,1306.4 L1308.3,1313.2 L1290.1,1302.3 L1272.0,1296.6 L1253.8,1296.6 L1235.6,1292.1 L1217.4,1275.5 L1199.2,1272.3Z" fill="#b3b3b3" fill-opacity="0.27"/>
<path d="M1199.2,1240.6 L1217.4,1242.2 L1235.6,1251.9 L1253.8,1254.7 L1272.0,1261.0 L1290.1,1261.9 L1308.3,1257.4 L1326.5,1253.5 L1344.7,1258.7 L1362.9,1272.3 L1381.1,1258.7 L1399.3,1256.5 L1417.5,1255.8 L1435.7,1236.5 L1453.8,1251.3 L1472.0,1254.2 L1490.2,1259.6 L1508.4,1249.0 L1526.6,1243.8 L1544.8,1241.1 L1563.0,1251.9" fill="none" stroke="#7a8281" stroke-width="3.8" stroke-dasharray="17.6 17.6" stroke-linejoin="round"/>
<path d="M1199.2,1239.9 L1217.4,1246.0 L1235.6,1263.7 L1253.8,1276.7 L1272.0,1285.7 L1290.1,1292.8 L1308.3,1293.2 L1326.5,1293.2 L1344.7,1295.9 L1362.9,1304.1 L1381.1,1297.7 L1399.3,1301.1 L1417.5,1302.3 L1435.7,1303.4 L1453.8,1306.8 L1472.0,1305.0 L1490.2,1302.7 L1508.4,1301.1 L1526.6,1298.2 L1544.8,1289.1 L1563.0,1304.1" fill="none" stroke="#00008b" stroke-width="4.2" stroke-linejoin="round"/>
<circle cx="1199.2" cy="1271.0" r="3.55" fill="#000"/>
<circle cx="1217.4" cy="1279.1" r="3.55" fill="#000"/>
<circle cx="1235.6" cy="1283.2" r="3.55" fill="#000"/>
<circle cx="1253.8" cy="1272.1" r="3.55" fill="#000"/>
<circle cx="1272.0" cy="1268.7" r="3.55" fill="#000"/>
<circle cx="1290.1" cy="1300.2" r="3.55" fill="#000"/>
<circle cx="1308.3" cy="1307.5" r="3.55" fill="#000"/>
<circle cx="1326.5" cy="1315.0" r="3.55" fill="#000"/>
<circle cx="1344.7" cy="1318.2" r="3.55" fill="#000"/>
<circle cx="1362.9" cy="1324.3" r="3.55" fill="#000"/>
<circle cx="1381.1" cy="1311.3" r="3.55" fill="#000"/>
<circle cx="1399.3" cy="1307.0" r="3.55" fill="#000"/>
<circle cx="1417.5" cy="1290.5" r="3.55" fill="#000"/>
<circle cx="1435.7" cy="1286.4" r="3.55" fill="#000"/>
<circle cx="1453.8" cy="1280.3" r="3.55" fill="#000"/>
<circle cx="1472.0" cy="1290.0" r="3.55" fill="#000"/>
<circle cx="1490.2" cy="1294.1" r="3.55" fill="#000"/>
<circle cx="1508.4" cy="1299.6" r="3.55" fill="#000"/>
<circle cx="1526.6" cy="1293.7" r="3.55" fill="#000"/>
<circle cx="1544.8" cy="1281.4" r="3.55" fill="#000"/>
</g>
<rect x="1181.7" y="1105.9" width="399.4" height="248.3" fill="none" stroke="#333333" stroke-width="1.5"/>
<rect x="1181.7" y="1057.4" width="399.4" height="47.8" fill="#d9d9d9" stroke="#333333" stroke-width="1.5"/>
<text transform="translate(1381.1,1082.0) scale(1,1.06)" y="10.55" font-size="30.3" text-anchor="middle" fill="#111" stroke="#111" stroke-width="0.4">24_Epipelagic fishes</text>
<line x1="1199.2" x2="1199.2" y1="1354.2" y2="1360.5" stroke="#333333" stroke-width="1.5"/>
<text transform="translate(1199.2,1377.4) scale(1,1.08)" y="9.7" font-size="27.8" text-anchor="middle" fill="#4d4d4d">2000</text>
<line x1="1290.1" x2="1290.1" y1="1354.2" y2="1360.5" stroke="#333333" stroke-width="1.5"/>
<text transform="translate(1290.1,1377.4) scale(1,1.08)" y="9.7" font-size="27.8" text-anchor="middle" fill="#4d4d4d">2005</text>
<line x1="1381.1" x2="1381.1" y1="1354.2" y2="1360.5" stroke="#333333" stroke-width="1.5"/>
<text transform="translate(1381.1,1377.4) scale(1,1.08)" y="9.7" font-size="27.8" text-anchor="middle" fill="#4d4d4d">2010</text>
<line x1="1472.0" x2="1472.0" y1="1354.2" y2="1360.5" stroke="#333333" stroke-width="1.5"/>
<text transform="translate(1472.0,1377.4) scale(1,1.08)" y="9.7" font-size="27.8" text-anchor="middle" fill="#4d4d4d">2015</text>
<line x1="1563.0" x2="1563.0" y1="1354.2" y2="1360.5" stroke="#333333" stroke-width="1.5"/>
<text transform="translate(1563.0,1377.4) scale(1,1.08)" y="9.7" font-size="27.8" text-anchor="middle" fill="#4d4d4d">2020</text>
<line x1="1174.7" x2="1181.0" y1="1171.9" y2="1171.9" stroke="#333333" stroke-width="1.5"/>
<text transform="translate(1168.6,1172.6) scale(1,1.08)" y="9.7" font-size="27.8" text-anchor="end" fill="#4d4d4d">0.06</text>
<line x1="1174.7" x2="1181.0" y1="1245.4" y2="1245.4" stroke="#333333" stroke-width="1.5"/>
<text transform="translate(1168.6,1246.1) scale(1,1.08)" y="9.7" font-size="27.8" text-anchor="end" fill="#4d4d4d">0.04</text>
<line x1="1174.7" x2="1181.0" y1="1318.6" y2="1318.6" stroke="#333333" stroke-width="1.5"/>
<text transform="translate(1168.6,1319.3) scale(1,1.08)" y="9.7" font-size="27.8" text-anchor="end" fill="#4d4d4d">0.02</text>
<rect x="1691.5" y="1105.2" width="400.2" height="249.0" fill="#fff"/>
<clipPath id="c15"><rect x="1691.5" y="1105.2" width="400.2" height="249.0"/></clipPath>
<g clip-path="url(#c15)">
<line x1="1691.5" x2="2091.7" y1="1145.6" y2="1145.6" stroke="#e6e6e6" stroke-width="1.9"/>
<line x1="1691.5" x2="2091.7" y1="1216.8" y2="1216.8" stroke="#e6e6e6" stroke-width="1.9"/>
<line x1="1691.5" x2="2091.7" y1="1287.8" y2="1287.8" stroke="#e6e6e6" stroke-width="1.9"/>
<path d="M1709.7,1235.4 L1727.9,1229.7 L1746.1,1217.2 L1764.3,1182.1 L1782.5,1183.2 L1800.6,1181.6 L1818.8,1195.7 L1837.0,1130.4 L1855.2,1168.5 L1873.4,1212.0 L1891.6,1210.4 L1909.8,1198.4 L1928.0,1207.5 L1946.2,1178.7 L1964.3,1179.8 L1982.5,1156.0 L2000.7,1169.6 L2018.9,1169.6 L2037.1,1162.8 L2055.3,1118.2 L2073.5,1188.9 L2073.5,1336.7 L2055.3,1336.3 L2037.1,1342.6 L2018.9,1340.4 L2000.7,1334.0 L1982.5,1332.9 L1964.3,1341.3 L1946.2,1341.3 L1928.0,1331.8 L1909.8,1330.6 L1891.6,1318.2 L1873.4,1320.9 L1855.2,1308.6 L1837.0,1307.9 L1818.8,1305.7 L1800.6,1302.3 L1782.5,1301.8 L1764.3,1295.5 L1746.1,1289.1 L1727.9,1271.0 L1709.7,1271.7Z" fill="#b3b3b3" fill-opacity="0.27"/>
<path d="M1709.7,1253.5 L1727.9,1253.5 L1746.1,1257.4 L1764.3,1256.5 L1782.5,1254.7 L1800.6,1254.7 L1818.8,1247.9 L1837.0,1246.0 L1855.2,1258.1 L1873.4,1284.1 L1891.6,1268.3 L1909.8,1270.1 L1928.0,1271.7 L1946.2,1271.2 L1964.3,1270.5 L1982.5,1272.8 L2000.7,1251.3 L2018.9,1245.6 L2037.1,1251.9 L2055.3,1244.5 L2073.5,1263.7" fill="none" stroke="#7a8281" stroke-width="3.8" stroke-dasharray="17.6 17.6" stroke-linejoin="round"/>
<path d="M1709.7,1255.1 L1727.9,1255.1 L1746.1,1265.5 L1764.3,1268.7 L1782.5,1273.9 L1800.6,1280.7 L1818.8,1277.8 L1837.0,1277.8 L1855.2,1279.6 L1873.4,1292.1 L1891.6,1275.5 L1909.8,1280.7 L1928.0,1280.7 L1946.2,1278.5 L1964.3,1280.1 L1982.5,1288.2 L2000.7,1284.1 L2018.9,1280.1 L2037.1,1272.3 L2055.3,1252.4 L2073.5,1279.6" fill="none" stroke="#00008b" stroke-width="4.2" stroke-linejoin="round"/>
<circle cx="1709.7" cy="1260.6" r="3.55" fill="#000"/>
<circle cx="1727.9" cy="1267.1" r="3.55" fill="#000"/>
<circle cx="1746.1" cy="1243.5" r="3.55" fill="#000"/>
<circle cx="1764.3" cy="1215.4" r="3.55" fill="#000"/>
<circle cx="1782.5" cy="1224.0" r="3.55" fill="#000"/>
<circle cx="1800.6" cy="1240.4" r="3.55" fill="#000"/>
<circle cx="1818.8" cy="1254.2" r="3.55" fill="#000"/>
<circle cx="1837.0" cy="1248.5" r="3.55" fill="#000"/>
<circle cx="1855.2" cy="1273.7" r="3.55" fill="#000"/>
<circle cx="1873.4" cy="1280.3" r="3.55" fill="#000"/>
<circle cx="1891.6" cy="1289.4" r="3.55" fill="#000"/>
<circle cx="1909.8" cy="1280.3" r="3.55" fill="#000"/>
<circle cx="1928.0" cy="1256.2" r="3.55" fill="#000"/>
<circle cx="1946.2" cy="1243.5" r="3.55" fill="#000"/>
<circle cx="1964.3" cy="1262.4" r="3.55" fill="#000"/>
<circle cx="1982.5" cy="1285.3" r="3.55" fill="#000"/>
<circle cx="2000.7" cy="1295.5" r="3.55" fill="#000"/>
<circle cx="2018.9" cy="1298.2" r="3.55" fill="#000"/>
<circle cx="2037.1" cy="1297.7" r="3.55" fill="#000"/>
<circle cx="2055.3" cy="1283.2" r="3.55" fill="#000"/>
</g>
<rect x="1692.2" y="1105.9" width="399.4" height="248.3" fill="none" stroke="#333333" stroke-width="1.5"/>
<rect x="1692.2" y="1057.4" width="399.4" height="47.8" fill="#d9d9d9" stroke="#333333" stroke-width="1.5"/>
<text transform="translate(1891.6,1082.0) scale(1,1.06)" y="10.55" font-size="30.3" text-anchor="middle" fill="#111" stroke="#111" stroke-width="0.4">25_Mackerels</text>
<line x1="1709.7" x2="1709.7" y1="1354.2" y2="1360.5" stroke="#333333" stroke-width="1.5"/>
<text transform="translate(1709.7,1377.4) scale(1,1.08)" y="9.7" font-size="27.8" text-anchor="middle" fill="#4d4d4d">2000</text>
<line x1="1800.6" x2="1800.6" y1="1354.2" y2="1360.5" stroke="#333333" stroke-width="1.5"/>
<text transform="translate(1800.6,1377.4) scale(1,1.08)" y="9.7" font-size="27.8" text-anchor="middle" fill="#4d4d4d">2005</text>
<line x1="1891.6" x2="1891.6" y1="1354.2" y2="1360.5" stroke="#333333" stroke-width="1.5"/>
<text transform="translate(1891.6,1377.4) scale(1,1.08)" y="9.7" font-size="27.8" text-anchor="middle" fill="#4d4d4d">2010</text>
<line x1="1982.5" x2="1982.5" y1="1354.2" y2="1360.5" stroke="#333333" stroke-width="1.5"/>
<text transform="translate(1982.5,1377.4) scale(1,1.08)" y="9.7" font-size="27.8" text-anchor="middle" fill="#4d4d4d">2015</text>
<line x1="2073.5" x2="2073.5" y1="1354.2" y2="1360.5" stroke="#333333" stroke-width="1.5"/>
<text transform="translate(2073.5,1377.4) scale(1,1.08)" y="9.7" font-size="27.8" text-anchor="middle" fill="#4d4d4d">2020</text>
<line x1="1685.2" x2="1691.5" y1="1145.6" y2="1145.6" stroke="#333333" stroke-width="1.5"/>
<text transform="translate(1679.1,1146.3) scale(1,1.08)" y="9.7" font-size="27.8" text-anchor="end" fill="#4d4d4d">0.06</text>
<line x1="1685.2" x2="1691.5" y1="1216.8" y2="1216.8" stroke="#333333" stroke-width="1.5"/>
<text transform="translate(1679.1,1217.5) scale(1,1.08)" y="9.7" font-size="27.8" text-anchor="end" fill="#4d4d4d">0.04</text>
<line x1="1685.2" x2="1691.5" y1="1287.8" y2="1287.8" stroke="#333333" stroke-width="1.5"/>
<text transform="translate(1679.1,1288.5) scale(1,1.08)" y="9.7" font-size="27.8" text-anchor="end" fill="#4d4d4d">0.02</text>
<rect x="176.1" y="1453.3" width="400.2" height="249.0" fill="#fff"/>
<clipPath id="c16"><rect x="176.1" y="1453.3" width="400.2" height="249.0"/></clipPath>
<g clip-path="url(#c16)">
<line x1="176.1" x2="576.3" y1="1503.8" y2="1503.8" stroke="#e6e6e6" stroke-width="1.9"/>
<line x1="176.1" x2="576.3" y1="1571.6" y2="1571.6" stroke="#e6e6e6" stroke-width="1.9"/>
<line x1="176.1" x2="576.3" y1="1638.9" y2="1638.9" stroke="#e6e6e6" stroke-width="1.9"/>
<path d="M194.3,1589.5 L212.5,1596.3 L230.7,1597.0 L248.9,1590.9 L267.1,1591.3 L285.2,1582.3 L303.4,1564.1 L321.6,1570.9 L339.8,1542.6 L358.0,1544.8 L376.2,1510.8 L394.4,1563.7 L412.6,1550.5 L430.8,1529.0 L449.0,1525.1 L467.1,1525.1 L485.3,1516.9 L503.5,1466.2 L521.7,1465.5 L539.9,1500.6 L558.1,1540.3 L558.1,1690.0 L539.9,1683.8 L521.7,1686.6 L503.5,1690.0 L485.3,1690.0 L467.1,1690.0 L449.0,1690.6 L430.8,1685.4 L412.6,1683.8 L394.4,1680.9 L376.2,1674.1 L358.0,1680.2 L339.8,1669.6 L321.6,1668.4 L303.4,1673.4 L285.2,1670.2 L267.1,1663.9 L248.9,1655.9 L230.7,1646.9 L212.5,1635.5 L194.3,1628.1Z" fill="#b3b3b3" fill-opacity="0.27"/>
<path d="M194.3,1609.5 L212.5,1616.3 L230.7,1623.5 L248.9,1623.5 L267.1,1628.7 L285.2,1628.7 L303.4,1628.7 L321.6,1618.5 L339.8,1618.1 L358.0,1621.9 L376.2,1607.2 L394.4,1618.5 L412.6,1624.2 L430.8,1624.9 L449.0,1628.1 L467.1,1625.8 L485.3,1621.9 L503.5,1606.1 L521.7,1590.9 L539.9,1576.6 L558.1,1599.3" fill="none" stroke="#7a8281" stroke-width="3.8" stroke-dasharray="17.6 17.6" stroke-linejoin="round"/>
<path d="M194.3,1609.5 L212.5,1618.1 L230.7,1628.1 L248.9,1632.6 L267.1,1637.8 L285.2,1642.3 L303.4,1646.9 L321.6,1645.3 L339.8,1646.9 L358.0,1649.8 L376.2,1641.7 L394.4,1646.2 L412.6,1650.7 L430.8,1652.5 L449.0,1657.1 L467.1,1657.1 L485.3,1656.6 L503.5,1650.7 L521.7,1645.7 L539.9,1641.2 L558.1,1652.1" fill="none" stroke="#00008b" stroke-width="4.2" stroke-linejoin="round"/>
<circle cx="194.3" cy="1608.3" r="3.55" fill="#000"/>
<circle cx="212.5" cy="1610.1" r="3.55" fill="#000"/>
<circle cx="230.7" cy="1611.0" r="3.55" fill="#000"/>
<circle cx="248.9" cy="1622.4" r="3.55" fill="#000"/>
<circle cx="267.1" cy="1618.5" r="3.55" fill="#000"/>
<circle cx="285.2" cy="1602.9" r="3.55" fill="#000"/>
<circle cx="303.4" cy="1604.0" r="3.55" fill="#000"/>
<circle cx="321.6" cy="1598.4" r="3.55" fill="#000"/>
<circle cx="339.8" cy="1617.4" r="3.55" fill="#000"/>
<circle cx="358.0" cy="1632.6" r="3.55" fill="#000"/>
<circle cx="376.2" cy="1650.3" r="3.55" fill="#000"/>
<circle cx="394.4" cy="1654.8" r="3.55" fill="#000"/>
<circle cx="412.6" cy="1650.3" r="3.55" fill="#000"/>
<circle cx="430.8" cy="1665.7" r="3.55" fill="#000"/>
<circle cx="449.0" cy="1671.4" r="3.55" fill="#000"/>
<circle cx="467.1" cy="1675.9" r="3.55" fill="#000"/>
<circle cx="485.3" cy="1679.5" r="3.55" fill="#000"/>
<circle cx="503.5" cy="1677.5" r="3.55" fill="#000"/>
<circle cx="521.7" cy="1678.6" r="3.55" fill="#000"/>
<circle cx="539.9" cy="1668.4" r="3.55" fill="#000"/>
</g>
<rect x="176.8" y="1454.0" width="399.4" height="248.3" fill="none" stroke="#333333" stroke-width="1.5"/>
<rect x="176.8" y="1405.5" width="399.4" height="47.8" fill="#d9d9d9" stroke="#333333" stroke-width="1.5"/>
<text transform="translate(376.2,1430.1) scale(1,1.06)" y="10.55" font-size="30.3" text-anchor="middle" fill="#111" stroke="#111" stroke-width="0.4">26_Horse mackerels</text>
<line x1="194.3" x2="194.3" y1="1702.3" y2="1708.6" stroke="#333333" stroke-width="1.5"/>
<text transform="translate(194.3,1725.5) scale(1,1.08)" y="9.7" font-size="27.8" text-anchor="middle" fill="#4d4d4d">2000</text>
<line x1="285.2" x2="285.2" y1="1702.3" y2="1708.6" stroke="#333333" stroke-width="1.5"/>
<text transform="translate(285.2,1725.5) scale(1,1.08)" y="9.7" font-size="27.8" text-anchor="middle" fill="#4d4d4d">2005</text>
<line x1="376.2" x2="376.2" y1="1702.3" y2="1708.6" stroke="#333333" stroke-width="1.5"/>
<text transform="translate(376.2,1725.5) scale(1,1.08)" y="9.7" font-size="27.8" text-anchor="middle" fill="#4d4d4d">2010</text>
<line x1="467.1" x2="467.1" y1="1702.3" y2="1708.6" stroke="#333333" stroke-width="1.5"/>
<text transform="translate(467.1,1725.5) scale(1,1.08)" y="9.7" font-size="27.8" text-anchor="middle" fill="#4d4d4d">2015</text>
<line x1="558.1" x2="558.1" y1="1702.3" y2="1708.6" stroke="#333333" stroke-width="1.5"/>
<text transform="translate(558.1,1725.5) scale(1,1.08)" y="9.7" font-size="27.8" text-anchor="middle" fill="#4d4d4d">2020</text>
<line x1="169.8" x2="176.1" y1="1503.8" y2="1503.8" stroke="#333333" stroke-width="1.5"/>
<text transform="translate(163.7,1504.5) scale(1,1.08)" y="9.7" font-size="27.8" text-anchor="end" fill="#4d4d4d">0.15</text>
<line x1="169.8" x2="176.1" y1="1571.6" y2="1571.6" stroke="#333333" stroke-width="1.5"/>
<text transform="translate(163.7,1572.3) scale(1,1.08)" y="9.7" font-size="27.8" text-anchor="end" fill="#4d4d4d">0.10</text>
<line x1="169.8" x2="176.1" y1="1638.9" y2="1638.9" stroke="#333333" stroke-width="1.5"/>
<text transform="translate(163.7,1639.6) scale(1,1.08)" y="9.7" font-size="27.8" text-anchor="end" fill="#4d4d4d">0.05</text>
<rect x="670.8" y="1453.3" width="400.2" height="249.0" fill="#fff"/>
<clipPath id="c17"><rect x="670.8" y="1453.3" width="400.2" height="249.0"/></clipPath>
<g clip-path="url(#c17)">
<line x1="670.8" x2="1071.0" y1="1509.7" y2="1509.7" stroke="#e6e6e6" stroke-width="1.9"/>
<line x1="670.8" x2="1071.0" y1="1570.9" y2="1570.9" stroke="#e6e6e6" stroke-width="1.9"/>
<line x1="670.8" x2="1071.0" y1="1632.4" y2="1632.4" stroke="#e6e6e6" stroke-width="1.9"/>
<line x1="670.8" x2="1071.0" y1="1693.6" y2="1693.6" stroke="#e6e6e6" stroke-width="1.9"/>
<path d="M689.0,1496.1 L707.2,1495.0 L725.4,1508.6 L743.6,1508.6 L761.8,1500.6 L779.9,1519.9 L798.1,1502.4 L816.3,1519.9 L834.5,1513.1 L852.7,1558.4 L870.9,1513.8 L889.1,1525.1 L907.3,1526.0 L925.5,1522.2 L943.6,1522.2 L961.8,1497.2 L980.0,1527.8 L998.2,1513.1 L1016.4,1489.3 L1034.6,1465.5 L1052.8,1474.5 L1052.8,1656.6 L1034.6,1647.6 L1016.4,1651.4 L998.2,1652.5 L980.0,1659.8 L961.8,1662.8 L943.6,1666.6 L925.5,1658.2 L907.3,1652.5 L889.1,1648.0 L870.9,1646.9 L852.7,1652.5 L834.5,1645.3 L816.3,1639.4 L798.1,1642.3 L779.9,1637.8 L761.8,1632.1 L743.6,1628.7 L725.4,1625.8 L707.2,1616.3 L689.0,1613.5Z" fill="#b3b3b3" fill-opacity="0.27"/>
<path d="M689.0,1563.7 L707.2,1563.7 L725.4,1582.3 L743.6,1581.1 L761.8,1582.7 L779.9,1582.7 L798.1,1588.6 L816.3,1588.6 L834.5,1594.0 L852.7,1610.6 L870.9,1599.3 L889.1,1591.3 L907.3,1599.3 L925.5,1595.9 L943.6,1602.2 L961.8,1603.3 L980.0,1603.8 L998.2,1596.3 L1016.4,1589.1 L1034.6,1575.0 L1052.8,1594.0" fill="none" stroke="#7a8281" stroke-width="3.8" stroke-dasharray="17.6 17.6" stroke-linejoin="round"/>
<path d="M689.0,1597.0 L707.2,1602.7 L725.4,1615.1 L743.6,1625.8 L761.8,1631.0 L779.9,1638.9 L798.1,1643.9 L816.3,1640.1 L834.5,1645.3 L852.7,1653.7 L870.9,1645.7 L889.1,1647.6 L907.3,1646.9 L925.5,1651.4 L943.6,1649.1 L961.8,1655.9 L980.0,1659.3 L998.2,1649.8 L1016.4,1650.7 L1034.6,1645.7 L1052.8,1648.5" fill="none" stroke="#00008b" stroke-width="4.2" stroke-linejoin="round"/>
<circle cx="689.0" cy="1596.3" r="3.55" fill="#000"/>
<circle cx="707.2" cy="1638.3" r="3.55" fill="#000"/>
<circle cx="725.4" cy="1649.1" r="3.55" fill="#000"/>
<circle cx="743.6" cy="1658.7" r="3.55" fill="#000"/>
<circle cx="761.8" cy="1667.5" r="3.55" fill="#000"/>
<circle cx="779.9" cy="1675.9" r="3.55" fill="#000"/>
<circle cx="798.1" cy="1677.5" r="3.55" fill="#000"/>
<circle cx="816.3" cy="1674.1" r="3.55" fill="#000"/>
<circle cx="834.5" cy="1657.1" r="3.55" fill="#000"/>
<circle cx="852.7" cy="1662.8" r="3.55" fill="#000"/>
<circle cx="870.9" cy="1661.4" r="3.55" fill="#000"/>
<circle cx="889.1" cy="1652.1" r="3.55" fill="#000"/>
<circle cx="907.3" cy="1641.9" r="3.55" fill="#000"/>
<circle cx="925.5" cy="1648.0" r="3.55" fill="#000"/>
<circle cx="943.6" cy="1656.4" r="3.55" fill="#000"/>
<circle cx="961.8" cy="1660.7" r="3.55" fill="#000"/>
<circle cx="980.0" cy="1672.0" r="3.55" fill="#000"/>
<circle cx="998.2" cy="1681.3" r="3.55" fill="#000"/>
<circle cx="1016.4" cy="1691.1" r="3.55" fill="#000"/>
<circle cx="1034.6" cy="1691.1" r="3.55" fill="#000"/>
</g>
<rect x="671.5" y="1454.0" width="399.4" height="248.3" fill="none" stroke="#333333" stroke-width="1.5"/>
<rect x="671.5" y="1405.5" width="399.4" height="47.8" fill="#d9d9d9" stroke="#333333" stroke-width="1.5"/>
<text transform="translate(870.9,1430.1) scale(1,1.06)" y="10.55" font-size="30.3" text-anchor="middle" fill="#111" stroke="#111" stroke-width="0.4">27_Anchovy juv</text>
<line x1="689.0" x2="689.0" y1="1702.3" y2="1708.6" stroke="#333333" stroke-width="1.5"/>
<text transform="translate(689.0,1725.5) scale(1,1.08)" y="9.7" font-size="27.8" text-anchor="middle" fill="#4d4d4d">2000</text>
<line x1="779.9" x2="779.9" y1="1702.3" y2="1708.6" stroke="#333333" stroke-width="1.5"/>
<text transform="translate(779.9,1725.5) scale(1,1.08)" y="9.7" font-size="27.8" text-anchor="middle" fill="#4d4d4d">2005</text>
<line x1="870.9" x2="870.9" y1="1702.3" y2="1708.6" stroke="#333333" stroke-width="1.5"/>
<text transform="translate(870.9,1725.5) scale(1,1.08)" y="9.7" font-size="27.8" text-anchor="middle" fill="#4d4d4d">2010</text>
<line x1="961.8" x2="961.8" y1="1702.3" y2="1708.6" stroke="#333333" stroke-width="1.5"/>
<text transform="translate(961.8,1725.5) scale(1,1.08)" y="9.7" font-size="27.8" text-anchor="middle" fill="#4d4d4d">2015</text>
<line x1="1052.8" x2="1052.8" y1="1702.3" y2="1708.6" stroke="#333333" stroke-width="1.5"/>
<text transform="translate(1052.8,1725.5) scale(1,1.08)" y="9.7" font-size="27.8" text-anchor="middle" fill="#4d4d4d">2020</text>
<line x1="664.5" x2="670.8" y1="1509.7" y2="1509.7" stroke="#333333" stroke-width="1.5"/>
<text transform="translate(658.4,1510.4) scale(1,1.08)" y="9.7" font-size="27.8" text-anchor="end" fill="#4d4d4d">0.15</text>
<line x1="664.5" x2="670.8" y1="1570.9" y2="1570.9" stroke="#333333" stroke-width="1.5"/>
<text transform="translate(658.4,1571.6) scale(1,1.08)" y="9.7" font-size="27.8" text-anchor="end" fill="#4d4d4d">0.10</text>
<line x1="664.5" x2="670.8" y1="1632.4" y2="1632.4" stroke="#333333" stroke-width="1.5"/>
<text transform="translate(658.4,1633.1) scale(1,1.08)" y="9.7" font-size="27.8" text-anchor="end" fill="#4d4d4d">0.05</text>
<line x1="664.5" x2="670.8" y1="1693.6" y2="1693.6" stroke="#333333" stroke-width="1.5"/>
<text transform="translate(658.4,1694.3) scale(1,1.08)" y="9.7" font-size="27.8" text-anchor="end" fill="#4d4d4d">0.00</text>
<rect x="1181.0" y="1453.3" width="400.2" height="249.0" fill="#fff"/>
<clipPath id="c18"><rect x="1181.0" y="1453.3" width="400.2" height="249.0"/></clipPath>
<g clip-path="url(#c18)">
<line x1="1181.0" x2="1581.2" y1="1533.3" y2="1533.3" stroke="#e6e6e6" stroke-width="1.9"/>
<line x1="1181.0" x2="1581.2" y1="1613.8" y2="1613.8" stroke="#e6e6e6" stroke-width="1.9"/>
<line x1="1181.0" x2="1581.2" y1="1694.0" y2="1694.0" stroke="#e6e6e6" stroke-width="1.9"/>
<path d="M1199.2,1562.3 L1217.4,1550.5 L1235.6,1584.1 L1253.8,1548.2 L1272.0,1574.3 L1290.1,1555.0 L1308.3,1555.5 L1326.5,1545.5 L1344.7,1557.8 L1362.9,1594.7 L1381.1,1550.5 L1399.3,1548.7 L1417.5,1557.3 L1435.7,1547.8 L1453.8,1530.6 L1472.0,1541.9 L1490.2,1560.0 L1508.4,1529.0 L1526.6,1532.4 L1544.8,1466.2 L1563.0,1517.6 L1563.0,1652.1 L1544.8,1641.2 L1526.6,1642.3 L1508.4,1649.1 L1490.2,1655.9 L1472.0,1662.8 L1453.8,1655.9 L1435.7,1653.7 L1417.5,1654.4 L1399.3,1654.4 L1381.1,1652.5 L1362.9,1658.2 L1344.7,1651.4 L1326.5,1647.6 L1308.3,1649.1 L1290.1,1649.1 L1272.0,1646.9 L1253.8,1631.0 L1235.6,1635.5 L1217.4,1620.3 L1199.2,1618.1Z" fill="#b3b3b3" fill-opacity="0.27"/>
<path d="M1199.2,1590.9 L1217.4,1585.7 L1235.6,1608.3 L1253.8,1593.6 L1272.0,1611.7 L1290.1,1605.4 L1308.3,1605.4 L1326.5,1601.5 L1344.7,1609.5 L1362.9,1627.6 L1381.1,1604.5 L1399.3,1600.8 L1417.5,1609.0 L1435.7,1602.7 L1453.8,1600.8 L1472.0,1614.5 L1490.2,1617.4 L1508.4,1611.3 L1526.6,1595.9 L1544.8,1569.8 L1563.0,1592.5" fill="none" stroke="#7a8281" stroke-width="3.8" stroke-dasharray="17.6 17.6" stroke-linejoin="round"/>
<path d="M1199.2,1597.7 L1217.4,1603.8 L1235.6,1620.8 L1253.8,1629.9 L1272.0,1634.4 L1290.1,1643.5 L1308.3,1648.0 L1326.5,1639.4 L1344.7,1646.2 L1362.9,1659.8 L1381.1,1645.7 L1399.3,1648.0 L1417.5,1643.5 L1435.7,1653.0 L1453.8,1644.6 L1472.0,1655.9 L1490.2,1659.8 L1508.4,1652.1 L1526.6,1646.2 L1544.8,1640.8 L1563.0,1642.3" fill="none" stroke="#00008b" stroke-width="4.2" stroke-linejoin="round"/>
<circle cx="1199.2" cy="1604.9" r="3.55" fill="#000"/>
<circle cx="1217.4" cy="1639.6" r="3.55" fill="#000"/>
<circle cx="1235.6" cy="1649.1" r="3.55" fill="#000"/>
<circle cx="1253.8" cy="1657.5" r="3.55" fill="#000"/>
<circle cx="1272.0" cy="1667.5" r="3.55" fill="#000"/>
<circle cx="1290.1" cy="1673.6" r="3.55" fill="#000"/>
<circle cx="1308.3" cy="1677.3" r="3.55" fill="#000"/>
<circle cx="1326.5" cy="1675.9" r="3.55" fill="#000"/>
<circle cx="1344.7" cy="1669.6" r="3.55" fill="#000"/>
<circle cx="1362.9" cy="1669.6" r="3.55" fill="#000"/>
<circle cx="1381.1" cy="1663.2" r="3.55" fill="#000"/>
<circle cx="1399.3" cy="1650.3" r="3.55" fill="#000"/>
<circle cx="1417.5" cy="1638.0" r="3.55" fill="#000"/>
<circle cx="1435.7" cy="1641.7" r="3.55" fill="#000"/>
<circle cx="1453.8" cy="1651.4" r="3.55" fill="#000"/>
<circle cx="1472.0" cy="1658.4" r="3.55" fill="#000"/>
<circle cx="1490.2" cy="1668.4" r="3.55" fill="#000"/>
<circle cx="1508.4" cy="1679.5" r="3.55" fill="#000"/>
<circle cx="1526.6" cy="1691.1" r="3.55" fill="#000"/>
<circle cx="1544.8" cy="1691.1" r="3.55" fill="#000"/>
</g>
<rect x="1181.7" y="1454.0" width="399.4" height="248.3" fill="none" stroke="#333333" stroke-width="1.5"/>
<rect x="1181.7" y="1405.5" width="399.4" height="47.8" fill="#d9d9d9" stroke="#333333" stroke-width="1.5"/>
<text transform="translate(1381.1,1430.1) scale(1,1.06)" y="10.55" font-size="30.3" text-anchor="middle" fill="#111" stroke="#111" stroke-width="0.4">28_Anchovy</text>
<line x1="1199.2" x2="1199.2" y1="1702.3" y2="1708.6" stroke="#333333" stroke-width="1.5"/>
<text transform="translate(1199.2,1725.5) scale(1,1.08)" y="9.7" font-size="27.8" text-anchor="middle" fill="#4d4d4d">2000</text>
<line x1="1290.1" x2="1290.1" y1="1702.3" y2="1708.6" stroke="#333333" stroke-width="1.5"/>
<text transform="translate(1290.1,1725.5) scale(1,1.08)" y="9.7" font-size="27.8" text-anchor="middle" fill="#4d4d4d">2005</text>
<line x1="1381.1" x2="1381.1" y1="1702.3" y2="1708.6" stroke="#333333" stroke-width="1.5"/>
<text transform="translate(1381.1,1725.5) scale(1,1.08)" y="9.7" font-size="27.8" text-anchor="middle" fill="#4d4d4d">2010</text>
<line x1="1472.0" x2="1472.0" y1="1702.3" y2="1708.6" stroke="#333333" stroke-width="1.5"/>
<text transform="translate(1472.0,1725.5) scale(1,1.08)" y="9.7" font-size="27.8" text-anchor="middle" fill="#4d4d4d">2015</text>
<line x1="1563.0" x2="1563.0" y1="1702.3" y2="1708.6" stroke="#333333" stroke-width="1.5"/>
<text transform="translate(1563.0,1725.5) scale(1,1.08)" y="9.7" font-size="27.8" text-anchor="middle" fill="#4d4d4d">2020</text>
<line x1="1174.7" x2="1181.0" y1="1533.3" y2="1533.3" stroke="#333333" stroke-width="1.5"/>
<text transform="translate(1168.6,1534.0) scale(1,1.08)" y="9.7" font-size="27.8" text-anchor="end" fill="#4d4d4d">0.04</text>
<line x1="1174.7" x2="1181.0" y1="1613.8" y2="1613.8" stroke="#333333" stroke-width="1.5"/>
<text transform="translate(1168.6,1614.5) scale(1,1.08)" y="9.7" font-size="27.8" text-anchor="end" fill="#4d4d4d">0.02</text>
<line x1="1174.7" x2="1181.0" y1="1694.0" y2="1694.0" stroke="#333333" stroke-width="1.5"/>
<text transform="translate(1168.6,1694.7) scale(1,1.08)" y="9.7" font-size="27.8" text-anchor="end" fill="#4d4d4d">0.00</text>
<rect x="1691.5" y="1453.3" width="400.2" height="249.0" fill="#fff"/>
<clipPath id="c19"><rect x="1691.5" y="1453.3" width="400.2" height="249.0"/></clipPath>
<g clip-path="url(#c19)">
<line x1="1691.5" x2="2091.7" y1="1461.6" y2="1461.6" stroke="#e6e6e6" stroke-width="1.9"/>
<line x1="1691.5" x2="2091.7" y1="1527.8" y2="1527.8" stroke="#e6e6e6" stroke-width="1.9"/>
<line x1="1691.5" x2="2091.7" y1="1594.0" y2="1594.0" stroke="#e6e6e6" stroke-width="1.9"/>
<line x1="1691.5" x2="2091.7" y1="1660.3" y2="1660.3" stroke="#e6e6e6" stroke-width="1.9"/>
<path d="M1709.7,1497.2 L1727.9,1493.8 L1746.1,1509.2 L1764.3,1513.1 L1782.5,1513.1 L1800.6,1526.0 L1818.8,1512.4 L1837.0,1505.2 L1855.2,1523.7 L1873.4,1526.0 L1891.6,1516.5 L1909.8,1521.5 L1928.0,1522.2 L1946.2,1531.9 L1964.3,1541.0 L1982.5,1518.8 L2000.7,1535.1 L2018.9,1515.4 L2037.1,1490.4 L2055.3,1466.2 L2073.5,1525.1 L2073.5,1684.7 L2055.3,1683.8 L2037.1,1679.3 L2018.9,1678.6 L2000.7,1683.2 L1982.5,1691.1 L1964.3,1688.8 L1946.2,1687.7 L1928.0,1685.4 L1909.8,1678.6 L1891.6,1669.6 L1873.4,1676.4 L1855.2,1683.8 L1837.0,1669.6 L1818.8,1683.2 L1800.6,1658.2 L1782.5,1654.4 L1764.3,1652.1 L1746.1,1648.5 L1727.9,1644.6 L1709.7,1634.0Z" fill="#b3b3b3" fill-opacity="0.27"/>
<path d="M1709.7,1578.9 L1727.9,1581.6 L1746.1,1596.5 L1764.3,1595.9 L1782.5,1599.3 L1800.6,1601.5 L1818.8,1600.4 L1837.0,1599.3 L1855.2,1609.5 L1873.4,1617.4 L1891.6,1606.7 L1909.8,1609.9 L1928.0,1615.1 L1946.2,1616.7 L1964.3,1619.7 L1982.5,1608.6 L2000.7,1609.9 L2018.9,1610.6 L2037.1,1597.7 L2055.3,1583.4 L2073.5,1612.9" fill="none" stroke="#7a8281" stroke-width="3.8" stroke-dasharray="17.6 17.6" stroke-linejoin="round"/>
<path d="M1709.7,1605.4 L1727.9,1612.2 L1746.1,1625.8 L1764.3,1637.8 L1782.5,1645.3 L1800.6,1655.5 L1818.8,1657.1 L1837.0,1655.9 L1855.2,1659.3 L1873.4,1668.0 L1891.6,1665.0 L1909.8,1661.6 L1928.0,1668.0 L1946.2,1665.5 L1964.3,1670.7 L1982.5,1671.1 L2000.7,1667.3 L2018.9,1671.1 L2037.1,1661.2 L2055.3,1657.8 L2073.5,1670.2" fill="none" stroke="#00008b" stroke-width="4.2" stroke-linejoin="round"/>
<circle cx="1709.7" cy="1603.3" r="3.55" fill="#000"/>
<circle cx="1727.9" cy="1626.9" r="3.55" fill="#000"/>
<circle cx="1746.1" cy="1614.5" r="3.55" fill="#000"/>
<circle cx="1764.3" cy="1594.7" r="3.55" fill="#000"/>
<circle cx="1782.5" cy="1600.4" r="3.55" fill="#000"/>
<circle cx="1800.6" cy="1594.0" r="3.55" fill="#000"/>
<circle cx="1818.8" cy="1608.1" r="3.55" fill="#000"/>
<circle cx="1837.0" cy="1609.0" r="3.55" fill="#000"/>
<circle cx="1855.2" cy="1618.8" r="3.55" fill="#000"/>
<circle cx="1873.4" cy="1620.3" r="3.55" fill="#000"/>
<circle cx="1891.6" cy="1654.1" r="3.55" fill="#000"/>
<circle cx="1909.8" cy="1660.7" r="3.55" fill="#000"/>
<circle cx="1928.0" cy="1648.0" r="3.55" fill="#000"/>
<circle cx="1946.2" cy="1637.4" r="3.55" fill="#000"/>
<circle cx="1964.3" cy="1643.0" r="3.55" fill="#000"/>
<circle cx="1982.5" cy="1641.9" r="3.55" fill="#000"/>
<circle cx="2000.7" cy="1655.3" r="3.55" fill="#000"/>
<circle cx="2018.9" cy="1660.7" r="3.55" fill="#000"/>
<circle cx="2037.1" cy="1632.1" r="3.55" fill="#000"/>
<circle cx="2055.3" cy="1606.5" r="3.55" fill="#000"/>
</g>
<rect x="1692.2" y="1454.0" width="399.4" height="248.3" fill="none" stroke="#333333" stroke-width="1.5"/>
<rect x="1692.2" y="1405.5" width="399.4" height="47.8" fill="#d9d9d9" stroke="#333333" stroke-width="1.5"/>
<text transform="translate(1891.6,1430.1) scale(1,1.06)" y="10.55" font-size="30.3" text-anchor="middle" fill="#111" stroke="#111" stroke-width="0.4">29_Sardine juv</text>
<line x1="1709.7" x2="1709.7" y1="1702.3" y2="1708.6" stroke="#333333" stroke-width="1.5"/>
<text transform="translate(1709.7,1725.5) scale(1,1.08)" y="9.7" font-size="27.8" text-anchor="middle" fill="#4d4d4d">2000</text>
<line x1="1800.6" x2="1800.6" y1="1702.3" y2="1708.6" stroke="#333333" stroke-width="1.5"/>
<text transform="translate(1800.6,1725.5) scale(1,1.08)" y="9.7" font-size="27.8" text-anchor="middle" fill="#4d4d4d">2005</text>
<line x1="1891.6" x2="1891.6" y1="1702.3" y2="1708.6" stroke="#333333" stroke-width="1.5"/>
<text transform="translate(1891.6,1725.5) scale(1,1.08)" y="9.7" font-size="27.8" text-anchor="middle" fill="#4d4d4d">2010</text>
<line x1="1982.5" x2="1982.5" y1="1702.3" y2="1708.6" stroke="#333333" stroke-width="1.5"/>
<text transform="translate(1982.5,1725.5) scale(1,1.08)" y="9.7" font-size="27.8" text-anchor="middle" fill="#4d4d4d">2015</text>
<line x1="2073.5" x2="2073.5" y1="1702.3" y2="1708.6" stroke="#333333" stroke-width="1.5"/>
<text transform="translate(2073.5,1725.5) scale(1,1.08)" y="9.7" font-size="27.8" text-anchor="middle" fill="#4d4d4d">2020</text>
<line x1="1685.2" x2="1691.5" y1="1461.6" y2="1461.6" stroke="#333333" stroke-width="1.5"/>
<text transform="translate(1679.1,1462.3) scale(1,1.08)" y="9.7" font-size="27.8" text-anchor="end" fill="#4d4d4d">0.16</text>
<line x1="1685.2" x2="1691.5" y1="1527.8" y2="1527.8" stroke="#333333" stroke-width="1.5"/>
<text transform="translate(1679.1,1528.5) scale(1,1.08)" y="9.7" font-size="27.8" text-anchor="end" fill="#4d4d4d">0.12</text>
<line x1="1685.2" x2="1691.5" y1="1594.0" y2="1594.0" stroke="#333333" stroke-width="1.5"/>
<text transform="translate(1679.1,1594.7) scale(1,1.08)" y="9.7" font-size="27.8" text-anchor="end" fill="#4d4d4d">0.08</text>
<line x1="1685.2" x2="1691.5" y1="1660.3" y2="1660.3" stroke="#333333" stroke-width="1.5"/>
<text transform="translate(1679.1,1661.0) scale(1,1.08)" y="9.7" font-size="27.8" text-anchor="end" fill="#4d4d4d">0.04</text>
<rect x="176.1" y="1801.5" width="400.2" height="249.0" fill="#fff"/>
<clipPath id="c20"><rect x="176.1" y="1801.5" width="400.2" height="249.0"/></clipPath>
<g clip-path="url(#c20)">
<line x1="176.1" x2="576.3" y1="1822.5" y2="1822.5" stroke="#e6e6e6" stroke-width="1.9"/>
<line x1="176.1" x2="576.3" y1="1872.2" y2="1872.2" stroke="#e6e6e6" stroke-width="1.9"/>
<line x1="176.1" x2="576.3" y1="1922.1" y2="1922.1" stroke="#e6e6e6" stroke-width="1.9"/>
<line x1="176.1" x2="576.3" y1="1972.0" y2="1972.0" stroke="#e6e6e6" stroke-width="1.9"/>
<line x1="176.1" x2="576.3" y1="2021.6" y2="2021.6" stroke="#e6e6e6" stroke-width="1.9"/>
<path d="M194.3,1884.4 L212.5,1874.0 L230.7,1908.7 L248.9,1898.1 L267.1,1904.2 L285.2,1909.4 L303.4,1913.2 L321.6,1889.9 L339.8,1907.6 L358.0,1931.4 L376.2,1894.0 L394.4,1889.4 L412.6,1912.6 L430.8,1900.3 L449.0,1907.6 L467.1,1876.3 L485.3,1894.4 L503.5,1888.3 L521.7,1879.2 L539.9,1815.1 L558.1,1885.4 L558.1,2033.4 L539.9,2019.8 L521.7,2026.6 L503.5,2034.6 L485.3,2032.3 L467.1,2038.6 L449.0,2030.0 L430.8,2022.1 L412.6,2038.0 L394.4,2025.5 L376.2,2011.9 L358.0,2026.6 L339.8,2035.0 L321.6,2037.3 L303.4,2028.9 L285.2,2014.2 L267.1,2009.6 L248.9,2009.2 L230.7,2000.5 L212.5,1988.1 L194.3,1974.5Z" fill="#b3b3b3" fill-opacity="0.27"/>
<path d="M194.3,1929.6 L212.5,1929.6 L230.7,1954.5 L248.9,1949.5 L267.1,1956.3 L285.2,1958.6 L303.4,1963.1 L321.6,1952.5 L339.8,1960.9 L358.0,1977.4 L376.2,1954.7 L394.4,1951.1 L412.6,1964.7 L430.8,1959.7 L449.0,1962.5 L467.1,1962.5 L485.3,1957.9 L503.5,1963.8 L521.7,1949.5 L539.9,1931.4 L558.1,1964.3" fill="none" stroke="#7a8281" stroke-width="3.8" stroke-dasharray="17.6 17.6" stroke-linejoin="round"/>
<path d="M194.3,1939.8 L212.5,1947.3 L230.7,1966.5 L248.9,1978.3 L267.1,1986.9 L285.2,1996.5 L303.4,2000.5 L321.6,1996.0 L339.8,2001.0 L358.0,2013.7 L376.2,2003.9 L394.4,2000.5 L412.6,2005.1 L430.8,2006.9 L449.0,2004.6 L467.1,2018.2 L485.3,2006.2 L503.5,2015.3 L521.7,2001.0 L539.9,1990.3 L558.1,2015.3" fill="none" stroke="#00008b" stroke-width="4.2" stroke-linejoin="round"/>
<circle cx="194.3" cy="1963.8" r="3.55" fill="#000"/>
<circle cx="212.5" cy="1981.7" r="3.55" fill="#000"/>
<circle cx="230.7" cy="1962.9" r="3.55" fill="#000"/>
<circle cx="248.9" cy="1945.0" r="3.55" fill="#000"/>
<circle cx="267.1" cy="1947.3" r="3.55" fill="#000"/>
<circle cx="285.2" cy="1938.2" r="3.55" fill="#000"/>
<circle cx="303.4" cy="1947.7" r="3.55" fill="#000"/>
<circle cx="321.6" cy="1949.1" r="3.55" fill="#000"/>
<circle cx="339.8" cy="1968.3" r="3.55" fill="#000"/>
<circle cx="358.0" cy="1980.6" r="3.55" fill="#000"/>
<circle cx="376.2" cy="1996.0" r="3.55" fill="#000"/>
<circle cx="394.4" cy="2000.5" r="3.55" fill="#000"/>
<circle cx="412.6" cy="1988.3" r="3.55" fill="#000"/>
<circle cx="430.8" cy="1976.5" r="3.55" fill="#000"/>
<circle cx="449.0" cy="1976.1" r="3.55" fill="#000"/>
<circle cx="467.1" cy="1980.8" r="3.55" fill="#000"/>
<circle cx="485.3" cy="1992.4" r="3.55" fill="#000"/>
<circle cx="503.5" cy="1994.4" r="3.55" fill="#000"/>
<circle cx="521.7" cy="1962.2" r="3.55" fill="#000"/>
<circle cx="539.9" cy="1930.9" r="3.55" fill="#000"/>
</g>
<rect x="176.8" y="1802.2" width="399.4" height="248.3" fill="none" stroke="#333333" stroke-width="1.5"/>
<rect x="176.8" y="1753.7" width="399.4" height="47.8" fill="#d9d9d9" stroke="#333333" stroke-width="1.5"/>
<text transform="translate(376.2,1778.2) scale(1,1.06)" y="10.55" font-size="30.3" text-anchor="middle" fill="#111" stroke="#111" stroke-width="0.4">30_Sardine</text>
<line x1="194.3" x2="194.3" y1="2050.5" y2="2056.8" stroke="#333333" stroke-width="1.5"/>
<text transform="translate(194.3,2073.7) scale(1,1.08)" y="9.7" font-size="27.8" text-anchor="middle" fill="#4d4d4d">2000</text>
<line x1="285.2" x2="285.2" y1="2050.5" y2="2056.8" stroke="#333333" stroke-width="1.5"/>
<text transform="translate(285.2,2073.7) scale(1,1.08)" y="9.7" font-size="27.8" text-anchor="middle" fill="#4d4d4d">2005</text>
<line x1="376.2" x2="376.2" y1="2050.5" y2="2056.8" stroke="#333333" stroke-width="1.5"/>
<text transform="translate(376.2,2073.7) scale(1,1.08)" y="9.7" font-size="27.8" text-anchor="middle" fill="#4d4d4d">2010</text>
<line x1="467.1" x2="467.1" y1="2050.5" y2="2056.8" stroke="#333333" stroke-width="1.5"/>
<text transform="translate(467.1,2073.7) scale(1,1.08)" y="9.7" font-size="27.8" text-anchor="middle" fill="#4d4d4d">2015</text>
<line x1="558.1" x2="558.1" y1="2050.5" y2="2056.8" stroke="#333333" stroke-width="1.5"/>
<text transform="translate(558.1,2073.7) scale(1,1.08)" y="9.7" font-size="27.8" text-anchor="middle" fill="#4d4d4d">2020</text>
<line x1="169.8" x2="176.1" y1="1822.5" y2="1822.5" stroke="#333333" stroke-width="1.5"/>
<text transform="translate(163.7,1823.2) scale(1,1.08)" y="9.7" font-size="27.8" text-anchor="end" fill="#4d4d4d">0.05</text>
<line x1="169.8" x2="176.1" y1="1872.2" y2="1872.2" stroke="#333333" stroke-width="1.5"/>
<text transform="translate(163.7,1872.9) scale(1,1.08)" y="9.7" font-size="27.8" text-anchor="end" fill="#4d4d4d">0.04</text>
<line x1="169.8" x2="176.1" y1="1922.1" y2="1922.1" stroke="#333333" stroke-width="1.5"/>
<text transform="translate(163.7,1922.8) scale(1,1.08)" y="9.7" font-size="27.8" text-anchor="end" fill="#4d4d4d">0.03</text>
<line x1="169.8" x2="176.1" y1="1972.0" y2="1972.0" stroke="#333333" stroke-width="1.5"/>
<text transform="translate(163.7,1972.7) scale(1,1.08)" y="9.7" font-size="27.8" text-anchor="end" fill="#4d4d4d">0.02</text>
<line x1="169.8" x2="176.1" y1="2021.6" y2="2021.6" stroke="#333333" stroke-width="1.5"/>
<text transform="translate(163.7,2022.3) scale(1,1.08)" y="9.7" font-size="27.8" text-anchor="end" fill="#4d4d4d">0.01</text>
<rect x="670.8" y="1801.5" width="400.2" height="249.0" fill="#fff"/>
<clipPath id="c21"><rect x="670.8" y="1801.5" width="400.2" height="249.0"/></clipPath>
<g clip-path="url(#c21)">
<line x1="670.8" x2="1071.0" y1="1850.7" y2="1850.7" stroke="#e6e6e6" stroke-width="1.9"/>
<line x1="670.8" x2="1071.0" y1="1913.7" y2="1913.7" stroke="#e6e6e6" stroke-width="1.9"/>
<line x1="670.8" x2="1071.0" y1="1976.5" y2="1976.5" stroke="#e6e6e6" stroke-width="1.9"/>
<line x1="670.8" x2="1071.0" y1="2039.1" y2="2039.1" stroke="#e6e6e6" stroke-width="1.9"/>
<path d="M689.0,1959.3 L707.2,1951.8 L725.4,1941.1 L743.6,1948.8 L761.8,1950.2 L779.9,1930.7 L798.1,1815.1 L816.3,1878.1 L834.5,1924.6 L852.7,1920.0 L870.9,1879.2 L889.1,1869.0 L907.3,1848.6 L925.5,1905.3 L943.6,1911.7 L961.8,1840.0 L980.0,1921.2 L998.2,1873.6 L1016.4,1890.6 L1034.6,1861.1 L1052.8,1904.9 L1052.8,2038.6 L1034.6,2038.6 L1016.4,2038.6 L998.2,2038.6 L980.0,2038.6 L961.8,2038.6 L943.6,2038.6 L925.5,2038.6 L907.3,2038.6 L889.1,2038.6 L870.9,2038.6 L852.7,2038.6 L834.5,2038.6 L816.3,2038.6 L798.1,2038.6 L779.9,2038.6 L761.8,2036.8 L743.6,2031.8 L725.4,2020.5 L707.2,1996.0 L689.0,1986.9Z" fill="#b3b3b3" fill-opacity="0.27"/>
<path d="M689.0,1972.2 L707.2,1972.2 L725.4,1979.0 L743.6,1986.9 L761.8,1993.3 L779.9,1992.6 L798.1,1985.8 L816.3,1980.1 L834.5,1991.5 L852.7,1992.6 L870.9,1992.6 L889.1,1991.0 L907.3,1988.8 L925.5,1993.7 L943.6,1991.0 L961.8,1974.5 L980.0,1983.5 L998.2,1975.1 L1016.4,1975.1 L1034.6,1980.1 L1052.8,1979.0" fill="none" stroke="#7a8281" stroke-width="3.8" stroke-dasharray="17.6 17.6" stroke-linejoin="round"/>
<path d="M689.0,1974.5 L707.2,1974.5 L725.4,1981.3 L743.6,1988.1 L761.8,1991.5 L779.9,1992.6 L798.1,1996.0 L816.3,1989.2 L834.5,1986.9 L852.7,1981.3 L870.9,1978.3 L889.1,1979.0 L907.3,1982.4 L925.5,1981.3 L943.6,1982.9 L961.8,1976.1 L980.0,1976.1 L998.2,1962.7 L1016.4,1962.0 L1034.6,1963.8 L1052.8,1966.5" fill="none" stroke="#00008b" stroke-width="4.2" stroke-linejoin="round"/>
<circle cx="689.0" cy="1978.3" r="3.55" fill="#000"/>
<circle cx="707.2" cy="1984.2" r="3.55" fill="#000"/>
<circle cx="725.4" cy="1977.9" r="3.55" fill="#000"/>
<circle cx="743.6" cy="1975.6" r="3.55" fill="#000"/>
<circle cx="761.8" cy="1971.3" r="3.55" fill="#000"/>
<circle cx="779.9" cy="1977.9" r="3.55" fill="#000"/>
<circle cx="798.1" cy="1977.2" r="3.55" fill="#000"/>
<circle cx="816.3" cy="1986.9" r="3.55" fill="#000"/>
<circle cx="834.5" cy="1983.5" r="3.55" fill="#000"/>
<circle cx="852.7" cy="1986.5" r="3.55" fill="#000"/>
<circle cx="870.9" cy="2003.9" r="3.55" fill="#000"/>
<circle cx="889.1" cy="1996.0" r="3.55" fill="#000"/>
<circle cx="907.3" cy="1974.0" r="3.55" fill="#000"/>
<circle cx="925.5" cy="1984.2" r="3.55" fill="#000"/>
<circle cx="943.6" cy="1994.4" r="3.55" fill="#000"/>
<circle cx="961.8" cy="1993.7" r="3.55" fill="#000"/>
<circle cx="980.0" cy="1998.5" r="3.55" fill="#000"/>
<circle cx="998.2" cy="1999.9" r="3.55" fill="#000"/>
<circle cx="1016.4" cy="1999.9" r="3.55" fill="#000"/>
<circle cx="1034.6" cy="1998.5" r="3.55" fill="#000"/>
</g>
<rect x="671.5" y="1802.2" width="399.4" height="248.3" fill="none" stroke="#333333" stroke-width="1.5"/>
<rect x="671.5" y="1753.7" width="399.4" height="47.8" fill="#d9d9d9" stroke="#333333" stroke-width="1.5"/>
<text transform="translate(870.9,1778.2) scale(1,1.06)" y="10.55" font-size="30.3" text-anchor="middle" fill="#111" stroke="#111" stroke-width="0.4">32_Squids</text>
<line x1="689.0" x2="689.0" y1="2050.5" y2="2056.8" stroke="#333333" stroke-width="1.5"/>
<text transform="translate(689.0,2073.7) scale(1,1.08)" y="9.7" font-size="27.8" text-anchor="middle" fill="#4d4d4d">2000</text>
<line x1="779.9" x2="779.9" y1="2050.5" y2="2056.8" stroke="#333333" stroke-width="1.5"/>
<text transform="translate(779.9,2073.7) scale(1,1.08)" y="9.7" font-size="27.8" text-anchor="middle" fill="#4d4d4d">2005</text>
<line x1="870.9" x2="870.9" y1="2050.5" y2="2056.8" stroke="#333333" stroke-width="1.5"/>
<text transform="translate(870.9,2073.7) scale(1,1.08)" y="9.7" font-size="27.8" text-anchor="middle" fill="#4d4d4d">2010</text>
<line x1="961.8" x2="961.8" y1="2050.5" y2="2056.8" stroke="#333333" stroke-width="1.5"/>
<text transform="translate(961.8,2073.7) scale(1,1.08)" y="9.7" font-size="27.8" text-anchor="middle" fill="#4d4d4d">2015</text>
<line x1="1052.8" x2="1052.8" y1="2050.5" y2="2056.8" stroke="#333333" stroke-width="1.5"/>
<text transform="translate(1052.8,2073.7) scale(1,1.08)" y="9.7" font-size="27.8" text-anchor="middle" fill="#4d4d4d">2020</text>
<line x1="664.5" x2="670.8" y1="1850.7" y2="1850.7" stroke="#333333" stroke-width="1.5"/>
<text transform="translate(658.4,1851.4) scale(1,1.08)" y="9.7" font-size="27.8" text-anchor="end" fill="#4d4d4d">0.09</text>
<line x1="664.5" x2="670.8" y1="1913.7" y2="1913.7" stroke="#333333" stroke-width="1.5"/>
<text transform="translate(658.4,1914.4) scale(1,1.08)" y="9.7" font-size="27.8" text-anchor="end" fill="#4d4d4d">0.06</text>
<line x1="664.5" x2="670.8" y1="1976.5" y2="1976.5" stroke="#333333" stroke-width="1.5"/>
<text transform="translate(658.4,1977.2) scale(1,1.08)" y="9.7" font-size="27.8" text-anchor="end" fill="#4d4d4d">0.03</text>
<line x1="664.5" x2="670.8" y1="2039.1" y2="2039.1" stroke="#333333" stroke-width="1.5"/>
<text transform="translate(658.4,2039.8) scale(1,1.08)" y="9.7" font-size="27.8" text-anchor="end" fill="#4d4d4d">0.00</text>
<rect x="1181.0" y="1801.5" width="400.2" height="249.0" fill="#fff"/>
<clipPath id="c22"><rect x="1181.0" y="1801.5" width="400.2" height="249.0"/></clipPath>
<g clip-path="url(#c22)">
<line x1="1181.0" x2="1581.2" y1="1801.5" y2="1801.5" stroke="#e6e6e6" stroke-width="1.9"/>
<line x1="1181.0" x2="1581.2" y1="1849.1" y2="1849.1" stroke="#e6e6e6" stroke-width="1.9"/>
<line x1="1181.0" x2="1581.2" y1="1896.9" y2="1896.9" stroke="#e6e6e6" stroke-width="1.9"/>
<line x1="1181.0" x2="1581.2" y1="1944.3" y2="1944.3" stroke="#e6e6e6" stroke-width="1.9"/>
<line x1="1181.0" x2="1581.2" y1="1992.2" y2="1992.2" stroke="#e6e6e6" stroke-width="1.9"/>
<line x1="1181.0" x2="1581.2" y1="2039.5" y2="2039.5" stroke="#e6e6e6" stroke-width="1.9"/>
<path d="M1199.2,2024.4 L1217.4,2025.0 L1235.6,2025.5 L1253.8,2022.1 L1272.0,2014.2 L1290.1,2005.1 L1308.3,1995.6 L1326.5,1992.6 L1344.7,1966.5 L1362.9,1929.1 L1381.1,1814.6 L1399.3,1924.6 L1417.5,1928.0 L1435.7,1923.4 L1453.8,1918.9 L1472.0,1905.8 L1490.2,1900.8 L1508.4,1881.5 L1526.6,1889.9 L1544.8,1931.4 L1563.0,1983.5 L1563.0,2038.6 L1544.8,2038.6 L1526.6,2038.6 L1508.4,2038.6 L1490.2,2038.6 L1472.0,2038.6 L1453.8,2038.6 L1435.7,2038.6 L1417.5,2038.6 L1399.3,2038.6 L1381.1,2038.6 L1362.9,2038.6 L1344.7,2038.6 L1326.5,2038.6 L1308.3,2038.0 L1290.1,2037.3 L1272.0,2036.8 L1253.8,2035.7 L1235.6,2032.3 L1217.4,2028.9 L1199.2,2027.8Z" fill="#b3b3b3" fill-opacity="0.27"/>
<path d="M1199.2,2025.9 L1217.4,2026.2 L1235.6,2027.3 L1253.8,2027.8 L1272.0,2027.8 L1290.1,2025.9 L1308.3,2023.7 L1326.5,2021.4 L1344.7,2010.1 L1362.9,1984.0 L1381.1,1953.6 L1399.3,1967.2 L1417.5,1989.2 L1435.7,2002.1 L1453.8,2010.1 L1472.0,1999.4 L1490.2,1999.4 L1508.4,1997.8 L1526.6,2004.2 L1544.8,2012.3 L1563.0,2013.0" fill="none" stroke="#7a8281" stroke-width="3.8" stroke-dasharray="17.6 17.6" stroke-linejoin="round"/>
<path d="M1199.2,2025.9 L1217.4,2026.6 L1235.6,2028.9 L1253.8,2030.7 L1272.0,2031.2 L1290.1,2031.2 L1308.3,2031.2 L1326.5,2031.2 L1344.7,2031.2 L1362.9,2031.2 L1381.1,2031.2 L1399.3,2031.2 L1417.5,2031.8 L1435.7,2032.3 L1453.8,2032.3 L1472.0,2028.9 L1490.2,2030.7 L1508.4,2030.7 L1526.6,2030.7 L1544.8,2030.7 L1563.0,2030.7" fill="none" stroke="#00008b" stroke-width="4.2" stroke-linejoin="round"/>
<circle cx="1199.2" cy="2026.2" r="3.55" fill="#000"/>
<circle cx="1217.4" cy="2025.7" r="3.55" fill="#000"/>
<circle cx="1235.6" cy="2024.4" r="3.55" fill="#000"/>
<circle cx="1253.8" cy="2025.7" r="3.55" fill="#000"/>
<circle cx="1272.0" cy="2023.4" r="3.55" fill="#000"/>
<circle cx="1290.1" cy="2022.8" r="3.55" fill="#000"/>
<circle cx="1308.3" cy="2025.0" r="3.55" fill="#000"/>
<circle cx="1326.5" cy="2029.3" r="3.55" fill="#000"/>
<circle cx="1344.7" cy="2028.9" r="3.55" fill="#000"/>
<circle cx="1362.9" cy="2030.0" r="3.55" fill="#000"/>
<circle cx="1381.1" cy="2032.7" r="3.55" fill="#000"/>
<circle cx="1399.3" cy="2031.6" r="3.55" fill="#000"/>
<circle cx="1417.5" cy="2030.0" r="3.55" fill="#000"/>
<circle cx="1435.7" cy="2027.1" r="3.55" fill="#000"/>
<circle cx="1453.8" cy="2029.6" r="3.55" fill="#000"/>
<circle cx="1472.0" cy="2028.9" r="3.55" fill="#000"/>
<circle cx="1490.2" cy="2012.3" r="3.55" fill="#000"/>
<circle cx="1508.4" cy="2013.5" r="3.55" fill="#000"/>
<circle cx="1526.6" cy="2016.0" r="3.55" fill="#000"/>
<circle cx="1544.8" cy="2013.0" r="3.55" fill="#000"/>
</g>
<rect x="1181.7" y="1802.2" width="399.4" height="248.3" fill="none" stroke="#333333" stroke-width="1.5"/>
<rect x="1181.7" y="1753.7" width="399.4" height="47.8" fill="#d9d9d9" stroke="#333333" stroke-width="1.5"/>
<text transform="translate(1381.1,1778.2) scale(1,1.06)" y="10.55" font-size="30.3" text-anchor="middle" fill="#111" stroke="#111" stroke-width="0.4">34_Common cuttlefish</text>
<line x1="1199.2" x2="1199.2" y1="2050.5" y2="2056.8" stroke="#333333" stroke-width="1.5"/>
<text transform="translate(1199.2,2073.7) scale(1,1.08)" y="9.7" font-size="27.8" text-anchor="middle" fill="#4d4d4d">2000</text>
<line x1="1290.1" x2="1290.1" y1="2050.5" y2="2056.8" stroke="#333333" stroke-width="1.5"/>
<text transform="translate(1290.1,2073.7) scale(1,1.08)" y="9.7" font-size="27.8" text-anchor="middle" fill="#4d4d4d">2005</text>
<line x1="1381.1" x2="1381.1" y1="2050.5" y2="2056.8" stroke="#333333" stroke-width="1.5"/>
<text transform="translate(1381.1,2073.7) scale(1,1.08)" y="9.7" font-size="27.8" text-anchor="middle" fill="#4d4d4d">2010</text>
<line x1="1472.0" x2="1472.0" y1="2050.5" y2="2056.8" stroke="#333333" stroke-width="1.5"/>
<text transform="translate(1472.0,2073.7) scale(1,1.08)" y="9.7" font-size="27.8" text-anchor="middle" fill="#4d4d4d">2015</text>
<line x1="1563.0" x2="1563.0" y1="2050.5" y2="2056.8" stroke="#333333" stroke-width="1.5"/>
<text transform="translate(1563.0,2073.7) scale(1,1.08)" y="9.7" font-size="27.8" text-anchor="middle" fill="#4d4d4d">2020</text>
<line x1="1174.7" x2="1181.0" y1="1801.5" y2="1801.5" stroke="#333333" stroke-width="1.5"/>
<text transform="translate(1168.6,1802.2) scale(1,1.08)" y="9.7" font-size="27.8" text-anchor="end" fill="#4d4d4d">0.25</text>
<line x1="1174.7" x2="1181.0" y1="1849.1" y2="1849.1" stroke="#333333" stroke-width="1.5"/>
<text transform="translate(1168.6,1849.8) scale(1,1.08)" y="9.7" font-size="27.8" text-anchor="end" fill="#4d4d4d">0.20</text>
<line x1="1174.7" x2="1181.0" y1="1896.9" y2="1896.9" stroke="#333333" stroke-width="1.5"/>
<text transform="translate(1168.6,1897.6) scale(1,1.08)" y="9.7" font-size="27.8" text-anchor="end" fill="#4d4d4d">0.15</text>
<line x1="1174.7" x2="1181.0" y1="1944.3" y2="1944.3" stroke="#333333" stroke-width="1.5"/>
<text transform="translate(1168.6,1945.0) scale(1,1.08)" y="9.7" font-size="27.8" text-anchor="end" fill="#4d4d4d">0.10</text>
<line x1="1174.7" x2="1181.0" y1="1992.2" y2="1992.2" stroke="#333333" stroke-width="1.5"/>
<text transform="translate(1168.6,1992.9) scale(1,1.08)" y="9.7" font-size="27.8" text-anchor="end" fill="#4d4d4d">0.05</text>
<line x1="1174.7" x2="1181.0" y1="2039.5" y2="2039.5" stroke="#333333" stroke-width="1.5"/>
<text transform="translate(1168.6,2040.2) scale(1,1.08)" y="9.7" font-size="27.8" text-anchor="end" fill="#4d4d4d">0.00</text>
<rect x="1691.5" y="1801.5" width="400.2" height="249.0" fill="#fff"/>
<clipPath id="c23"><rect x="1691.5" y="1801.5" width="400.2" height="249.0"/></clipPath>
<g clip-path="url(#c23)">
<line x1="1691.5" x2="2091.7" y1="1825.3" y2="1825.3" stroke="#e6e6e6" stroke-width="1.9"/>
<line x1="1691.5" x2="2091.7" y1="1896.9" y2="1896.9" stroke="#e6e6e6" stroke-width="1.9"/>
<line x1="1691.5" x2="2091.7" y1="1968.3" y2="1968.3" stroke="#e6e6e6" stroke-width="1.9"/>
<line x1="1691.5" x2="2091.7" y1="2039.8" y2="2039.8" stroke="#e6e6e6" stroke-width="1.9"/>
<path d="M1709.7,2018.7 L1727.9,2015.3 L1746.1,2010.8 L1764.3,2005.5 L1782.5,2006.9 L1800.6,2006.9 L1818.8,2000.5 L1837.0,1993.7 L1855.2,1967.7 L1873.4,1968.3 L1891.6,1966.1 L1909.8,1963.1 L1928.0,1980.1 L1946.2,1994.9 L1964.3,1996.5 L1982.5,1814.6 L2000.7,1925.3 L2018.9,1924.6 L2037.1,1915.5 L2055.3,1963.1 L2073.5,1948.4 L2073.5,2038.6 L2055.3,2038.6 L2037.1,2038.6 L2018.9,2038.6 L2000.7,2038.6 L1982.5,2038.6 L1964.3,2038.6 L1946.2,2038.6 L1928.0,2038.6 L1909.8,2036.8 L1891.6,2034.6 L1873.4,2032.3 L1855.2,2030.0 L1837.0,2031.2 L1818.8,2032.3 L1800.6,2031.2 L1782.5,2028.9 L1764.3,2027.8 L1746.1,2026.6 L1727.9,2025.5 L1709.7,2024.4Z" fill="#b3b3b3" fill-opacity="0.27"/>
<path d="M1709.7,2018.7 L1727.9,2018.2 L1746.1,2018.2 L1764.3,2017.6 L1782.5,2018.2 L1800.6,2018.2 L1818.8,2016.0 L1837.0,2014.2 L1855.2,2013.0 L1873.4,2012.6 L1891.6,2012.6 L1909.8,2014.6 L1928.0,2016.4 L1946.2,2017.6 L1964.3,2018.7 L1982.5,1963.8 L2000.7,1989.7 L2018.9,1989.7 L2037.1,1991.0 L2055.3,2006.9 L2073.5,2000.5" fill="none" stroke="#7a8281" stroke-width="3.8" stroke-dasharray="17.6 17.6" stroke-linejoin="round"/>
<path d="M1709.7,2019.1 L1727.9,2019.1 L1746.1,2019.8 L1764.3,2020.5 L1782.5,2020.5 L1800.6,2020.5 L1818.8,2019.8 L1837.0,2019.8 L1855.2,2019.8 L1873.4,2019.8 L1891.6,2019.8 L1909.8,2020.5 L1928.0,2021.0 L1946.2,2021.4 L1964.3,2022.1 L1982.5,1976.7 L2000.7,2005.1 L2018.9,2007.3 L2037.1,2007.8 L2055.3,2021.0 L2073.5,2016.4" fill="none" stroke="#00008b" stroke-width="4.2" stroke-linejoin="round"/>
<circle cx="1709.7" cy="2024.4" r="3.55" fill="#000"/>
<circle cx="1727.9" cy="2025.3" r="3.55" fill="#000"/>
<circle cx="1746.1" cy="2024.6" r="3.55" fill="#000"/>
<circle cx="1764.3" cy="2024.1" r="3.55" fill="#000"/>
<circle cx="1782.5" cy="2023.2" r="3.55" fill="#000"/>
<circle cx="1800.6" cy="2022.5" r="3.55" fill="#000"/>
<circle cx="1818.8" cy="2024.1" r="3.55" fill="#000"/>
<circle cx="1837.0" cy="2025.7" r="3.55" fill="#000"/>
<circle cx="1855.2" cy="2024.4" r="3.55" fill="#000"/>
<circle cx="1873.4" cy="2024.6" r="3.55" fill="#000"/>
<circle cx="1891.6" cy="2026.6" r="3.55" fill="#000"/>
<circle cx="1909.8" cy="2025.3" r="3.55" fill="#000"/>
<circle cx="1928.0" cy="2026.6" r="3.55" fill="#000"/>
<circle cx="1946.2" cy="2025.9" r="3.55" fill="#000"/>
<circle cx="1964.3" cy="2026.2" r="3.55" fill="#000"/>
<circle cx="1982.5" cy="2026.9" r="3.55" fill="#000"/>
<circle cx="2000.7" cy="2022.5" r="3.55" fill="#000"/>
<circle cx="2018.9" cy="2020.0" r="3.55" fill="#000"/>
<circle cx="2037.1" cy="2017.6" r="3.55" fill="#000"/>
<circle cx="2055.3" cy="2018.2" r="3.55" fill="#000"/>
</g>
<rect x="1692.2" y="1802.2" width="399.4" height="248.3" fill="none" stroke="#333333" stroke-width="1.5"/>
<rect x="1692.2" y="1753.7" width="399.4" height="47.8" fill="#d9d9d9" stroke="#333333" stroke-width="1.5"/>
<text transform="translate(1891.6,1778.2) scale(1,1.06)" y="10.55" font-size="30.3" text-anchor="middle" fill="#111" stroke="#111" stroke-width="0.4">35_Common octopus</text>
<line x1="1709.7" x2="1709.7" y1="2050.5" y2="2056.8" stroke="#333333" stroke-width="1.5"/>
<text transform="translate(1709.7,2073.7) scale(1,1.08)" y="9.7" font-size="27.8" text-anchor="middle" fill="#4d4d4d">2000</text>
<line x1="1800.6" x2="1800.6" y1="2050.5" y2="2056.8" stroke="#333333" stroke-width="1.5"/>
<text transform="translate(1800.6,2073.7) scale(1,1.08)" y="9.7" font-size="27.8" text-anchor="middle" fill="#4d4d4d">2005</text>
<line x1="1891.6" x2="1891.6" y1="2050.5" y2="2056.8" stroke="#333333" stroke-width="1.5"/>
<text transform="translate(1891.6,2073.7) scale(1,1.08)" y="9.7" font-size="27.8" text-anchor="middle" fill="#4d4d4d">2010</text>
<line x1="1982.5" x2="1982.5" y1="2050.5" y2="2056.8" stroke="#333333" stroke-width="1.5"/>
<text transform="translate(1982.5,2073.7) scale(1,1.08)" y="9.7" font-size="27.8" text-anchor="middle" fill="#4d4d4d">2015</text>
<line x1="2073.5" x2="2073.5" y1="2050.5" y2="2056.8" stroke="#333333" stroke-width="1.5"/>
<text transform="translate(2073.5,2073.7) scale(1,1.08)" y="9.7" font-size="27.8" text-anchor="middle" fill="#4d4d4d">2020</text>
<line x1="1685.2" x2="1691.5" y1="1825.3" y2="1825.3" stroke="#333333" stroke-width="1.5"/>
<text transform="translate(1679.1,1826.0) scale(1,1.08)" y="9.7" font-size="27.8" text-anchor="end" fill="#4d4d4d">0.3</text>
<line x1="1685.2" x2="1691.5" y1="1896.9" y2="1896.9" stroke="#333333" stroke-width="1.5"/>
<text transform="translate(1679.1,1897.6) scale(1,1.08)" y="9.7" font-size="27.8" text-anchor="end" fill="#4d4d4d">0.2</text>
<line x1="1685.2" x2="1691.5" y1="1968.3" y2="1968.3" stroke="#333333" stroke-width="1.5"/>
<text transform="translate(1679.1,1969.0) scale(1,1.08)" y="9.7" font-size="27.8" text-anchor="end" fill="#4d4d4d">0.1</text>
<line x1="1685.2" x2="1691.5" y1="2039.8" y2="2039.8" stroke="#333333" stroke-width="1.5"/>
<text transform="translate(1679.1,2040.5) scale(1,1.08)" y="9.7" font-size="27.8" text-anchor="end" fill="#4d4d4d">0.0</text>
<rect x="176.1" y="2149.6" width="400.2" height="249.0" fill="#fff"/>
<clipPath id="c24"><rect x="176.1" y="2149.6" width="400.2" height="249.0"/></clipPath>
<g clip-path="url(#c24)">
<line x1="176.1" x2="576.3" y1="2186.1" y2="2186.1" stroke="#e6e6e6" stroke-width="1.9"/>
<line x1="176.1" x2="576.3" y1="2236.2" y2="2236.2" stroke="#e6e6e6" stroke-width="1.9"/>
<line x1="176.1" x2="576.3" y1="2286.3" y2="2286.3" stroke="#e6e6e6" stroke-width="1.9"/>
<line x1="176.1" x2="576.3" y1="2336.6" y2="2336.6" stroke="#e6e6e6" stroke-width="1.9"/>
<line x1="176.1" x2="576.3" y1="2387.0" y2="2387.0" stroke="#e6e6e6" stroke-width="1.9"/>
<path d="M194.3,2295.6 L212.5,2296.3 L230.7,2265.6 L248.9,2250.9 L267.1,2261.1 L285.2,2272.4 L303.4,2284.9 L321.6,2240.7 L339.8,2263.4 L358.0,2162.5 L376.2,2177.2 L394.4,2206.7 L412.6,2238.0 L430.8,2228.9 L449.0,2246.4 L467.1,2205.6 L485.3,2254.3 L503.5,2220.7 L521.7,2201.0 L539.9,2243.0 L558.1,2249.8 L558.1,2387.0 L539.9,2387.0 L521.7,2387.0 L503.5,2387.0 L485.3,2387.0 L467.1,2387.0 L449.0,2387.0 L430.8,2387.0 L412.6,2387.0 L394.4,2387.0 L376.2,2387.0 L358.0,2387.0 L339.8,2385.8 L321.6,2384.7 L303.4,2382.4 L285.2,2376.8 L267.1,2375.6 L248.9,2363.2 L230.7,2349.5 L212.5,2337.1 L194.3,2317.8Z" fill="#b3b3b3" fill-opacity="0.27"/>
<path d="M194.3,2306.5 L212.5,2318.9 L230.7,2312.8 L248.9,2320.5 L267.1,2318.3 L285.2,2318.9 L303.4,2337.1 L321.6,2330.3 L339.8,2326.9 L358.0,2309.9 L376.2,2274.3 L394.4,2243.0 L412.6,2307.6 L430.8,2324.6 L449.0,2334.8 L467.1,2329.1 L485.3,2326.9 L503.5,2241.8 L521.7,2306.5 L539.9,2325.7 L558.1,2335.9" fill="none" stroke="#7a8281" stroke-width="3.8" stroke-dasharray="17.6 17.6" stroke-linejoin="round"/>
<path d="M194.3,2306.0 L212.5,2330.3 L230.7,2330.3 L248.9,2339.3 L267.1,2343.9 L285.2,2342.7 L303.4,2355.9 L321.6,2354.1 L339.8,2349.5 L358.0,2335.9 L376.2,2335.9 L394.4,2347.7 L412.6,2356.8 L430.8,2363.6 L449.0,2371.1 L467.1,2372.2 L485.3,2375.6 L503.5,2370.4 L521.7,2368.8 L539.9,2371.1 L558.1,2377.9" fill="none" stroke="#00008b" stroke-width="4.2" stroke-linejoin="round"/>
<circle cx="194.3" cy="2283.6" r="3.55" fill="#000"/>
<circle cx="212.5" cy="2275.2" r="3.55" fill="#000"/>
<circle cx="230.7" cy="2272.0" r="3.55" fill="#000"/>
<circle cx="248.9" cy="2281.3" r="3.55" fill="#000"/>
<circle cx="267.1" cy="2280.4" r="3.55" fill="#000"/>
<circle cx="285.2" cy="2312.6" r="3.55" fill="#000"/>
<circle cx="303.4" cy="2314.6" r="3.55" fill="#000"/>
<circle cx="321.6" cy="2340.0" r="3.55" fill="#000"/>
<circle cx="339.8" cy="2332.1" r="3.55" fill="#000"/>
<circle cx="358.0" cy="2347.7" r="3.55" fill="#000"/>
<circle cx="376.2" cy="2357.0" r="3.55" fill="#000"/>
<circle cx="394.4" cy="2365.4" r="3.55" fill="#000"/>
<circle cx="412.6" cy="2361.1" r="3.55" fill="#000"/>
<circle cx="430.8" cy="2354.3" r="3.55" fill="#000"/>
<circle cx="449.0" cy="2368.6" r="3.55" fill="#000"/>
<circle cx="467.1" cy="2370.4" r="3.55" fill="#000"/>
<circle cx="485.3" cy="2374.9" r="3.55" fill="#000"/>
<circle cx="503.5" cy="2374.9" r="3.55" fill="#000"/>
<circle cx="521.7" cy="2379.5" r="3.55" fill="#000"/>
<circle cx="539.9" cy="2381.3" r="3.55" fill="#000"/>
</g>
<rect x="176.8" y="2150.3" width="399.4" height="248.3" fill="none" stroke="#333333" stroke-width="1.5"/>
<rect x="176.8" y="2101.8" width="399.4" height="47.8" fill="#d9d9d9" stroke="#333333" stroke-width="1.5"/>
<text transform="translate(376.2,2126.4) scale(1,1.06)" y="10.55" font-size="30.3" text-anchor="middle" fill="#111" stroke="#111" stroke-width="0.4">36_Musky horned octopus</text>
<line x1="194.3" x2="194.3" y1="2398.6" y2="2404.9" stroke="#333333" stroke-width="1.5"/>
<text transform="translate(194.3,2421.8) scale(1,1.08)" y="9.7" font-size="27.8" text-anchor="middle" fill="#4d4d4d">2000</text>
<line x1="285.2" x2="285.2" y1="2398.6" y2="2404.9" stroke="#333333" stroke-width="1.5"/>
<text transform="translate(285.2,2421.8) scale(1,1.08)" y="9.7" font-size="27.8" text-anchor="middle" fill="#4d4d4d">2005</text>
<line x1="376.2" x2="376.2" y1="2398.6" y2="2404.9" stroke="#333333" stroke-width="1.5"/>
<text transform="translate(376.2,2421.8) scale(1,1.08)" y="9.7" font-size="27.8" text-anchor="middle" fill="#4d4d4d">2010</text>
<line x1="467.1" x2="467.1" y1="2398.6" y2="2404.9" stroke="#333333" stroke-width="1.5"/>
<text transform="translate(467.1,2421.8) scale(1,1.08)" y="9.7" font-size="27.8" text-anchor="middle" fill="#4d4d4d">2015</text>
<line x1="558.1" x2="558.1" y1="2398.6" y2="2404.9" stroke="#333333" stroke-width="1.5"/>
<text transform="translate(558.1,2421.8) scale(1,1.08)" y="9.7" font-size="27.8" text-anchor="middle" fill="#4d4d4d">2020</text>
<line x1="169.8" x2="176.1" y1="2186.1" y2="2186.1" stroke="#333333" stroke-width="1.5"/>
<text transform="translate(163.7,2186.8) scale(1,1.08)" y="9.7" font-size="27.8" text-anchor="end" fill="#4d4d4d">0.020</text>
<line x1="169.8" x2="176.1" y1="2236.2" y2="2236.2" stroke="#333333" stroke-width="1.5"/>
<text transform="translate(163.7,2236.9) scale(1,1.08)" y="9.7" font-size="27.8" text-anchor="end" fill="#4d4d4d">0.015</text>
<line x1="169.8" x2="176.1" y1="2286.3" y2="2286.3" stroke="#333333" stroke-width="1.5"/>
<text transform="translate(163.7,2287.0) scale(1,1.08)" y="9.7" font-size="27.8" text-anchor="end" fill="#4d4d4d">0.010</text>
<line x1="169.8" x2="176.1" y1="2336.6" y2="2336.6" stroke="#333333" stroke-width="1.5"/>
<text transform="translate(163.7,2337.3) scale(1,1.08)" y="9.7" font-size="27.8" text-anchor="end" fill="#4d4d4d">0.005</text>
<line x1="169.8" x2="176.1" y1="2387.0" y2="2387.0" stroke="#333333" stroke-width="1.5"/>
<text transform="translate(163.7,2387.7) scale(1,1.08)" y="9.7" font-size="27.8" text-anchor="end" fill="#4d4d4d">0.000</text>
<rect x="670.8" y="2149.6" width="400.2" height="249.0" fill="#fff"/>
<clipPath id="c25"><rect x="670.8" y="2149.6" width="400.2" height="249.0"/></clipPath>
<g clip-path="url(#c25)">
<line x1="670.8" x2="1071.0" y1="2153.4" y2="2153.4" stroke="#e6e6e6" stroke-width="1.9"/>
<line x1="670.8" x2="1071.0" y1="2200.6" y2="2200.6" stroke="#e6e6e6" stroke-width="1.9"/>
<line x1="670.8" x2="1071.0" y1="2247.5" y2="2247.5" stroke="#e6e6e6" stroke-width="1.9"/>
<line x1="670.8" x2="1071.0" y1="2294.2" y2="2294.2" stroke="#e6e6e6" stroke-width="1.9"/>
<line x1="670.8" x2="1071.0" y1="2340.9" y2="2340.9" stroke="#e6e6e6" stroke-width="1.9"/>
<line x1="670.8" x2="1071.0" y1="2387.4" y2="2387.4" stroke="#e6e6e6" stroke-width="1.9"/>
<path d="M689.0,2306.0 L707.2,2309.9 L725.4,2309.9 L743.6,2298.5 L761.8,2292.4 L779.9,2297.4 L798.1,2316.0 L816.3,2306.0 L834.5,2309.9 L852.7,2311.0 L870.9,2304.6 L889.1,2308.3 L907.3,2306.5 L925.5,2300.8 L943.6,2292.4 L961.8,2249.3 L980.0,2254.3 L998.2,2276.5 L1016.4,2270.6 L1034.6,2274.3 L1052.8,2252.5 L1052.8,2387.2 L1034.6,2387.2 L1016.4,2387.2 L998.2,2387.2 L980.0,2387.2 L961.8,2387.2 L943.6,2387.2 L925.5,2387.2 L907.3,2387.0 L889.1,2385.8 L870.9,2384.7 L852.7,2382.4 L834.5,2380.8 L816.3,2377.9 L798.1,2372.2 L779.9,2370.0 L761.8,2368.8 L743.6,2365.9 L725.4,2358.6 L707.2,2349.5 L689.0,2346.1Z" fill="#b3b3b3" fill-opacity="0.27"/>
<path d="M689.0,2328.0 L707.2,2331.0 L725.4,2335.5 L743.6,2340.0 L761.8,2340.5 L779.9,2342.7 L798.1,2347.3 L816.3,2345.0 L834.5,2348.4 L852.7,2348.4 L870.9,2349.1 L889.1,2350.7 L907.3,2353.6 L925.5,2352.3 L943.6,2351.4 L961.8,2342.7 L980.0,2337.8 L998.2,2322.8 L1016.4,2306.5 L1034.6,2296.9 L1052.8,2296.3" fill="none" stroke="#7a8281" stroke-width="3.8" stroke-dasharray="17.6 17.6" stroke-linejoin="round"/>
<path d="M689.0,2325.3 L707.2,2325.3 L725.4,2330.3 L743.6,2333.2 L761.8,2331.4 L779.9,2332.5 L798.1,2331.4 L816.3,2320.1 L834.5,2320.1 L852.7,2317.3 L870.9,2311.5 L889.1,2310.5 L907.3,2312.1 L925.5,2308.3 L943.6,2312.1 L961.8,2298.5 L980.0,2298.5 L998.2,2289.5 L1016.4,2289.5 L1034.6,2288.3 L1052.8,2282.0" fill="none" stroke="#00008b" stroke-width="4.2" stroke-linejoin="round"/>
<circle cx="689.0" cy="2324.1" r="3.55" fill="#000"/>
<circle cx="707.2" cy="2325.1" r="3.55" fill="#000"/>
<circle cx="725.4" cy="2279.7" r="3.55" fill="#000"/>
<circle cx="743.6" cy="2310.5" r="3.55" fill="#000"/>
<circle cx="761.8" cy="2340.5" r="3.55" fill="#000"/>
<circle cx="779.9" cy="2347.7" r="3.55" fill="#000"/>
<circle cx="798.1" cy="2347.7" r="3.55" fill="#000"/>
<circle cx="816.3" cy="2341.6" r="3.55" fill="#000"/>
<circle cx="834.5" cy="2344.3" r="3.55" fill="#000"/>
<circle cx="852.7" cy="2321.2" r="3.55" fill="#000"/>
<circle cx="870.9" cy="2316.0" r="3.55" fill="#000"/>
<circle cx="889.1" cy="2216.2" r="3.55" fill="#000"/>
<circle cx="907.3" cy="2179.0" r="3.55" fill="#000"/>
<circle cx="925.5" cy="2203.5" r="3.55" fill="#000"/>
<circle cx="943.6" cy="2163.6" r="3.55" fill="#000"/>
<circle cx="961.8" cy="2161.3" r="3.55" fill="#000"/>
<circle cx="980.0" cy="2214.6" r="3.55" fill="#000"/>
<circle cx="998.2" cy="2239.8" r="3.55" fill="#000"/>
<circle cx="1016.4" cy="2240.9" r="3.55" fill="#000"/>
<circle cx="1034.6" cy="2222.6" r="3.55" fill="#000"/>
<circle cx="1052.8" cy="2265.2" r="3.55" fill="#000"/>
</g>
<rect x="671.5" y="2150.3" width="399.4" height="248.3" fill="none" stroke="#333333" stroke-width="1.5"/>
<rect x="671.5" y="2101.8" width="399.4" height="47.8" fill="#d9d9d9" stroke="#333333" stroke-width="1.5"/>
<text transform="translate(870.9,2126.4) scale(1,1.06)" y="10.55" font-size="30.3" text-anchor="middle" fill="#111" stroke="#111" stroke-width="0.4">39_DWR shrimp</text>
<line x1="689.0" x2="689.0" y1="2398.6" y2="2404.9" stroke="#333333" stroke-width="1.5"/>
<text transform="translate(689.0,2421.8) scale(1,1.08)" y="9.7" font-size="27.8" text-anchor="middle" fill="#4d4d4d">2000</text>
<line x1="779.9" x2="779.9" y1="2398.6" y2="2404.9" stroke="#333333" stroke-width="1.5"/>
<text transform="translate(779.9,2421.8) scale(1,1.08)" y="9.7" font-size="27.8" text-anchor="middle" fill="#4d4d4d">2005</text>
<line x1="870.9" x2="870.9" y1="2398.6" y2="2404.9" stroke="#333333" stroke-width="1.5"/>
<text transform="translate(870.9,2421.8) scale(1,1.08)" y="9.7" font-size="27.8" text-anchor="middle" fill="#4d4d4d">2010</text>
<line x1="961.8" x2="961.8" y1="2398.6" y2="2404.9" stroke="#333333" stroke-width="1.5"/>
<text transform="translate(961.8,2421.8) scale(1,1.08)" y="9.7" font-size="27.8" text-anchor="middle" fill="#4d4d4d">2015</text>
<line x1="1052.8" x2="1052.8" y1="2398.6" y2="2404.9" stroke="#333333" stroke-width="1.5"/>
<text transform="translate(1052.8,2421.8) scale(1,1.08)" y="9.7" font-size="27.8" text-anchor="middle" fill="#4d4d4d">2020</text>
<line x1="664.5" x2="670.8" y1="2153.4" y2="2153.4" stroke="#333333" stroke-width="1.5"/>
<text transform="translate(658.4,2154.1) scale(1,1.08)" y="9.7" font-size="27.8" text-anchor="end" fill="#4d4d4d">0.025</text>
<line x1="664.5" x2="670.8" y1="2200.6" y2="2200.6" stroke="#333333" stroke-width="1.5"/>
<text transform="translate(658.4,2201.3) scale(1,1.08)" y="9.7" font-size="27.8" text-anchor="end" fill="#4d4d4d">0.020</text>
<line x1="664.5" x2="670.8" y1="2247.5" y2="2247.5" stroke="#333333" stroke-width="1.5"/>
<text transform="translate(658.4,2248.2) scale(1,1.08)" y="9.7" font-size="27.8" text-anchor="end" fill="#4d4d4d">0.015</text>
<line x1="664.5" x2="670.8" y1="2294.2" y2="2294.2" stroke="#333333" stroke-width="1.5"/>
<text transform="translate(658.4,2294.9) scale(1,1.08)" y="9.7" font-size="27.8" text-anchor="end" fill="#4d4d4d">0.010</text>
<line x1="664.5" x2="670.8" y1="2340.9" y2="2340.9" stroke="#333333" stroke-width="1.5"/>
<text transform="translate(658.4,2341.6) scale(1,1.08)" y="9.7" font-size="27.8" text-anchor="end" fill="#4d4d4d">0.005</text>
<line x1="664.5" x2="670.8" y1="2387.4" y2="2387.4" stroke="#333333" stroke-width="1.5"/>
<text transform="translate(658.4,2388.1) scale(1,1.08)" y="9.7" font-size="27.8" text-anchor="end" fill="#4d4d4d">0.000</text>
<rect x="1181.0" y="2149.6" width="400.2" height="249.0" fill="#fff"/>
<clipPath id="c26"><rect x="1181.0" y="2149.6" width="400.2" height="249.0"/></clipPath>
<g clip-path="url(#c26)">
<line x1="1181.0" x2="1581.2" y1="2150.5" y2="2150.5" stroke="#e6e6e6" stroke-width="1.9"/>
<line x1="1181.0" x2="1581.2" y1="2210.5" y2="2210.5" stroke="#e6e6e6" stroke-width="1.9"/>
<line x1="1181.0" x2="1581.2" y1="2270.6" y2="2270.6" stroke="#e6e6e6" stroke-width="1.9"/>
<line x1="1181.0" x2="1581.2" y1="2330.7" y2="2330.7" stroke="#e6e6e6" stroke-width="1.9"/>
<line x1="1181.0" x2="1581.2" y1="2390.8" y2="2390.8" stroke="#e6e6e6" stroke-width="1.9"/>
<path d="M1199.2,2325.7 L1217.4,2311.5 L1235.6,2303.7 L1253.8,2300.1 L1272.0,2278.8 L1290.1,2266.8 L1308.3,2266.8 L1326.5,2234.4 L1344.7,2245.2 L1362.9,2243.4 L1381.1,2240.2 L1399.3,2259.3 L1417.5,2255.4 L1435.7,2235.0 L1453.8,2226.0 L1472.0,2216.2 L1490.2,2224.8 L1508.4,2204.0 L1526.6,2235.0 L1544.8,2240.7 L1563.0,2236.2 L1563.0,2387.0 L1544.8,2386.3 L1526.6,2385.8 L1508.4,2385.4 L1490.2,2385.4 L1472.0,2384.7 L1453.8,2383.6 L1435.7,2382.4 L1417.5,2381.7 L1399.3,2377.9 L1381.1,2372.2 L1362.9,2370.4 L1344.7,2364.3 L1326.5,2364.3 L1308.3,2368.1 L1290.1,2363.2 L1272.0,2358.6 L1253.8,2357.5 L1235.6,2352.9 L1217.4,2345.0 L1199.2,2340.9Z" fill="#b3b3b3" fill-opacity="0.27"/>
<path d="M1199.2,2333.2 L1217.4,2330.7 L1235.6,2330.7 L1253.8,2330.7 L1272.0,2325.7 L1290.1,2324.6 L1308.3,2325.1 L1326.5,2312.1 L1344.7,2315.1 L1362.9,2316.2 L1381.1,2317.3 L1399.3,2324.6 L1417.5,2330.7 L1435.7,2327.3 L1453.8,2327.3 L1472.0,2323.5 L1490.2,2324.1 L1508.4,2315.1 L1526.6,2319.6 L1544.8,2321.9 L1563.0,2317.8" fill="none" stroke="#7a8281" stroke-width="3.8" stroke-dasharray="17.6 17.6" stroke-linejoin="round"/>
<path d="M1199.2,2330.7 L1217.4,2324.6 L1235.6,2324.1 L1253.8,2319.6 L1272.0,2306.0 L1290.1,2295.1 L1308.3,2290.6 L1326.5,2261.6 L1344.7,2266.1 L1362.9,2258.8 L1381.1,2253.9 L1399.3,2266.1 L1417.5,2275.9 L1435.7,2269.0 L1453.8,2269.0 L1472.0,2260.0 L1490.2,2261.1 L1508.4,2238.4 L1526.6,2243.0 L1544.8,2243.0 L1563.0,2233.4" fill="none" stroke="#00008b" stroke-width="4.2" stroke-linejoin="round"/>
<circle cx="1472.0" cy="2340.0" r="3.55" fill="#000"/>
<circle cx="1490.2" cy="2215.3" r="3.55" fill="#000"/>
<circle cx="1508.4" cy="2160.9" r="3.55" fill="#000"/>
<circle cx="1526.6" cy="2194.7" r="3.55" fill="#000"/>
<circle cx="1544.8" cy="2227.1" r="3.55" fill="#000"/>
</g>
<rect x="1181.7" y="2150.3" width="399.4" height="248.3" fill="none" stroke="#333333" stroke-width="1.5"/>
<rect x="1181.7" y="2101.8" width="399.4" height="47.8" fill="#d9d9d9" stroke="#333333" stroke-width="1.5"/>
<text transform="translate(1381.1,2126.4) scale(1,1.06)" y="10.55" font-size="30.3" text-anchor="middle" fill="#111" stroke="#111" stroke-width="0.4">42_Caramote prawn</text>
<line x1="1199.2" x2="1199.2" y1="2398.6" y2="2404.9" stroke="#333333" stroke-width="1.5"/>
<text transform="translate(1199.2,2421.8) scale(1,1.08)" y="9.7" font-size="27.8" text-anchor="middle" fill="#4d4d4d">2000</text>
<line x1="1290.1" x2="1290.1" y1="2398.6" y2="2404.9" stroke="#333333" stroke-width="1.5"/>
<text transform="translate(1290.1,2421.8) scale(1,1.08)" y="9.7" font-size="27.8" text-anchor="middle" fill="#4d4d4d">2005</text>
<line x1="1381.1" x2="1381.1" y1="2398.6" y2="2404.9" stroke="#333333" stroke-width="1.5"/>
<text transform="translate(1381.1,2421.8) scale(1,1.08)" y="9.7" font-size="27.8" text-anchor="middle" fill="#4d4d4d">2010</text>
<line x1="1472.0" x2="1472.0" y1="2398.6" y2="2404.9" stroke="#333333" stroke-width="1.5"/>
<text transform="translate(1472.0,2421.8) scale(1,1.08)" y="9.7" font-size="27.8" text-anchor="middle" fill="#4d4d4d">2015</text>
<line x1="1563.0" x2="1563.0" y1="2398.6" y2="2404.9" stroke="#333333" stroke-width="1.5"/>
<text transform="translate(1563.0,2421.8) scale(1,1.08)" y="9.7" font-size="27.8" text-anchor="middle" fill="#4d4d4d">2020</text>
<line x1="1174.7" x2="1181.0" y1="2150.5" y2="2150.5" stroke="#333333" stroke-width="1.5"/>
<text transform="translate(1168.6,2151.2) scale(1,1.08)" y="9.7" font-size="27.8" text-anchor="end" fill="#4d4d4d">0.020</text>
<line x1="1174.7" x2="1181.0" y1="2210.5" y2="2210.5" stroke="#333333" stroke-width="1.5"/>
<text transform="translate(1168.6,2211.2) scale(1,1.08)" y="9.7" font-size="27.8" text-anchor="end" fill="#4d4d4d">0.015</text>
<line x1="1174.7" x2="1181.0" y1="2270.6" y2="2270.6" stroke="#333333" stroke-width="1.5"/>
<text transform="translate(1168.6,2271.3) scale(1,1.08)" y="9.7" font-size="27.8" text-anchor="end" fill="#4d4d4d">0.010</text>
<line x1="1174.7" x2="1181.0" y1="2330.7" y2="2330.7" stroke="#333333" stroke-width="1.5"/>
<text transform="translate(1168.6,2331.4) scale(1,1.08)" y="9.7" font-size="27.8" text-anchor="end" fill="#4d4d4d">0.005</text>
<line x1="1174.7" x2="1181.0" y1="2390.8" y2="2390.8" stroke="#333333" stroke-width="1.5"/>
<text transform="translate(1168.6,2391.5) scale(1,1.08)" y="9.7" font-size="27.8" text-anchor="end" fill="#4d4d4d">0.000</text>
<rect x="1691.5" y="2149.6" width="400.2" height="249.0" fill="#fff"/>
<clipPath id="c27"><rect x="1691.5" y="2149.6" width="400.2" height="249.0"/></clipPath>
<g clip-path="url(#c27)">
<line x1="1691.5" x2="2091.7" y1="2196.5" y2="2196.5" stroke="#e6e6e6" stroke-width="1.9"/>
<line x1="1691.5" x2="2091.7" y1="2260.4" y2="2260.4" stroke="#e6e6e6" stroke-width="1.9"/>
<line x1="1691.5" x2="2091.7" y1="2323.9" y2="2323.9" stroke="#e6e6e6" stroke-width="1.9"/>
<line x1="1691.5" x2="2091.7" y1="2387.4" y2="2387.4" stroke="#e6e6e6" stroke-width="1.9"/>
<path d="M1709.7,2338.7 L1727.9,2342.3 L1746.1,2332.5 L1764.3,2334.1 L1782.5,2322.3 L1800.6,2309.2 L1818.8,2330.3 L1837.0,2265.6 L1855.2,2227.1 L1873.4,2241.8 L1891.6,2162.5 L1909.8,2216.9 L1928.0,2312.1 L1946.2,2286.1 L1964.3,2322.3 L1982.5,2272.9 L2000.7,2278.1 L2018.9,2201.7 L2037.1,2236.6 L2055.3,2238.0 L2073.5,2289.5 L2073.5,2387.2 L2055.3,2387.2 L2037.1,2387.2 L2018.9,2387.2 L2000.7,2387.2 L1982.5,2387.2 L1964.3,2387.0 L1946.2,2385.8 L1928.0,2384.7 L1909.8,2383.1 L1891.6,2381.3 L1873.4,2381.7 L1855.2,2382.4 L1837.0,2383.6 L1818.8,2383.1 L1800.6,2381.7 L1782.5,2381.3 L1764.3,2380.2 L1746.1,2377.9 L1727.9,2364.3 L1709.7,2349.5Z" fill="#b3b3b3" fill-opacity="0.27"/>
<path d="M1709.7,2343.9 L1727.9,2348.4 L1746.1,2350.7 L1764.3,2351.8 L1782.5,2351.4 L1800.6,2351.8 L1818.8,2356.8 L1837.0,2345.0 L1855.2,2320.5 L1873.4,2292.9 L1891.6,2303.1 L1909.8,2330.3 L1928.0,2345.0 L1946.2,2346.1 L1964.3,2349.5 L1982.5,2343.9 L2000.7,2337.8 L2018.9,2312.1 L2037.1,2313.7 L2055.3,2335.5 L2073.5,2340.9" fill="none" stroke="#7a8281" stroke-width="3.8" stroke-dasharray="17.6 17.6" stroke-linejoin="round"/>
<path d="M1709.7,2343.9 L1727.9,2350.7 L1746.1,2350.7 L1764.3,2351.1 L1782.5,2352.3 L1800.6,2351.4 L1818.8,2356.8 L1837.0,2351.4 L1855.2,2347.7 L1873.4,2342.7 L1891.6,2337.8 L1909.8,2341.6 L1928.0,2345.0 L1946.2,2346.1 L1964.3,2350.0 L1982.5,2344.6 L2000.7,2345.0 L2018.9,2337.8 L2037.1,2336.4 L2055.3,2340.9 L2073.5,2341.6" fill="none" stroke="#00008b" stroke-width="4.2" stroke-linejoin="round"/>
<circle cx="1709.7" cy="2336.6" r="3.55" fill="#000"/>
<circle cx="1727.9" cy="2313.5" r="3.55" fill="#000"/>
<circle cx="1746.1" cy="2335.5" r="3.55" fill="#000"/>
<circle cx="1764.3" cy="2352.0" r="3.55" fill="#000"/>
<circle cx="1782.5" cy="2345.2" r="3.55" fill="#000"/>
<circle cx="1800.6" cy="2358.6" r="3.55" fill="#000"/>
<circle cx="1818.8" cy="2335.9" r="3.55" fill="#000"/>
<circle cx="1837.0" cy="2319.6" r="3.55" fill="#000"/>
<circle cx="1855.2" cy="2317.6" r="3.55" fill="#000"/>
<circle cx="1873.4" cy="2300.8" r="3.55" fill="#000"/>
<circle cx="1891.6" cy="2348.4" r="3.55" fill="#000"/>
<circle cx="1909.8" cy="2362.0" r="3.55" fill="#000"/>
<circle cx="1928.0" cy="2370.4" r="3.55" fill="#000"/>
<circle cx="1946.2" cy="2362.0" r="3.55" fill="#000"/>
<circle cx="1964.3" cy="2340.5" r="3.55" fill="#000"/>
<circle cx="1982.5" cy="2360.0" r="3.55" fill="#000"/>
<circle cx="2000.7" cy="2357.7" r="3.55" fill="#000"/>
<circle cx="2018.9" cy="2361.1" r="3.55" fill="#000"/>
<circle cx="2037.1" cy="2343.2" r="3.55" fill="#000"/>
<circle cx="2055.3" cy="2351.4" r="3.55" fill="#000"/>
</g>
<rect x="1692.2" y="2150.3" width="399.4" height="248.3" fill="none" stroke="#333333" stroke-width="1.5"/>
<rect x="1692.2" y="2101.8" width="399.4" height="47.8" fill="#d9d9d9" stroke="#333333" stroke-width="1.5"/>
<text transform="translate(1891.6,2126.4) scale(1,1.06)" y="10.55" font-size="30.3" text-anchor="middle" fill="#111" stroke="#111" stroke-width="0.4">43_Norway lobster</text>
<line x1="1709.7" x2="1709.7" y1="2398.6" y2="2404.9" stroke="#333333" stroke-width="1.5"/>
<text transform="translate(1709.7,2421.8) scale(1,1.08)" y="9.7" font-size="27.8" text-anchor="middle" fill="#4d4d4d">2000</text>
<line x1="1800.6" x2="1800.6" y1="2398.6" y2="2404.9" stroke="#333333" stroke-width="1.5"/>
<text transform="translate(1800.6,2421.8) scale(1,1.08)" y="9.7" font-size="27.8" text-anchor="middle" fill="#4d4d4d">2005</text>
<line x1="1891.6" x2="1891.6" y1="2398.6" y2="2404.9" stroke="#333333" stroke-width="1.5"/>
<text transform="translate(1891.6,2421.8) scale(1,1.08)" y="9.7" font-size="27.8" text-anchor="middle" fill="#4d4d4d">2010</text>
<line x1="1982.5" x2="1982.5" y1="2398.6" y2="2404.9" stroke="#333333" stroke-width="1.5"/>
<text transform="translate(1982.5,2421.8) scale(1,1.08)" y="9.7" font-size="27.8" text-anchor="middle" fill="#4d4d4d">2015</text>
<line x1="2073.5" x2="2073.5" y1="2398.6" y2="2404.9" stroke="#333333" stroke-width="1.5"/>
<text transform="translate(2073.5,2421.8) scale(1,1.08)" y="9.7" font-size="27.8" text-anchor="middle" fill="#4d4d4d">2020</text>
<line x1="1685.2" x2="1691.5" y1="2196.5" y2="2196.5" stroke="#333333" stroke-width="1.5"/>
<text transform="translate(1679.1,2197.2) scale(1,1.08)" y="9.7" font-size="27.8" text-anchor="end" fill="#4d4d4d">0.0075</text>
<line x1="1685.2" x2="1691.5" y1="2260.4" y2="2260.4" stroke="#333333" stroke-width="1.5"/>
<text transform="translate(1679.1,2261.1) scale(1,1.08)" y="9.7" font-size="27.8" text-anchor="end" fill="#4d4d4d">0.0050</text>
<line x1="1685.2" x2="1691.5" y1="2323.9" y2="2323.9" stroke="#333333" stroke-width="1.5"/>
<text transform="translate(1679.1,2324.6) scale(1,1.08)" y="9.7" font-size="27.8" text-anchor="end" fill="#4d4d4d">0.0025</text>
<line x1="1685.2" x2="1691.5" y1="2387.4" y2="2387.4" stroke="#333333" stroke-width="1.5"/>
<text transform="translate(1679.1,2388.1) scale(1,1.08)" y="9.7" font-size="27.8" text-anchor="end" fill="#4d4d4d">0.0000</text>
<text transform="translate(1134.1,2477.9) scale(1,1.04)" font-size="48.6" text-anchor="middle" fill="#000">Year</text>
<text transform="rotate(-90) translate(0,60.3) scale(1,1.04) translate(0,-60.3)" font-size="46.2" fill="#000"><tspan x="-1424.4" y="60.3">Catch (t*km</tspan><tspan x="-1184.0" y="35.6" font-size="32">−2</tspan><tspan x="-1147.4" y="60.3"> *y</tspan><tspan x="-1096.6" y="35.6" font-size="32">−1</tspan><tspan x="-1059.1" y="60.3"> )</tspan></text>
</svg></body></html>
